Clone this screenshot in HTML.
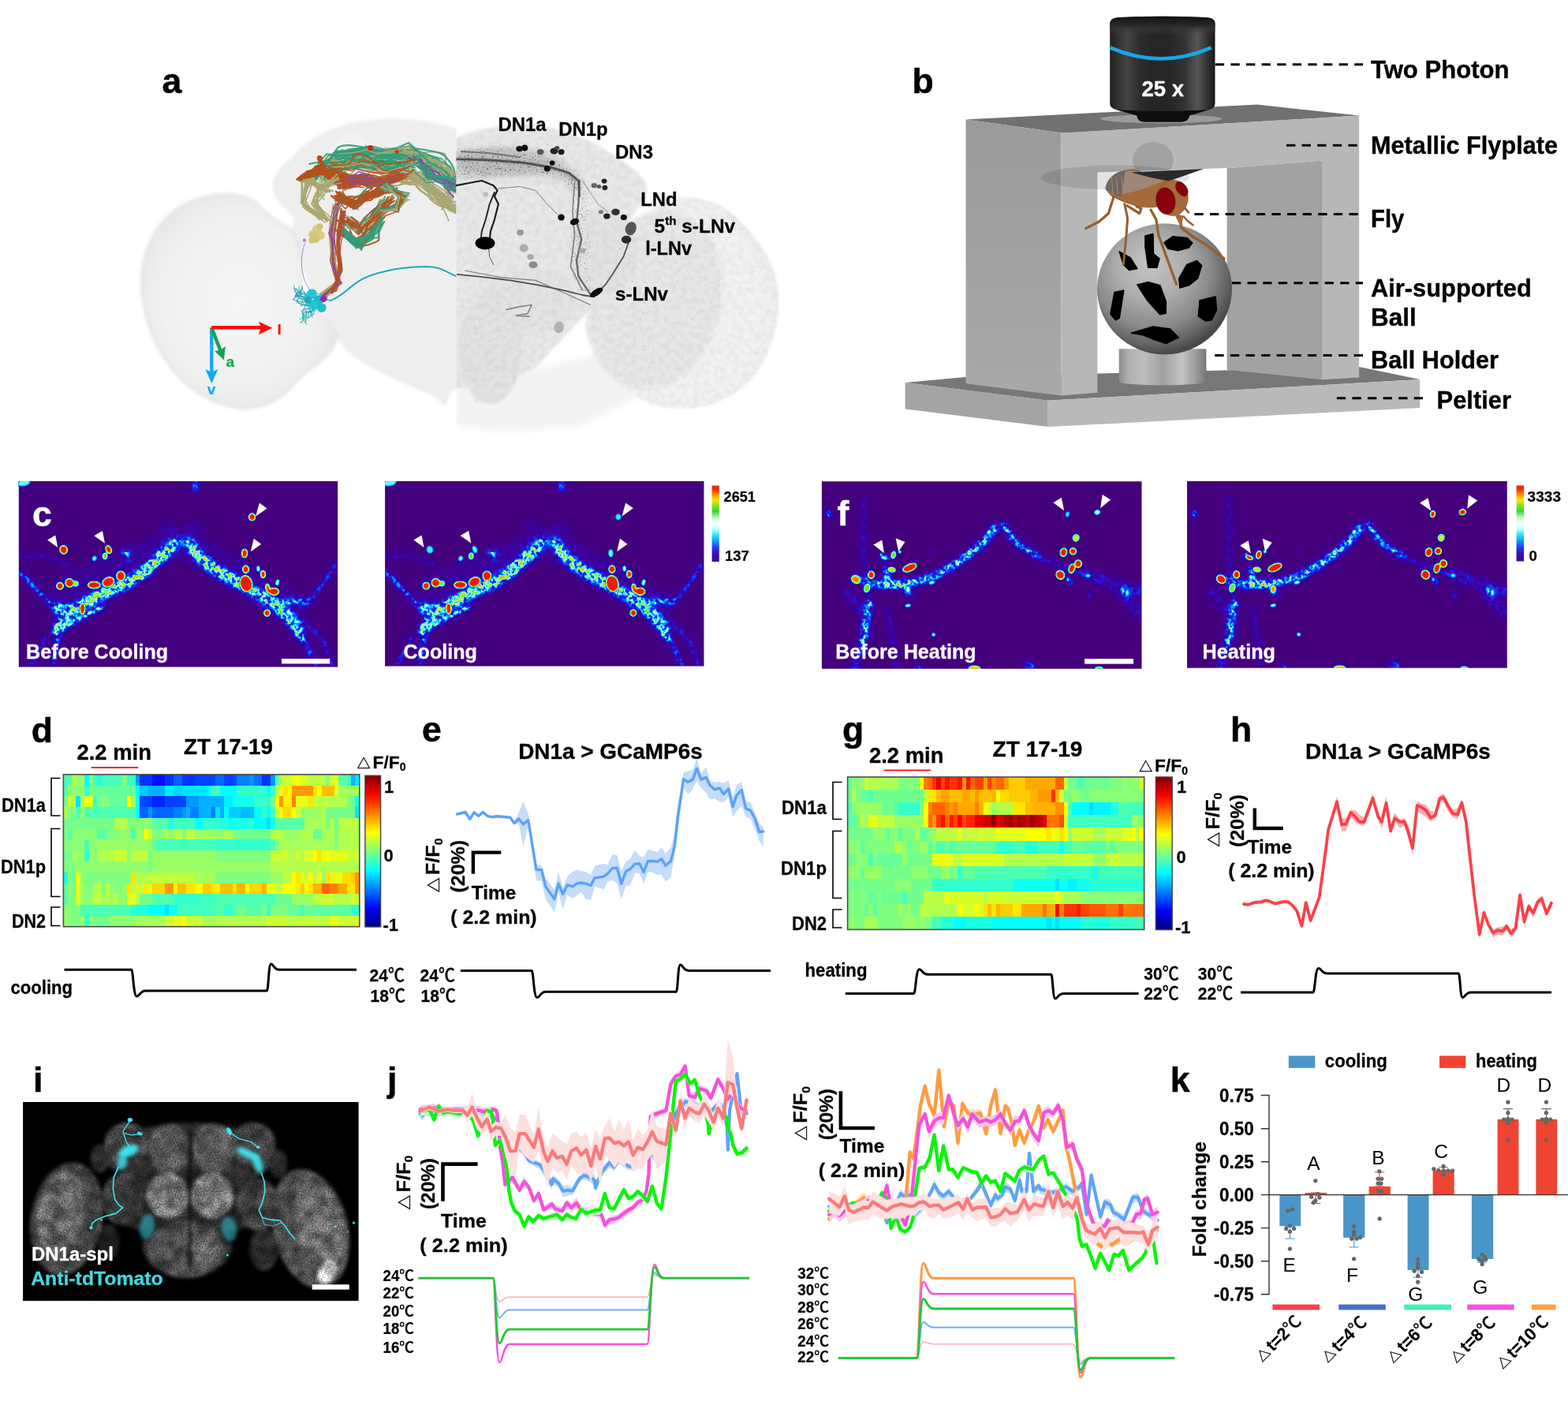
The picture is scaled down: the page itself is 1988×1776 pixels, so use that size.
<!DOCTYPE html>
<html lang="en"><head><meta charset="utf-8"><title>Figure</title>
<style>
html,body{margin:0;padding:0;background:#fff;}
body{width:1988px;height:1776px;overflow:hidden;position:relative;}
svg{position:absolute;left:0;top:0;display:block;}
text{font-family:"Liberation Sans","Noto Sans CJK SC",sans-serif;font-weight:bold;}
.r{font-weight:normal;}
</style></head><body>
<svg width="1988" height="1776" viewBox="0 0 1988 1776" role="img" aria-label="Figure panels a to k">
<defs>
<filter id="aSoft" x="-5%" y="-5%" width="110%" height="110%"><feGaussianBlur stdDeviation="2.2"/></filter>
<filter id="aSoft1" x="-10%" y="-10%" width="120%" height="120%"><feGaussianBlur stdDeviation="0.6"/></filter>
<filter id="aSoft3" x="-20%" y="-20%" width="140%" height="140%"><feGaussianBlur stdDeviation="5"/></filter>
<filter id="aFib" x="-5%" y="-5%" width="110%" height="110%"><feGaussianBlur stdDeviation="0.45"/></filter>
<filter id="aTex" x="0" y="0" width="100%" height="100%" color-interpolation-filters="sRGB">
<feGaussianBlur in="SourceGraphic" stdDeviation="1.6" result="b"/>
<feTurbulence type="fractalNoise" baseFrequency="0.14" numOctaves="3" seed="5" result="t"/>
<feColorMatrix in="t" type="matrix" values="0 0 0 0 0  0 0 0 0 0  0 0 0 0 0  0.1 0 0 0 -0.035" result="n"/>
<feComposite in="n" in2="b" operator="in" result="nm"/>
<feMerge><feMergeNode in="b"/><feMergeNode in="nm"/></feMerge>
</filter>
<filter id="aSpk" x="0" y="0" width="100%" height="100%" color-interpolation-filters="sRGB">
<feTurbulence type="fractalNoise" baseFrequency="0.7" numOctaves="1" seed="9" result="t"/>
<feColorMatrix in="t" type="matrix" values="0 0 0 0 0.1  0 0 0 0 0.1  0 0 0 0 0.1  9 0 0 0 -6.3" result="n"/>
<feComposite in="n" in2="SourceGraphic" operator="in"/>
</filter>
<filter id="aSpk2" x="0" y="0" width="100%" height="100%" color-interpolation-filters="sRGB">
<feTurbulence type="fractalNoise" baseFrequency="0.45" numOctaves="2" seed="4" result="t"/>
<feColorMatrix in="t" type="matrix" values="0 0 0 0 0.05  0 0 0 0 0.05  0 0 0 0 0.05  6 0 0 0 -3.55" result="n"/>
<feGaussianBlur in="SourceGraphic" stdDeviation="3" result="sb"/>
<feComposite in="n" in2="sb" operator="in"/>
</filter>
<radialGradient id="lobeG" cx="0.5" cy="0.5" r="0.55"><stop offset="0" stop-color="#f6f6f6"/><stop offset="0.7" stop-color="#f1f1f1"/><stop offset="1" stop-color="#e6e6e6"/></radialGradient>
<radialGradient id="lobeR" cx="0.45" cy="0.52" r="0.55"><stop offset="0" stop-color="#f1f1f1"/><stop offset="0.85" stop-color="#f2f2f2"/><stop offset="1" stop-color="#ededed"/></radialGradient>
<clipPath id="aRight"><rect x="578.6" y="120" width="430" height="450"/></clipPath>
<clipPath id="aLeft"><rect x="150" y="120" width="428.6" height="450"/></clipPath>
<linearGradient id="objG" x1="0" y1="0" x2="1" y2="0">
<stop offset="0" stop-color="#1e1e1e"/><stop offset="0.06" stop-color="#2e2e2e"/><stop offset="0.16" stop-color="#444"/><stop offset="0.3" stop-color="#2a2a2a"/><stop offset="0.55" stop-color="#252525"/><stop offset="0.72" stop-color="#343434"/><stop offset="0.83" stop-color="#565656"/><stop offset="0.93" stop-color="#303030"/><stop offset="1" stop-color="#1a1a1a"/></linearGradient>
<linearGradient id="objT" x1="0" y1="0" x2="0" y2="1"><stop offset="0" stop-color="#111"/><stop offset="0.5" stop-color="#2a2a2a"/><stop offset="1" stop-color="#444" stop-opacity="0"/></linearGradient>
<radialGradient id="ballG" cx="0.42" cy="0.38" r="0.62" fx="0.38" fy="0.3">
<stop offset="0" stop-color="#c4c4c4"/><stop offset="0.4" stop-color="#adadad"/><stop offset="0.7" stop-color="#8a8a8a"/><stop offset="0.9" stop-color="#626262"/><stop offset="1" stop-color="#484848"/></radialGradient>
<linearGradient id="holdG" x1="0" y1="0" x2="1" y2="0">
<stop offset="0" stop-color="#8c8c8c"/><stop offset="0.12" stop-color="#b2b2b2"/><stop offset="0.3" stop-color="#bdbdbd"/><stop offset="0.5" stop-color="#a0a0a0"/><stop offset="0.72" stop-color="#c4c4c4"/><stop offset="0.88" stop-color="#9a9a9a"/><stop offset="1" stop-color="#777"/></linearGradient>
<linearGradient id="sideG" x1="0" y1="0" x2="0" y2="1"><stop offset="0" stop-color="#9a9a9a"/><stop offset="1" stop-color="#a9a9a9"/></linearGradient>
<filter id="bSoft" x="-5%" y="-5%" width="110%" height="110%"><feGaussianBlur stdDeviation="0.7"/></filter>
<filter id="bSoft2" x="-20%" y="-20%" width="140%" height="140%"><feGaussianBlur stdDeviation="2.5"/></filter>
<clipPath id="ballClip"><ellipse cx="1476.6" cy="366.3" rx="85.3" ry="83"/></clipPath>
<filter id="cfBand" x="0" y="0" width="100%" height="100%" filterUnits="objectBoundingBox" color-interpolation-filters="sRGB">
<feGaussianBlur in="SourceGraphic" stdDeviation="2.2" result="b"/>
<feGaussianBlur in="SourceGraphic" stdDeviation="6" result="bw"/>
<feTurbulence type="fractalNoise" baseFrequency="0.2" numOctaves="2" seed="7" result="t"/>
<feColorMatrix in="t" type="matrix" values="3.0 0 0 0 -1.0  3.0 0 0 0 -1.0  3.0 0 0 0 -1.0  0 0 0 0 1" result="n"/>
<feComposite in="b" in2="n" operator="arithmetic" k1="1.35" k2="0.1" k3="0" k4="0" result="m"/>
<feComposite in="m" in2="bw" operator="arithmetic" k1="0" k2="1" k3="0.45" k4="0" result="m2"/>
<feColorMatrix in="m2" type="matrix" values="1 0 0 0 0  1 0 0 0 0  1 0 0 0 0  0 0 0 0 1" result="g"/>
<feComponentTransfer in="g">
<feFuncR type="table" tableValues="0.263 0.247 0.231 0.194 0.156 0.110 0.055 0.000 0.000 0.000 0.157 0.471 0.784 0.686 0.588 0.431 0.275 0.557 0.839 0.984 0.992 1.000 0.990 0.980 0.961 0.941"/><feFuncG type="table" tableValues="0.004 0.006 0.008 0.044 0.080 0.157 0.275 0.392 0.573 0.753 0.875 0.937 1.000 0.990 0.980 0.951 0.922 0.945 0.969 0.878 0.675 0.471 0.304 0.137 0.118 0.098"/><feFuncB type="table" tableValues="0.494 0.559 0.624 0.743 0.862 0.937 0.969 1.000 1.000 1.000 1.000 1.000 1.000 0.794 0.588 0.353 0.118 0.071 0.024 0.000 0.000 0.000 0.010 0.020 0.029 0.039"/>
</feComponentTransfer>
</filter>
<filter id="cfBlob" x="-5%" y="-5%" width="110%" height="110%" color-interpolation-filters="sRGB">
<feGaussianBlur in="SourceGraphic" stdDeviation="1.0" result="b"/>
<feColorMatrix in="b" type="matrix" values="0 0 0 1 0  0 0 0 1 0  0 0 0 1 0  0 0 0 1 0" result="g"/>
<feComponentTransfer in="g">
<feFuncR type="table" tableValues="0.263 0.247 0.231 0.194 0.156 0.110 0.055 0.000 0.000 0.000 0.157 0.471 0.784 0.686 0.588 0.431 0.275 0.557 0.839 0.984 0.992 1.000 0.990 0.980 0.961 0.941"/><feFuncG type="table" tableValues="0.004 0.006 0.008 0.044 0.080 0.157 0.275 0.392 0.573 0.753 0.875 0.937 1.000 0.990 0.980 0.951 0.922 0.945 0.969 0.878 0.675 0.471 0.304 0.137 0.118 0.098"/><feFuncB type="table" tableValues="0.494 0.559 0.624 0.743 0.862 0.937 0.969 1.000 1.000 1.000 1.000 1.000 1.000 0.794 0.588 0.353 0.118 0.071 0.024 0.000 0.000 0.000 0.010 0.020 0.029 0.039"/>
<feFuncA type="linear" slope="5" intercept="-0.6"/>
</feComponentTransfer>
</filter>
<filter id="cfBandF" x="0" y="0" width="100%" height="100%" filterUnits="objectBoundingBox" color-interpolation-filters="sRGB">
<feGaussianBlur in="SourceGraphic" stdDeviation="2.2" result="b"/>
<feGaussianBlur in="SourceGraphic" stdDeviation="6" result="bw"/>
<feTurbulence type="fractalNoise" baseFrequency="0.2" numOctaves="2" seed="7" result="t"/>
<feColorMatrix in="t" type="matrix" values="3.0 0 0 0 -1.0  3.0 0 0 0 -1.0  3.0 0 0 0 -1.0  0 0 0 0 1" result="n"/>
<feComposite in="b" in2="n" operator="arithmetic" k1="1.5" k2="0.1" k3="0" k4="0" result="m"/>
<feComposite in="m" in2="bw" operator="arithmetic" k1="0" k2="1" k3="0.5" k4="0" result="m2"/>
<feColorMatrix in="m2" type="matrix" values="1 0 0 0 0  1 0 0 0 0  1 0 0 0 0  0 0 0 0 1" result="g"/>
<feComponentTransfer in="g">
<feFuncR type="table" tableValues="0.267 0.251 0.235 0.196 0.157 0.110 0.055 0.000 0.000 0.000 0.157 0.471 0.784 0.686 0.588 0.431 0.275 0.557 0.839 0.984 0.992 1.000 0.990 0.980 0.961 0.941"/><feFuncG type="table" tableValues="0.000 0.002 0.004 0.042 0.079 0.157 0.275 0.392 0.573 0.753 0.875 0.937 1.000 0.990 0.980 0.951 0.922 0.945 0.969 0.878 0.675 0.471 0.304 0.137 0.118 0.098"/><feFuncB type="table" tableValues="0.486 0.551 0.616 0.738 0.860 0.937 0.969 1.000 1.000 1.000 1.000 1.000 1.000 0.794 0.588 0.353 0.118 0.071 0.024 0.000 0.000 0.000 0.010 0.020 0.029 0.039"/>
</feComponentTransfer>
</filter>
<filter id="cfBlobF" x="-5%" y="-5%" width="110%" height="110%" color-interpolation-filters="sRGB">
<feGaussianBlur in="SourceGraphic" stdDeviation="1.0" result="b"/>
<feColorMatrix in="b" type="matrix" values="0 0 0 1 0  0 0 0 1 0  0 0 0 1 0  0 0 0 1 0" result="g"/>
<feComponentTransfer in="g">
<feFuncR type="table" tableValues="0.267 0.251 0.235 0.196 0.157 0.110 0.055 0.000 0.000 0.000 0.157 0.471 0.784 0.686 0.588 0.431 0.275 0.557 0.839 0.984 0.992 1.000 0.990 0.980 0.961 0.941"/><feFuncG type="table" tableValues="0.000 0.002 0.004 0.042 0.079 0.157 0.275 0.392 0.573 0.753 0.875 0.937 1.000 0.990 0.980 0.951 0.922 0.945 0.969 0.878 0.675 0.471 0.304 0.137 0.118 0.098"/><feFuncB type="table" tableValues="0.486 0.551 0.616 0.738 0.860 0.937 0.969 1.000 1.000 1.000 1.000 1.000 1.000 0.794 0.588 0.353 0.118 0.071 0.024 0.000 0.000 0.000 0.010 0.020 0.029 0.039"/>
<feFuncA type="linear" slope="5" intercept="-0.6"/>
</feComponentTransfer>
</filter>
<linearGradient id="cfbar" x1="0" y1="0" x2="0" y2="1"><stop offset="0" stop-color="#e8200a"/><stop offset="0.05" stop-color="#ff3000"/><stop offset="0.12" stop-color="#ff9000"/><stop offset="0.19" stop-color="#ffe800"/><stop offset="0.27" stop-color="#80e020"/><stop offset="0.34" stop-color="#30d830"/><stop offset="0.42" stop-color="#c0f8c0"/><stop offset="0.5" stop-color="#ffffff"/><stop offset="0.58" stop-color="#b0ffff"/><stop offset="0.66" stop-color="#20e0f0"/><stop offset="0.74" stop-color="#1090ff"/><stop offset="0.82" stop-color="#2838f0"/><stop offset="0.9" stop-color="#3810b8"/><stop offset="1" stop-color="#38088c"/></linearGradient>
<linearGradient id="jetv" x1="0" y1="0" x2="0" y2="1"><stop offset="0.000" stop-color="#800000"/><stop offset="0.025" stop-color="#990000"/><stop offset="0.050" stop-color="#b30000"/><stop offset="0.075" stop-color="#cc0000"/><stop offset="0.100" stop-color="#e50000"/><stop offset="0.125" stop-color="#ff0000"/><stop offset="0.150" stop-color="#ff1a00"/><stop offset="0.175" stop-color="#ff3300"/><stop offset="0.200" stop-color="#ff4c00"/><stop offset="0.225" stop-color="#ff6600"/><stop offset="0.250" stop-color="#ff8000"/><stop offset="0.275" stop-color="#ff9900"/><stop offset="0.300" stop-color="#ffb300"/><stop offset="0.325" stop-color="#ffcc00"/><stop offset="0.350" stop-color="#ffe500"/><stop offset="0.375" stop-color="#ffff00"/><stop offset="0.400" stop-color="#e5ff1a"/><stop offset="0.425" stop-color="#ccff33"/><stop offset="0.450" stop-color="#b3ff4c"/><stop offset="0.475" stop-color="#99ff66"/><stop offset="0.500" stop-color="#80ff80"/><stop offset="0.525" stop-color="#66ff99"/><stop offset="0.550" stop-color="#4cffb3"/><stop offset="0.575" stop-color="#33ffcc"/><stop offset="0.600" stop-color="#1affe5"/><stop offset="0.625" stop-color="#00ffff"/><stop offset="0.650" stop-color="#00e5ff"/><stop offset="0.675" stop-color="#00ccff"/><stop offset="0.700" stop-color="#00b3ff"/><stop offset="0.725" stop-color="#0099ff"/><stop offset="0.750" stop-color="#0080ff"/><stop offset="0.775" stop-color="#0066ff"/><stop offset="0.800" stop-color="#004cff"/><stop offset="0.825" stop-color="#0033ff"/><stop offset="0.850" stop-color="#001aff"/><stop offset="0.875" stop-color="#0000ff"/><stop offset="0.900" stop-color="#0000e5"/><stop offset="0.925" stop-color="#0000cc"/><stop offset="0.950" stop-color="#0000b3"/><stop offset="0.975" stop-color="#000099"/><stop offset="1.000" stop-color="#000080"/></linearGradient>
<filter id="brTex" x="0" y="0" width="100%" height="100%" color-interpolation-filters="sRGB">
<feGaussianBlur in="SourceGraphic" stdDeviation="2.2" result="b"/>
<feTurbulence type="fractalNoise" baseFrequency="0.55" numOctaves="2" seed="3" result="t"/>
<feColorMatrix in="t" type="matrix" values="1.6 0 0 0 -0.3  1.6 0 0 0 -0.3  1.6 0 0 0 -0.3  0 0 0 0 1" result="n"/>
<feTurbulence type="fractalNoise" baseFrequency="0.06" numOctaves="2" seed="11" result="t2"/>
<feColorMatrix in="t2" type="matrix" values="2.0 0 0 0 -0.5  2.0 0 0 0 -0.5  2.0 0 0 0 -0.5  0 0 0 0 1" result="n2"/>
<feComposite in="b" in2="n" operator="arithmetic" k1="0.7" k2="0.6" k3="0" k4="0" result="m"/>
<feComposite in="m" in2="n2" operator="arithmetic" k1="0.6" k2="0.7" k3="0" k4="0"/>
</filter>
<filter id="cyBlur" x="-20%" y="-20%" width="140%" height="140%"><feGaussianBlur stdDeviation="0.7"/></filter>
<filter id="cyBlur2" x="-30%" y="-30%" width="160%" height="160%"><feGaussianBlur stdDeviation="2.2"/></filter>
<clipPath id="cli"><rect x="0" y="0" width="425.5" height="251.9"/></clipPath>
</defs>

<text x="205.5" y="118.0" font-size="44.5" stroke="#000" stroke-width="0.53" stroke-linejoin="round" >a</text>
<g clip-path="url(#aLeft)">
<g filter="url(#aSoft)">
<path d="M 179.8,367.8 C 177.3,318.2 197.2,268.7 254.2,251.3 C 283.9,242.6 318.6,243.9 333.4,266.2 C 343.3,276.1 358.2,283.5 368.1,291.0 C 383.0,308.3 378.0,343.0 383.0,367.8 C 397.9,392.5 427.6,412.4 426.4,429.7 C 420.2,454.5 395.4,461.9 373.1,486.7 C 353.3,511.5 321.1,521.4 298.8,516.4 C 234.3,506.5 184.8,442.1 179.8,367.8 Z" fill="url(#lobeG)" stroke="#dedede" stroke-width="2"/>
<path d="M 586.2,167.1 C 531.7,147.3 482.1,149.7 444.9,157.2 C 407.8,167.1 383.0,184.4 370.6,201.8 C 348.3,214.2 340.9,236.5 353.3,253.8 C 365.6,268.7 378.0,273.6 373.1,283.5 C 368.1,291.0 375.6,298.4 379.3,313.3 C 383.0,338.0 392.9,362.8 410.2,392.5 C 422.6,417.3 430.1,432.2 444.9,447.1 C 469.7,466.9 511.8,484.2 551.5,501.6 L 563.9,512.7 L 571.3,494.1 L 586.2,491.7 Z" fill="#eeeeee" stroke="#e4e4e4" stroke-width="1.5"/>
<ellipse cx="444.9" cy="214.2" rx="30" ry="45" fill="#f2f2f2"/>
</g>
<g filter="url(#aFib)">
<path d="M476.1,200.8 C489.9,200.5 504.8,204.8 518.5,198.2 C534.7,199.7 539.0,195.0 555.5,200.9 C565.7,219.2 572.3,222.5 581.0,235.0" fill="none" stroke="#a9a672" stroke-width="2.03" stroke-opacity="0.95" stroke-linecap="round"/>
<path d="M475.0,204.5 C495.4,193.1 495.0,194.1 525.3,193.0 C532.7,203.4 550.5,198.5 559.0,210.6 C571.9,212.6 575.0,222.0 584.2,230.3" fill="none" stroke="#a9a672" stroke-width="2.10" stroke-opacity="0.95" stroke-linecap="round"/>
<path d="M490.7,200.8 C498.7,190.5 511.5,192.2 523.8,190.3 C526.8,193.5 537.0,210.0 543.8,212.2 C555.9,233.2 567.4,227.7 582.1,240.9" fill="none" stroke="#a9a672" stroke-width="2.16" stroke-opacity="0.95" stroke-linecap="round"/>
<path d="M478.0,197.8 C491.7,203.4 500.1,202.7 525.2,195.3 C532.3,202.5 545.3,213.0 555.9,213.0 C568.0,226.2 583.3,222.7 592.0,232.5" fill="none" stroke="#a9a672" stroke-width="2.30" stroke-opacity="0.95" stroke-linecap="round"/>
<path d="M482.4,206.7 C490.6,202.8 503.1,192.2 519.8,183.3 C522.5,189.5 544.1,199.7 558.8,211.9 C570.4,212.7 569.7,219.1 574.8,229.7" fill="none" stroke="#a9a672" stroke-width="1.79" stroke-opacity="0.95" stroke-linecap="round"/>
<path d="M460.7,205.7 C480.4,207.3 499.1,194.6 523.1,191.3 C533.7,191.5 543.0,197.0 552.1,209.2 C569.9,216.7 588.3,224.5 590.7,230.6" fill="none" stroke="#a9a672" stroke-width="1.62" stroke-opacity="0.95" stroke-linecap="round"/>
<path d="M477.7,208.9 C489.4,195.4 514.2,207.3 529.2,198.6 C531.6,189.6 559.3,192.9 564.2,195.2 C565.2,202.3 565.5,225.9 575.2,235.9" fill="none" stroke="#a9a672" stroke-width="1.79" stroke-opacity="0.95" stroke-linecap="round"/>
<path d="M473.6,201.5 C487.6,198.1 511.9,194.7 520.3,199.3 C534.7,203.6 539.4,201.4 552.2,207.1 C569.3,226.5 564.8,225.2 579.2,238.5" fill="none" stroke="#a9a672" stroke-width="2.13" stroke-opacity="0.95" stroke-linecap="round"/>
<path d="M478.3,204.1 C494.3,204.4 495.5,207.5 512.7,196.8 C524.2,204.9 529.2,207.7 545.5,211.0 C553.2,218.6 565.7,215.9 569.5,222.3" fill="none" stroke="#2f9f7c" stroke-width="1.49" stroke-opacity="0.95" stroke-linecap="round"/>
<path d="M472.2,196.1 C496.6,187.7 504.9,195.4 522.3,194.6 C525.7,205.3 545.4,197.5 556.5,205.1 C559.4,209.9 568.2,220.8 572.1,240.0" fill="none" stroke="#a9a672" stroke-width="1.54" stroke-opacity="0.95" stroke-linecap="round"/>
<path d="M471.9,215.7 C487.5,204.8 499.6,199.2 511.6,191.0 C529.9,202.7 539.1,198.4 556.4,207.3 C569.2,223.3 566.5,230.6 571.7,233.1" fill="none" stroke="#2f9f7c" stroke-width="1.47" stroke-opacity="0.95" stroke-linecap="round"/>
<path d="M472.2,195.8 C484.6,192.4 511.6,192.5 517.1,198.3 C536.6,201.0 538.7,201.8 553.5,205.0 C556.6,215.7 572.7,230.7 578.4,239.4" fill="none" stroke="#a9a672" stroke-width="2.19" stroke-opacity="0.95" stroke-linecap="round"/>
<path d="M474.4,204.1 C493.7,194.4 501.1,183.1 524.7,186.8 C531.9,192.8 540.0,198.3 540.8,198.6 C553.0,218.2 564.5,219.6 578.2,235.9" fill="none" stroke="#2f9f7c" stroke-width="2.17" stroke-opacity="0.95" stroke-linecap="round"/>
<path d="M471.9,201.6 C498.4,208.7 506.7,200.7 521.1,193.4 C528.7,190.2 547.4,206.1 547.8,201.4 C559.7,211.6 576.3,226.1 584.7,237.8" fill="none" stroke="#2f9f7c" stroke-width="1.53" stroke-opacity="0.95" stroke-linecap="round"/>
<path d="M481.3,205.2 C504.8,204.4 516.2,191.0 529.2,188.5 C540.0,190.6 561.9,191.9 566.0,200.1 C579.6,212.9 575.9,225.6 580.0,240.5" fill="none" stroke="#2f9f7c" stroke-width="2.23" stroke-opacity="0.95" stroke-linecap="round"/>
<path d="M478.6,196.2 C496.2,194.1 504.9,200.2 513.8,186.4 C523.5,202.8 543.9,200.9 556.5,212.5 C560.9,214.9 569.3,226.5 576.7,231.3" fill="none" stroke="#a9a672" stroke-width="1.72" stroke-opacity="0.95" stroke-linecap="round"/>
<path d="M466.7,201.3 C487.7,197.3 499.4,191.5 522.7,190.2 C540.6,192.5 556.1,203.6 570.4,211.2 C575.7,220.7 580.4,233.8 578.1,243.8" fill="none" stroke="#2f9f7c" stroke-width="2.23" stroke-opacity="0.95" stroke-linecap="round"/>
<path d="M466.4,199.6 C481.0,203.6 499.7,186.8 518.7,186.1 C529.5,199.4 538.8,204.5 554.7,210.8 C565.5,221.9 575.0,222.0 575.5,232.2" fill="none" stroke="#a9a672" stroke-width="1.95" stroke-opacity="0.95" stroke-linecap="round"/>
<path d="M474.4,208.4 C488.9,204.7 497.0,201.0 525.0,194.3 C533.9,197.8 545.1,209.0 548.2,212.3 C554.4,215.7 568.6,217.3 574.4,231.3" fill="none" stroke="#2f9f7c" stroke-width="1.68" stroke-opacity="0.95" stroke-linecap="round"/>
<path d="M478.5,198.8 C492.6,195.3 513.8,202.1 538.4,198.9 C546.0,206.3 551.7,195.6 547.3,203.1 C559.8,210.3 560.4,235.5 564.8,239.7" fill="none" stroke="#2f9f7c" stroke-width="1.87" stroke-opacity="0.95" stroke-linecap="round"/>
<path d="M482.1,203.1 C506.4,195.1 503.3,189.1 523.7,189.3 C527.2,193.3 537.2,194.1 559.7,201.4 C569.4,208.0 577.9,227.5 588.0,235.9" fill="none" stroke="#2f9f7c" stroke-width="1.65" stroke-opacity="0.95" stroke-linecap="round"/>
<path d="M478.5,195.5 C495.4,198.5 503.3,200.5 519.8,200.3 C533.3,206.9 540.2,208.3 555.3,205.2 C569.3,223.2 559.2,237.4 571.2,246.5" fill="none" stroke="#2f9f7c" stroke-width="1.42" stroke-opacity="0.95" stroke-linecap="round"/>
<path d="M483.8,196.8 C482.8,194.7 499.4,186.6 502.8,196.2 C517.0,202.9 531.5,208.5 554.4,214.5 C562.2,212.2 575.4,215.3 589.0,229.8" fill="none" stroke="#a9a672" stroke-width="2.28" stroke-opacity="0.95" stroke-linecap="round"/>
<path d="M462.4,199.2 C479.0,200.2 489.6,194.4 510.7,189.9 C531.8,195.0 549.4,202.8 562.8,212.2 C572.2,215.0 575.1,224.7 581.7,233.8" fill="none" stroke="#a9a672" stroke-width="1.60" stroke-opacity="0.95" stroke-linecap="round"/>
<path d="M493.0,207.6 C500.4,203.5 516.3,197.4 521.0,194.7 C533.3,208.1 534.3,203.3 556.7,219.8 C561.4,216.4 570.8,232.4 575.0,233.6" fill="none" stroke="#2f9f7c" stroke-width="1.42" stroke-opacity="0.95" stroke-linecap="round"/>
<path d="M473.2,209.5 C498.4,208.7 511.4,193.4 526.0,192.9 C546.5,207.5 546.3,197.7 555.8,207.0 C558.4,216.8 564.0,221.3 575.2,229.2" fill="none" stroke="#a9a672" stroke-width="2.14" stroke-opacity="0.95" stroke-linecap="round"/>
<path d="M491.1,210.5 C496.8,210.8 498.4,193.6 510.7,186.5 C518.8,195.5 538.0,207.0 554.5,203.5 C563.3,208.2 571.7,213.1 576.9,222.1" fill="none" stroke="#a9a672" stroke-width="1.91" stroke-opacity="0.95" stroke-linecap="round"/>
<path d="M474.1,197.4 C479.5,190.7 493.9,193.5 513.1,194.5 C527.3,203.2 531.9,207.7 550.0,209.6 C560.3,226.1 567.2,224.8 578.4,240.9" fill="none" stroke="#a9a672" stroke-width="1.48" stroke-opacity="0.95" stroke-linecap="round"/>
<path d="M479.0,210.1 C488.3,213.6 502.6,208.0 516.1,201.2 C529.6,206.6 541.2,211.2 548.0,210.3 C555.4,217.8 562.5,235.5 568.5,240.6" fill="none" stroke="#2f9f7c" stroke-width="1.93" stroke-opacity="0.95" stroke-linecap="round"/>
<path d="M477.7,194.3 C497.9,194.9 517.0,194.8 532.3,193.0 C546.6,198.1 546.8,204.6 554.6,214.2 C565.7,225.2 563.6,234.6 575.2,244.7" fill="none" stroke="#a9a672" stroke-width="1.63" stroke-opacity="0.95" stroke-linecap="round"/>
<path d="M479.4,199.7 C497.9,198.1 510.2,204.1 526.7,196.9 C528.2,203.1 533.8,196.7 547.1,205.3 C553.0,226.3 570.5,237.1 586.1,244.7" fill="none" stroke="#a9a672" stroke-width="1.67" stroke-opacity="0.95" stroke-linecap="round"/>
<path d="M470.3,196.5 C487.9,192.7 506.7,186.4 518.2,180.9 C528.7,189.8 544.8,209.2 557.7,212.9 C562.7,215.1 565.7,216.2 576.6,233.7" fill="none" stroke="#2f9f7c" stroke-width="1.93" stroke-opacity="0.95" stroke-linecap="round"/>
<path d="M495.9,220.8 C511.2,217.8 526.0,217.0 535.1,229.0 C540.7,239.0 552.6,248.3 564.4,252.1 C567.4,263.1 565.8,264.5 575.2,267.6" fill="none" stroke="#a9a672" stroke-width="2.06" stroke-opacity="0.95" stroke-linecap="round"/>
<path d="M493.3,223.3 C509.7,221.8 519.3,227.6 532.9,234.2 C540.0,236.9 552.3,255.4 566.9,243.6 C565.5,255.1 583.4,258.0 584.6,267.3" fill="none" stroke="#a9a672" stroke-width="1.70" stroke-opacity="0.95" stroke-linecap="round"/>
<path d="M488.4,215.1 C498.1,222.7 508.1,237.8 526.9,233.5 C533.2,246.2 553.5,250.8 557.7,260.9 C559.9,259.4 571.8,264.4 576.9,260.2" fill="none" stroke="#a9a672" stroke-width="1.96" stroke-opacity="0.95" stroke-linecap="round"/>
<path d="M494.8,220.6 C500.2,219.3 512.7,226.9 517.6,222.9 C527.8,232.4 550.0,241.3 552.2,251.9 C561.9,260.8 577.0,262.8 586.3,275.8" fill="none" stroke="#a9a672" stroke-width="1.86" stroke-opacity="0.95" stroke-linecap="round"/>
<path d="M492.7,233.7 C514.5,224.9 519.8,236.6 536.4,226.1 C534.0,238.8 540.4,239.4 555.4,247.2 C563.4,256.6 557.5,249.0 580.5,263.3" fill="none" stroke="#a9a672" stroke-width="2.18" stroke-opacity="0.95" stroke-linecap="round"/>
<path d="M487.5,226.0 C501.4,233.3 515.5,227.6 526.2,234.1 C532.7,246.8 545.9,246.8 550.7,257.2 C571.0,256.1 572.2,254.0 586.1,255.6" fill="none" stroke="#a9a672" stroke-width="1.51" stroke-opacity="0.95" stroke-linecap="round"/>
<path d="M500.1,223.1 C522.9,217.7 534.2,232.7 541.7,232.4 C552.0,246.8 560.5,248.5 572.9,255.5 C571.2,265.3 564.8,260.3 577.4,266.5" fill="none" stroke="#a9a672" stroke-width="2.19" stroke-opacity="0.95" stroke-linecap="round"/>
<path d="M496.9,224.5 C499.5,215.4 506.6,222.7 521.8,218.0 C540.5,228.0 555.5,234.4 572.1,248.7 C569.9,256.9 565.7,259.5 571.1,267.1" fill="none" stroke="#a9a672" stroke-width="1.55" stroke-opacity="0.95" stroke-linecap="round"/>
<path d="M506.0,229.0 C513.7,227.9 523.7,216.6 528.2,223.9 C539.7,229.7 547.9,240.6 564.4,247.3 C560.5,250.9 564.4,261.8 569.0,267.1" fill="none" stroke="#a9a672" stroke-width="1.58" stroke-opacity="0.95" stroke-linecap="round"/>
<path d="M488.9,228.0 C502.2,226.8 510.9,228.6 532.3,233.2 C536.1,234.7 535.4,235.3 543.4,241.5 C555.3,252.8 561.8,260.6 568.8,279.8" fill="none" stroke="#a9a672" stroke-width="1.60" stroke-opacity="0.95" stroke-linecap="round"/>
<path d="M496.3,227.7 C516.5,226.2 523.7,222.1 532.0,217.7 C548.5,235.0 548.0,240.4 559.9,246.3 C569.8,262.3 576.8,258.9 581.2,270.3" fill="none" stroke="#a9a672" stroke-width="2.15" stroke-opacity="0.95" stroke-linecap="round"/>
<path d="M494.0,233.7 C510.5,240.6 515.5,224.2 520.1,227.6 C546.2,231.9 548.3,234.3 561.3,244.2 C570.2,254.2 572.6,263.0 586.2,274.9" fill="none" stroke="#a9a672" stroke-width="1.93" stroke-opacity="0.95" stroke-linecap="round"/>
<path d="M501.2,213.1 C513.4,220.2 527.8,214.5 535.3,228.9 C547.6,240.8 567.8,251.3 574.6,250.5 C567.9,259.4 573.2,263.3 560.5,261.9" fill="none" stroke="#a9a672" stroke-width="1.75" stroke-opacity="0.95" stroke-linecap="round"/>
<path d="M483.6,233.2 C502.7,223.3 516.5,223.6 529.0,220.5 C536.1,226.0 541.2,237.2 552.5,244.5 C554.2,260.0 564.4,262.6 580.8,261.2" fill="none" stroke="#a9a672" stroke-width="1.45" stroke-opacity="0.95" stroke-linecap="round"/>
<path d="M491.8,237.4 C513.6,233.8 533.0,227.8 543.1,223.5 C553.1,241.2 551.7,239.2 565.1,250.8 C565.6,249.5 564.8,246.1 562.8,255.6" fill="none" stroke="#a9a672" stroke-width="1.65" stroke-opacity="0.95" stroke-linecap="round"/>
<path d="M513.5,222.5 C517.4,217.3 521.6,224.0 520.5,224.2 C541.6,238.5 554.8,245.6 571.4,255.4 C569.6,261.8 571.5,262.0 577.9,269.8" fill="none" stroke="#a9a672" stroke-width="2.25" stroke-opacity="0.95" stroke-linecap="round"/>
<path d="M505.3,226.5 C510.8,228.9 516.0,224.1 536.9,221.9 C541.5,233.4 541.1,240.6 545.3,252.3 C556.7,264.2 564.4,261.6 580.6,268.4" fill="none" stroke="#a9a672" stroke-width="1.81" stroke-opacity="0.95" stroke-linecap="round"/>
<path d="M492.2,222.6 C501.6,221.6 512.8,223.1 527.9,216.9 C535.6,226.6 539.5,236.0 555.0,241.7 C559.4,250.9 568.1,254.5 573.0,262.7" fill="none" stroke="#a9a672" stroke-width="1.48" stroke-opacity="0.95" stroke-linecap="round"/>
<path d="M503.2,228.9 C510.2,231.2 523.7,214.3 534.8,220.5 C539.5,217.5 544.1,234.2 554.3,245.4 C557.8,252.0 564.2,257.7 572.2,268.5" fill="none" stroke="#a9a672" stroke-width="1.72" stroke-opacity="0.95" stroke-linecap="round"/>
<path d="M491.5,223.2 C502.7,220.5 512.0,223.5 530.8,230.2 C538.5,236.7 544.7,251.7 553.9,251.7 C564.9,252.3 568.5,258.7 574.8,259.0" fill="none" stroke="#a9a672" stroke-width="1.46" stroke-opacity="0.95" stroke-linecap="round"/>
<path d="M493.5,210.3 C504.3,226.8 514.9,217.8 538.3,230.0 C548.8,244.2 551.8,245.4 556.3,252.8 C559.1,260.5 566.0,261.0 576.8,269.9" fill="none" stroke="#a9a672" stroke-width="2.08" stroke-opacity="0.95" stroke-linecap="round"/>
<path d="M499.6,227.6 C509.7,229.6 518.2,234.8 529.6,234.1 C539.7,242.1 543.8,244.6 551.9,249.5 C561.7,253.0 565.0,266.1 580.0,267.6" fill="none" stroke="#a9a672" stroke-width="1.46" stroke-opacity="0.95" stroke-linecap="round"/>
<path d="M495.7,222.9 C511.4,225.8 532.4,226.7 546.1,227.9 C555.3,227.5 564.6,229.4 566.9,243.7 C573.5,254.9 565.7,262.0 564.7,262.6" fill="none" stroke="#a9a672" stroke-width="1.76" stroke-opacity="0.95" stroke-linecap="round"/>
<path d="M492.3,228.4 C501.2,234.6 520.1,221.4 529.7,229.3 C539.9,238.6 550.2,247.7 558.2,248.7 C559.2,248.0 562.7,266.6 559.8,265.5" fill="none" stroke="#a9a672" stroke-width="1.82" stroke-opacity="0.95" stroke-linecap="round"/>
<path d="M520.1,199.5 C526.0,209.0 528.9,211.2 541.8,215.9 C548.4,212.1 550.4,219.1 556.4,219.0 C561.8,229.9 566.2,241.0 574.8,249.3" fill="none" stroke="#8a45a8" stroke-width="2.18" stroke-opacity="0.95" stroke-linecap="round"/>
<path d="M531.3,197.0 C536.6,201.2 535.4,218.4 540.5,223.8 C547.1,225.9 557.9,230.5 557.2,226.4 C563.9,234.8 573.5,232.6 585.9,236.0" fill="none" stroke="#2f9f7c" stroke-width="2.04" stroke-opacity="0.95" stroke-linecap="round"/>
<path d="M533.3,201.5 C541.6,210.2 537.6,217.4 542.5,221.4 C549.0,222.0 561.0,232.4 571.0,226.9 C580.1,227.7 579.4,231.8 582.5,232.4" fill="none" stroke="#8a45a8" stroke-width="1.53" stroke-opacity="0.95" stroke-linecap="round"/>
<path d="M518.3,211.0 C529.4,207.4 532.1,210.5 544.8,219.9 C548.2,215.3 546.5,221.2 555.7,223.2 C560.8,231.8 569.5,237.8 579.3,242.9" fill="none" stroke="#2f9f7c" stroke-width="1.71" stroke-opacity="0.95" stroke-linecap="round"/>
<path d="M527.1,198.9 C534.6,203.1 537.7,208.6 549.7,224.1 C550.8,224.9 560.1,234.1 563.6,236.4 C565.5,232.2 575.6,234.4 574.4,238.7" fill="none" stroke="#2f9f7c" stroke-width="1.77" stroke-opacity="0.95" stroke-linecap="round"/>
<path d="M524.9,198.9 C532.6,204.1 538.1,212.9 542.3,225.3 C561.1,221.3 554.9,225.4 566.3,224.3 C566.5,232.3 579.9,231.8 576.6,238.1" fill="none" stroke="#8a45a8" stroke-width="1.52" stroke-opacity="0.95" stroke-linecap="round"/>
<path d="M526.7,208.0 C535.6,209.2 544.5,214.7 551.4,220.1 C551.0,228.5 567.3,233.3 574.8,234.1 C577.4,235.5 584.9,236.8 583.9,236.1" fill="none" stroke="#2f9f7c" stroke-width="1.75" stroke-opacity="0.95" stroke-linecap="round"/>
<path d="M530.1,203.3 C539.2,209.1 543.2,212.4 545.5,225.9 C547.2,226.6 559.0,225.0 565.3,225.2 C571.6,232.4 581.1,232.8 582.1,239.9" fill="none" stroke="#2f9f7c" stroke-width="1.50" stroke-opacity="0.95" stroke-linecap="round"/>
<path d="M525.6,205.4 C534.3,212.0 539.9,218.1 552.0,225.4 C560.1,228.2 560.2,222.9 568.0,224.4 C570.9,234.4 591.4,243.1 590.3,245.0" fill="none" stroke="#2f9f7c" stroke-width="2.26" stroke-opacity="0.95" stroke-linecap="round"/>
<path d="M517.5,199.7 C527.2,204.6 538.2,216.7 545.4,224.0 C552.2,224.0 554.2,223.5 567.5,228.1 C573.3,235.5 570.9,241.6 577.2,241.7" fill="none" stroke="#8a45a8" stroke-width="1.82" stroke-opacity="0.95" stroke-linecap="round"/>
<path d="M524.1,196.0 C532.6,206.3 543.4,211.4 547.3,222.6 C559.1,222.9 560.2,230.1 567.3,224.3 C573.3,233.2 577.5,227.1 580.8,240.2" fill="none" stroke="#2f9f7c" stroke-width="1.65" stroke-opacity="0.95" stroke-linecap="round"/>
<path d="M528.5,197.3 C528.6,212.7 537.0,218.1 541.8,226.8 C548.4,229.1 563.3,227.5 571.1,227.9 C575.3,235.7 578.3,241.9 584.4,245.1" fill="none" stroke="#2f9f7c" stroke-width="1.94" stroke-opacity="0.95" stroke-linecap="round"/>
<path d="M519.2,204.8 C537.7,210.7 541.2,220.4 545.6,225.1 C549.6,230.6 557.3,217.2 569.8,226.1 C578.6,234.6 580.3,233.4 585.6,238.9" fill="none" stroke="#2f9f7c" stroke-width="1.61" stroke-opacity="0.95" stroke-linecap="round"/>
<path d="M523.5,198.5 C533.9,208.3 537.1,217.3 547.9,223.7 C553.8,236.5 564.5,230.1 569.7,232.9 C563.9,235.3 579.4,243.5 577.1,242.4" fill="none" stroke="#8a45a8" stroke-width="1.80" stroke-opacity="0.95" stroke-linecap="round"/>
<path d="M531.2,201.7 C536.9,209.2 541.7,207.9 552.0,221.5 C558.2,229.4 570.7,232.2 574.0,235.0 C578.4,232.6 569.4,230.9 570.1,241.7" fill="none" stroke="#8a45a8" stroke-width="1.56" stroke-opacity="0.95" stroke-linecap="round"/>
<path d="M524.2,204.1 C524.7,213.1 550.4,222.4 556.1,223.3 C563.4,228.6 562.2,226.1 566.9,234.1 C567.0,239.4 571.5,239.2 576.7,243.3" fill="none" stroke="#2f9f7c" stroke-width="1.98" stroke-opacity="0.95" stroke-linecap="round"/>
<path d="M518.9,203.8 C518.7,216.9 534.6,222.5 540.3,231.5 C551.2,230.4 555.5,231.3 567.8,222.9 C569.4,239.6 586.2,235.5 587.1,249.3" fill="none" stroke="#2f9f7c" stroke-width="1.58" stroke-opacity="0.95" stroke-linecap="round"/>
<path d="M530.9,200.8 C537.0,212.2 540.4,211.2 541.2,219.8 C553.3,223.7 562.8,226.9 572.8,232.5 C579.9,231.6 574.1,237.2 575.2,235.8" fill="none" stroke="#8a45a8" stroke-width="1.77" stroke-opacity="0.95" stroke-linecap="round"/>
<path d="M522.6,197.8 C529.4,207.5 539.9,214.7 543.4,221.5 C551.0,223.9 559.6,223.5 572.4,227.7 C575.2,223.3 586.6,223.0 584.0,232.7" fill="none" stroke="#2f9f7c" stroke-width="2.08" stroke-opacity="0.95" stroke-linecap="round"/>
<path d="M524.1,201.6 C534.6,207.2 546.8,215.7 546.7,226.3 C556.0,219.3 557.2,226.1 563.5,229.8 C580.9,244.8 575.4,239.5 593.7,242.2" fill="none" stroke="#2f9f7c" stroke-width="1.42" stroke-opacity="0.95" stroke-linecap="round"/>
<path d="M414.4,222.2 C417.8,210.0 417.8,205.0 431.6,198.6 C436.7,200.3 454.6,188.0 468.6,193.1 C476.6,197.6 486.2,194.5 499.5,197.1" fill="none" stroke="#a9a672" stroke-width="1.66" stroke-opacity="0.95" stroke-linecap="round"/>
<path d="M402.9,227.5 C399.3,225.4 408.4,206.0 417.0,196.5 C436.9,197.8 446.5,191.2 463.9,187.3 C487.7,192.8 497.9,189.7 513.7,198.4" fill="none" stroke="#2f9f7c" stroke-width="1.95" stroke-opacity="0.95" stroke-linecap="round"/>
<path d="M402.5,223.7 C412.8,210.0 416.2,203.2 424.9,197.4 C445.6,191.7 455.0,183.2 479.4,191.4 C483.8,191.0 498.5,191.3 510.2,200.9" fill="none" stroke="#2f9f7c" stroke-width="1.94" stroke-opacity="0.95" stroke-linecap="round"/>
<path d="M406.9,231.0 C415.6,212.4 419.7,215.0 435.3,198.2 C447.7,201.9 457.0,192.5 470.0,193.4 C478.1,196.4 490.1,197.5 504.6,197.5" fill="none" stroke="#a9a672" stroke-width="2.10" stroke-opacity="0.95" stroke-linecap="round"/>
<path d="M418.4,219.4 C418.0,211.2 428.5,213.4 427.4,197.6 C441.0,199.7 457.5,188.9 472.3,194.3 C480.8,192.4 493.3,198.3 507.9,203.1" fill="none" stroke="#2f9f7c" stroke-width="1.65" stroke-opacity="0.95" stroke-linecap="round"/>
<path d="M403.5,234.9 C406.5,218.5 425.2,207.8 437.7,198.4 C443.4,191.3 460.2,187.1 467.2,184.9 C476.4,195.1 492.5,193.8 505.1,197.2" fill="none" stroke="#a9a672" stroke-width="1.47" stroke-opacity="0.95" stroke-linecap="round"/>
<path d="M415.5,220.9 C425.0,216.5 423.4,206.0 427.5,196.0 C445.5,191.7 456.6,193.0 471.9,188.5 C482.1,195.0 494.1,190.9 507.5,195.4" fill="none" stroke="#a9a672" stroke-width="2.28" stroke-opacity="0.95" stroke-linecap="round"/>
<path d="M412.5,229.9 C426.1,220.5 423.8,205.1 432.5,195.6 C442.9,183.9 462.0,191.1 463.9,185.4 C473.4,194.6 495.3,194.8 510.7,200.6" fill="none" stroke="#2f9f7c" stroke-width="2.11" stroke-opacity="0.95" stroke-linecap="round"/>
<path d="M411.6,231.3 C416.1,223.1 421.0,204.7 431.0,196.5 C448.0,193.7 456.0,194.0 474.6,192.8 C485.1,188.4 491.0,185.2 500.9,190.2" fill="none" stroke="#a9a672" stroke-width="1.57" stroke-opacity="0.95" stroke-linecap="round"/>
<path d="M406.9,215.7 C409.2,208.6 413.1,200.5 418.5,196.0 C440.6,200.3 455.3,202.0 475.0,200.2 C491.6,204.1 508.1,193.5 520.7,191.4" fill="none" stroke="#a9a672" stroke-width="1.92" stroke-opacity="0.95" stroke-linecap="round"/>
<path d="M407.4,228.5 C420.1,216.1 418.8,208.6 428.4,206.3 C445.3,200.0 454.9,207.6 466.3,192.5 C475.8,191.1 496.5,188.6 506.6,186.9" fill="none" stroke="#a9a672" stroke-width="1.89" stroke-opacity="0.95" stroke-linecap="round"/>
<path d="M400.5,225.1 C403.1,217.2 421.4,209.0 425.4,196.4 C445.8,199.6 448.9,198.4 469.9,199.8 C487.3,201.3 496.2,196.7 513.6,195.4" fill="none" stroke="#2f9f7c" stroke-width="2.05" stroke-opacity="0.95" stroke-linecap="round"/>
<path d="M395.1,224.8 C404.1,212.9 418.1,209.0 425.7,199.8 C445.5,198.4 460.9,198.9 473.9,195.5 C483.1,190.2 502.2,198.1 504.8,194.4" fill="none" stroke="#2f9f7c" stroke-width="1.43" stroke-opacity="0.95" stroke-linecap="round"/>
<path d="M399.2,228.5 C415.9,207.0 414.2,205.4 429.2,186.2 C439.3,182.4 450.9,184.1 465.9,187.9 C486.3,195.6 493.0,192.3 517.7,196.6" fill="none" stroke="#2f9f7c" stroke-width="2.15" stroke-opacity="0.95" stroke-linecap="round"/>
<path d="M408.4,210.9 C413.4,209.7 419.9,199.5 418.4,201.0 C440.5,199.8 441.1,190.0 464.6,194.0 C483.8,194.8 500.9,201.5 512.7,202.1" fill="none" stroke="#2f9f7c" stroke-width="1.94" stroke-opacity="0.95" stroke-linecap="round"/>
<path d="M407.2,222.6 C410.8,212.7 422.9,198.1 427.2,194.5 C439.9,199.8 453.4,191.7 470.1,195.2 C484.4,197.5 496.5,193.0 513.2,195.6" fill="none" stroke="#2f9f7c" stroke-width="1.65" stroke-opacity="0.95" stroke-linecap="round"/>
<path d="M400.3,221.8 C407.2,209.7 411.5,204.3 427.2,196.3 C438.0,194.8 454.8,194.6 466.4,186.4 C484.3,193.5 500.8,192.2 517.1,198.1" fill="none" stroke="#2f9f7c" stroke-width="2.22" stroke-opacity="0.95" stroke-linecap="round"/>
<path d="M393.4,219.3 C405.4,210.5 413.2,203.0 424.6,198.4 C439.7,203.4 447.3,191.1 469.9,195.1 C484.4,199.2 491.0,185.4 503.7,188.2" fill="none" stroke="#2f9f7c" stroke-width="1.59" stroke-opacity="0.95" stroke-linecap="round"/>
<path d="M412.0,221.8 C424.2,210.0 423.2,202.0 431.0,197.5 C446.1,201.7 457.6,203.1 473.3,199.1 C484.6,192.7 492.7,199.1 511.6,188.8" fill="none" stroke="#2f9f7c" stroke-width="1.49" stroke-opacity="0.95" stroke-linecap="round"/>
<path d="M414.4,223.4 C423.5,214.4 432.6,199.8 434.6,190.4 C443.4,193.3 452.7,197.2 465.5,195.4 C482.8,191.2 489.5,190.3 507.9,195.5" fill="none" stroke="#2f9f7c" stroke-width="2.09" stroke-opacity="0.95" stroke-linecap="round"/>
<path d="M398.3,224.6 C411.9,221.9 427.5,204.1 427.2,194.0 C434.0,190.5 461.3,193.2 469.1,187.4 C486.2,192.5 503.8,201.0 516.6,201.4" fill="none" stroke="#2f9f7c" stroke-width="2.04" stroke-opacity="0.95" stroke-linecap="round"/>
<path d="M414.8,224.4 C422.5,217.5 424.5,211.5 421.8,204.0 C435.4,209.1 457.9,193.2 465.6,186.1 C475.9,183.4 492.9,192.4 505.0,197.4" fill="none" stroke="#2f9f7c" stroke-width="1.87" stroke-opacity="0.95" stroke-linecap="round"/>
<path d="M408.2,230.7 C415.3,227.7 418.4,220.6 427.5,203.7 C453.8,205.2 454.8,194.0 470.4,190.0 C483.8,194.2 495.6,194.4 518.2,195.5" fill="none" stroke="#a9a672" stroke-width="1.55" stroke-opacity="0.95" stroke-linecap="round"/>
<path d="M401.4,224.1 C413.2,221.4 423.1,201.0 429.2,193.3 C445.6,192.7 464.6,187.3 471.4,190.2 C483.9,192.0 499.8,192.8 510.1,196.6" fill="none" stroke="#2f9f7c" stroke-width="1.93" stroke-opacity="0.95" stroke-linecap="round"/>
<path d="M407.9,216.6 C417.1,208.6 419.5,203.8 425.7,200.4 C448.6,198.0 444.5,196.8 472.0,194.9 C491.2,195.6 501.9,190.3 514.8,192.7" fill="none" stroke="#a9a672" stroke-width="2.26" stroke-opacity="0.95" stroke-linecap="round"/>
<path d="M399.6,229.0 C405.3,221.5 419.9,208.7 432.3,200.0 C442.3,192.0 460.7,192.9 476.6,191.6 C489.6,202.0 489.3,195.7 503.1,205.7" fill="none" stroke="#2f9f7c" stroke-width="1.72" stroke-opacity="0.95" stroke-linecap="round"/>
<path d="M419.7,230.3 C417.2,220.2 423.2,214.7 418.1,202.0 C430.9,194.7 453.4,195.7 471.7,193.1 C477.2,199.0 492.5,191.9 504.9,199.4" fill="none" stroke="#2f9f7c" stroke-width="1.91" stroke-opacity="0.95" stroke-linecap="round"/>
<path d="M410.6,228.1 C416.0,219.3 423.7,214.5 430.8,202.4 C439.7,194.8 455.4,197.4 467.6,191.9 C477.6,203.9 489.8,201.4 506.1,198.8" fill="none" stroke="#2f9f7c" stroke-width="1.80" stroke-opacity="0.95" stroke-linecap="round"/>
<path d="M397.7,227.8 C408.4,219.8 411.3,212.0 422.9,194.1 C431.1,187.4 452.4,193.0 467.2,198.0 C480.6,203.0 488.3,201.1 509.5,191.7" fill="none" stroke="#2f9f7c" stroke-width="1.93" stroke-opacity="0.95" stroke-linecap="round"/>
<path d="M399.1,222.0 C401.5,205.6 409.8,200.8 413.6,195.6 C424.2,195.0 444.5,200.4 460.6,193.6 C475.4,188.1 502.3,202.4 507.3,198.3" fill="none" stroke="#2f9f7c" stroke-width="1.92" stroke-opacity="0.95" stroke-linecap="round"/>
<path d="M394.6,221.8 C400.0,207.5 421.2,206.8 431.8,195.7 C449.1,193.2 462.3,191.6 484.9,194.7 C489.5,187.8 504.0,189.9 508.6,188.5" fill="none" stroke="#2f9f7c" stroke-width="1.50" stroke-opacity="0.95" stroke-linecap="round"/>
<path d="M411.2,226.0 C414.2,208.8 430.2,216.5 427.4,193.2 C438.2,192.0 455.4,189.5 468.1,188.7 C485.1,187.0 491.3,199.5 507.2,200.6" fill="none" stroke="#2f9f7c" stroke-width="1.87" stroke-opacity="0.95" stroke-linecap="round"/>
<path d="M406.2,225.8 C412.2,216.4 422.3,196.1 426.4,194.1 C441.9,188.5 452.1,191.8 471.4,192.4 C481.3,195.7 499.2,189.0 511.5,195.8" fill="none" stroke="#2f9f7c" stroke-width="1.98" stroke-opacity="0.95" stroke-linecap="round"/>
<path d="M406.5,224.5 C412.9,207.4 420.0,207.5 424.6,197.2 C440.5,192.5 448.6,196.1 464.8,189.3 C480.2,199.1 488.8,191.1 510.7,193.7" fill="none" stroke="#a9a672" stroke-width="1.75" stroke-opacity="0.95" stroke-linecap="round"/>
<path d="M405.5,225.5 C406.6,214.5 416.1,214.0 423.7,203.5 C444.2,204.3 458.9,203.2 473.9,198.1 C484.1,191.0 497.0,192.9 516.0,186.7" fill="none" stroke="#a9a672" stroke-width="2.02" stroke-opacity="0.95" stroke-linecap="round"/>
<path d="M392.2,207.9 C401.9,204.7 416.0,206.9 421.1,197.4 C444.1,195.5 448.5,196.1 473.0,195.0 C479.1,199.9 495.3,196.6 510.0,197.3" fill="none" stroke="#2f9f7c" stroke-width="2.12" stroke-opacity="0.95" stroke-linecap="round"/>
<path d="M422.9,215.5 C429.4,212.6 445.2,216.5 458.2,208.4 C475.3,207.8 479.9,200.3 491.1,207.6 C498.4,207.2 503.5,208.1 520.3,203.2" fill="none" stroke="#b3521f" stroke-width="2.08" stroke-opacity="0.95" stroke-linecap="round"/>
<path d="M415.4,232.9 C428.7,231.6 435.4,213.1 451.7,205.7 C464.3,200.7 479.4,210.0 492.4,209.1 C506.5,212.0 521.0,210.5 530.4,208.9" fill="none" stroke="#a9a672" stroke-width="1.94" stroke-opacity="0.95" stroke-linecap="round"/>
<path d="M431.4,226.6 C444.7,226.7 445.5,217.1 455.1,210.7 C468.6,217.8 481.6,209.5 496.9,212.3 C510.5,212.4 517.8,215.4 528.9,203.6" fill="none" stroke="#a9a672" stroke-width="1.84" stroke-opacity="0.95" stroke-linecap="round"/>
<path d="M418.1,212.2 C427.9,220.9 432.1,217.0 451.3,207.1 C461.4,207.1 471.5,199.3 480.7,206.3 C495.8,203.5 507.8,206.7 525.7,212.6" fill="none" stroke="#2f9f7c" stroke-width="2.12" stroke-opacity="0.95" stroke-linecap="round"/>
<path d="M409.1,222.3 C431.9,207.7 448.7,202.3 460.7,198.9 C476.1,207.3 478.4,210.6 487.2,217.9 C499.7,213.5 492.5,215.5 516.0,208.4" fill="none" stroke="#a9a672" stroke-width="1.58" stroke-opacity="0.95" stroke-linecap="round"/>
<path d="M421.3,211.6 C426.4,215.2 445.6,209.1 455.1,201.8 C466.4,212.1 481.2,215.3 494.2,212.5 C502.0,210.0 506.3,208.6 516.5,206.0" fill="none" stroke="#2f9f7c" stroke-width="1.87" stroke-opacity="0.95" stroke-linecap="round"/>
<path d="M421.9,214.4 C440.6,215.9 447.2,211.8 455.5,206.4 C468.3,211.2 485.3,199.0 495.9,208.1 C498.2,203.4 513.4,211.6 514.7,209.7" fill="none" stroke="#b3521f" stroke-width="1.99" stroke-opacity="0.95" stroke-linecap="round"/>
<path d="M413.0,217.2 C433.7,216.4 436.4,205.0 454.8,202.1 C467.8,206.9 474.3,215.4 481.2,218.3 C500.1,217.4 502.1,207.7 521.0,207.5" fill="none" stroke="#b3521f" stroke-width="1.42" stroke-opacity="0.95" stroke-linecap="round"/>
<path d="M430.2,205.5 C441.4,204.2 446.9,211.3 459.8,211.0 C469.9,212.5 481.2,215.7 491.9,218.9 C496.6,216.0 498.7,213.6 512.4,202.0" fill="none" stroke="#a9a672" stroke-width="1.73" stroke-opacity="0.95" stroke-linecap="round"/>
<path d="M418.2,206.2 C443.0,207.6 444.2,203.0 467.9,201.7 C471.7,206.1 483.0,208.2 491.9,214.4 C495.4,211.6 508.9,215.8 519.1,210.7" fill="none" stroke="#b3521f" stroke-width="2.23" stroke-opacity="0.95" stroke-linecap="round"/>
<path d="M426.3,213.7 C425.5,216.8 444.1,214.9 453.4,210.3 C468.3,208.0 476.2,207.0 490.3,206.7 C495.9,200.7 507.2,206.7 515.8,205.7" fill="none" stroke="#2f9f7c" stroke-width="2.03" stroke-opacity="0.95" stroke-linecap="round"/>
<path d="M430.8,225.1 C435.1,226.7 441.0,209.6 446.2,202.9 C462.4,202.4 480.5,211.0 488.8,211.1 C500.6,211.8 509.6,215.2 527.1,215.6" fill="none" stroke="#a9a672" stroke-width="2.17" stroke-opacity="0.95" stroke-linecap="round"/>
<path d="M424.5,216.8 C437.1,208.0 451.3,202.8 459.3,193.4 C471.9,198.5 479.2,205.1 488.1,211.9 C501.3,204.1 506.5,207.2 519.2,208.8" fill="none" stroke="#2f9f7c" stroke-width="1.77" stroke-opacity="0.95" stroke-linecap="round"/>
<path d="M421.7,210.1 C447.2,207.6 453.0,209.9 462.8,206.6 C465.6,217.7 468.5,216.5 475.7,214.0 C495.7,215.4 503.7,214.8 524.3,217.6" fill="none" stroke="#b3521f" stroke-width="1.62" stroke-opacity="0.95" stroke-linecap="round"/>
<path d="M411.0,224.3 C432.0,216.8 442.2,209.5 468.5,204.1 C475.3,204.8 477.7,213.0 488.6,207.7 C494.5,212.4 508.1,209.7 520.3,206.4" fill="none" stroke="#2f9f7c" stroke-width="1.78" stroke-opacity="0.95" stroke-linecap="round"/>
<path d="M439.4,210.8 C450.8,206.6 453.1,202.7 460.6,207.5 C465.9,210.0 477.6,216.2 494.0,215.2 C510.3,214.1 515.4,211.2 523.0,204.8" fill="none" stroke="#a9a672" stroke-width="2.23" stroke-opacity="0.95" stroke-linecap="round"/>
<path d="M413.1,220.2 C429.1,217.7 436.0,214.3 454.1,209.3 C470.1,218.2 478.8,215.5 491.1,226.4 C494.9,224.8 521.0,224.0 526.5,215.9" fill="none" stroke="#a9a672" stroke-width="2.14" stroke-opacity="0.95" stroke-linecap="round"/>
<path d="M422.0,212.8 C433.9,205.3 448.0,204.6 460.3,200.3 C467.9,208.7 481.9,207.3 493.6,216.3 C493.0,217.4 507.6,215.4 514.5,214.1" fill="none" stroke="#2f9f7c" stroke-width="1.52" stroke-opacity="0.95" stroke-linecap="round"/>
<path d="M425.4,209.7 C443.3,209.7 439.8,203.5 451.0,198.8 C470.0,198.7 472.6,208.7 485.2,212.2 C494.7,211.5 500.2,205.8 519.8,208.2" fill="none" stroke="#a9a672" stroke-width="1.85" stroke-opacity="0.95" stroke-linecap="round"/>
<path d="M417.6,217.8 C423.7,211.8 428.5,214.9 448.8,213.2 C460.7,215.7 471.1,220.6 488.4,219.7 C496.0,211.7 512.0,231.0 524.6,214.9" fill="none" stroke="#b3521f" stroke-width="2.12" stroke-opacity="0.95" stroke-linecap="round"/>
<path d="M433.9,213.6 C442.0,215.6 447.6,220.2 452.2,209.2 C460.6,209.8 472.8,212.9 475.4,215.2 C490.4,195.3 501.8,210.9 512.9,209.1" fill="none" stroke="#b3521f" stroke-width="1.62" stroke-opacity="0.95" stroke-linecap="round"/>
<path d="M411.5,212.2 C440.0,200.9 442.2,204.3 456.4,195.5 C467.8,208.0 479.3,210.9 497.5,212.0 C506.1,206.8 513.5,208.8 525.6,208.6" fill="none" stroke="#2f9f7c" stroke-width="2.15" stroke-opacity="0.95" stroke-linecap="round"/>
<path d="M429.0,201.5 C433.5,202.7 438.7,197.3 453.5,203.4 C465.3,209.7 481.2,202.1 491.7,214.6 C503.3,213.4 508.2,208.3 518.2,208.6" fill="none" stroke="#2f9f7c" stroke-width="2.16" stroke-opacity="0.95" stroke-linecap="round"/>
<path d="M433.1,204.1 C443.9,216.4 444.8,198.8 446.6,213.0 C459.1,211.7 479.8,213.3 487.2,215.6 C505.2,210.9 508.3,219.1 518.2,211.8" fill="none" stroke="#2f9f7c" stroke-width="1.74" stroke-opacity="0.95" stroke-linecap="round"/>
<path d="M422.1,209.9 C431.9,206.8 441.7,213.9 457.5,204.5 C462.9,201.5 480.9,209.8 487.0,207.7 C499.7,207.3 510.0,207.3 525.8,202.1" fill="none" stroke="#b3521f" stroke-width="2.20" stroke-opacity="0.95" stroke-linecap="round"/>
<path d="M431.2,218.4 C437.3,212.7 447.0,203.9 448.7,196.0 C460.0,191.0 476.1,205.2 484.8,215.5 C492.7,217.9 511.3,215.7 519.3,211.1" fill="none" stroke="#b3521f" stroke-width="1.99" stroke-opacity="0.95" stroke-linecap="round"/>
<path d="M421.2,211.3 C439.8,214.2 451.3,204.0 468.5,208.7 C476.9,210.9 476.0,211.6 488.0,218.5 C498.6,215.1 512.4,211.1 521.7,208.6" fill="none" stroke="#a9a672" stroke-width="1.54" stroke-opacity="0.95" stroke-linecap="round"/>
<path d="M426.2,216.2 C438.5,216.1 441.0,209.5 461.0,211.6 C472.8,213.2 475.0,209.6 487.7,205.9 C495.4,203.3 508.2,211.7 518.8,213.4" fill="none" stroke="#2f9f7c" stroke-width="1.97" stroke-opacity="0.95" stroke-linecap="round"/>
<path d="M386.9,226.1 C394.0,224.6 402.3,221.5 412.3,217.4 C421.1,220.8 423.6,227.0 430.3,225.1 C443.5,229.1 456.8,232.4 471.7,237.9" fill="none" stroke="#b3521f" stroke-width="2.13" stroke-opacity="0.95" stroke-linecap="round"/>
<path d="M378.0,228.9 C391.4,222.9 397.6,222.0 407.9,215.1 C413.4,221.9 428.2,223.0 434.3,226.3 C446.2,228.3 463.6,230.5 477.4,233.1" fill="none" stroke="#b3521f" stroke-width="1.56" stroke-opacity="0.95" stroke-linecap="round"/>
<path d="M392.2,225.8 C394.7,218.0 402.5,222.7 408.4,212.8 C416.2,217.6 419.5,224.2 428.3,227.9 C439.0,233.1 445.0,235.6 461.2,237.7" fill="none" stroke="#b3521f" stroke-width="1.50" stroke-opacity="0.95" stroke-linecap="round"/>
<path d="M385.6,229.4 C394.0,219.1 396.3,215.9 400.0,210.6 C411.8,213.0 423.8,220.1 438.8,224.8 C448.1,228.3 460.2,225.4 473.3,229.2" fill="none" stroke="#b3521f" stroke-width="2.20" stroke-opacity="0.95" stroke-linecap="round"/>
<path d="M381.7,228.3 C390.2,223.9 398.2,214.0 407.6,207.9 C419.1,212.5 430.0,217.8 438.1,223.7 C451.3,224.9 458.0,230.7 473.4,231.8" fill="none" stroke="#b3521f" stroke-width="1.80" stroke-opacity="0.95" stroke-linecap="round"/>
<path d="M386.0,225.1 C391.6,219.0 398.0,215.3 403.6,214.5 C413.8,217.4 426.3,220.0 436.7,224.7 C449.8,227.8 462.2,230.8 472.5,233.0" fill="none" stroke="#b3521f" stroke-width="1.65" stroke-opacity="0.95" stroke-linecap="round"/>
<path d="M384.8,223.6 C394.7,217.6 398.1,217.9 406.6,213.1 C421.7,214.6 428.1,218.7 440.8,224.6 C450.1,228.5 454.4,227.3 470.4,233.0" fill="none" stroke="#b3521f" stroke-width="1.98" stroke-opacity="0.95" stroke-linecap="round"/>
<path d="M381.8,224.6 C388.7,218.4 400.1,218.1 407.2,214.5 C418.9,214.2 431.0,217.0 438.6,219.4 C450.9,225.7 464.3,230.6 479.8,234.3" fill="none" stroke="#b3521f" stroke-width="1.67" stroke-opacity="0.95" stroke-linecap="round"/>
<path d="M378.2,226.0 C386.8,220.7 396.1,215.7 407.4,214.0 C420.1,219.2 432.0,222.3 446.5,224.0 C453.0,221.5 463.8,227.3 474.6,231.0" fill="none" stroke="#b3521f" stroke-width="2.21" stroke-opacity="0.95" stroke-linecap="round"/>
<path d="M385.1,221.8 C391.5,220.8 396.7,215.7 403.6,211.8 C413.9,211.6 425.6,220.8 435.2,220.0 C446.3,225.1 456.0,218.8 465.5,226.0" fill="none" stroke="#b3521f" stroke-width="1.86" stroke-opacity="0.95" stroke-linecap="round"/>
<path d="M386.7,222.2 C394.8,217.4 400.5,214.2 409.3,212.9 C421.6,218.3 428.5,218.6 439.0,224.9 C451.0,227.7 460.2,236.1 471.8,239.0" fill="none" stroke="#b3521f" stroke-width="1.82" stroke-opacity="0.95" stroke-linecap="round"/>
<path d="M386.1,223.8 C393.9,221.1 401.8,216.2 409.0,213.8 C420.9,219.0 424.8,216.9 440.6,222.0 C450.4,226.0 461.7,224.3 474.5,232.0" fill="none" stroke="#b3521f" stroke-width="1.70" stroke-opacity="0.95" stroke-linecap="round"/>
<path d="M386.0,226.3 C395.8,218.3 404.2,221.0 411.3,215.2 C418.7,221.0 429.1,224.0 439.0,228.7 C446.1,229.4 464.3,230.1 470.4,233.2" fill="none" stroke="#b3521f" stroke-width="1.42" stroke-opacity="0.95" stroke-linecap="round"/>
<path d="M388.6,226.7 C396.4,224.5 404.3,221.3 408.8,219.8 C415.7,221.3 423.7,224.8 436.9,225.3 C453.6,234.3 453.9,231.1 469.2,233.9" fill="none" stroke="#b3521f" stroke-width="2.25" stroke-opacity="0.95" stroke-linecap="round"/>
<path d="M386.1,225.2 C391.6,225.5 405.5,222.0 408.5,218.6 C419.9,224.7 437.3,226.7 441.3,227.4 C449.7,226.4 463.9,231.5 470.4,233.1" fill="none" stroke="#b3521f" stroke-width="1.80" stroke-opacity="0.95" stroke-linecap="round"/>
<path d="M384.9,228.0 C389.3,222.1 398.5,215.4 407.1,212.4 C420.0,214.6 425.3,218.4 437.3,223.7 C449.6,224.7 455.8,228.1 470.8,234.6" fill="none" stroke="#b3521f" stroke-width="1.72" stroke-opacity="0.95" stroke-linecap="round"/>
<path d="M381.3,227.4 C389.0,222.8 391.2,216.3 400.5,212.3 C416.9,214.1 427.0,219.8 436.0,221.1 C451.6,223.8 453.1,231.6 472.2,234.4" fill="none" stroke="#b3521f" stroke-width="1.82" stroke-opacity="0.95" stroke-linecap="round"/>
<path d="M384.7,227.6 C393.8,222.3 403.7,216.3 410.6,214.7 C421.4,219.2 425.6,220.6 438.5,221.8 C451.0,224.9 460.9,227.5 472.1,232.7" fill="none" stroke="#b3521f" stroke-width="1.76" stroke-opacity="0.95" stroke-linecap="round"/>
<path d="M376.6,228.0 C386.0,215.3 396.6,216.1 406.3,211.2 C417.4,215.2 420.1,220.2 431.1,226.8 C442.6,227.0 454.7,229.2 473.1,235.3" fill="none" stroke="#b3521f" stroke-width="1.83" stroke-opacity="0.95" stroke-linecap="round"/>
<path d="M375.8,227.0 C386.4,218.7 396.8,224.9 406.6,214.5 C419.4,215.6 425.2,217.4 437.2,223.7 C446.9,228.0 458.2,229.2 475.1,231.5" fill="none" stroke="#b3521f" stroke-width="1.53" stroke-opacity="0.95" stroke-linecap="round"/>
<path d="M437.4,229.0 C447.1,233.0 448.6,230.0 456.7,226.1 C466.8,231.4 473.5,227.3 487.5,229.6 C492.9,226.7 492.1,228.1 501.2,225.0" fill="none" stroke="#b3521f" stroke-width="1.69" stroke-opacity="0.95" stroke-linecap="round"/>
<path d="M430.2,237.1 C441.1,236.0 441.0,228.3 450.1,226.6 C460.4,229.1 469.5,223.9 486.2,234.0 C492.6,231.4 500.2,231.3 506.8,224.0" fill="none" stroke="#8a45a8" stroke-width="1.61" stroke-opacity="0.95" stroke-linecap="round"/>
<path d="M426.2,232.8 C431.7,227.1 440.9,229.9 453.8,229.8 C471.6,236.2 469.6,233.4 488.0,234.8 C496.1,227.5 503.2,230.2 511.5,224.1" fill="none" stroke="#b3521f" stroke-width="1.74" stroke-opacity="0.95" stroke-linecap="round"/>
<path d="M428.3,239.2 C433.9,229.4 443.3,228.5 458.9,220.4 C470.2,224.7 472.3,229.3 486.1,234.1 C504.1,231.8 507.2,222.0 515.3,220.7" fill="none" stroke="#8a45a8" stroke-width="1.62" stroke-opacity="0.95" stroke-linecap="round"/>
<path d="M439.0,233.2 C449.5,230.7 449.5,229.7 461.5,233.0 C470.8,237.2 477.1,236.7 487.9,235.0 C494.0,228.6 492.2,222.1 503.4,221.9" fill="none" stroke="#8a45a8" stroke-width="1.24" stroke-opacity="0.95" stroke-linecap="round"/>
<path d="M429.6,228.9 C435.4,229.2 450.8,220.9 454.6,217.5 C467.4,220.7 470.0,222.5 479.9,229.5 C490.7,229.0 491.1,225.0 504.0,221.8" fill="none" stroke="#8a45a8" stroke-width="1.57" stroke-opacity="0.95" stroke-linecap="round"/>
<path d="M427.7,229.0 C435.7,227.9 439.9,232.3 447.4,224.8 C464.5,226.7 470.3,230.3 481.4,231.8 C492.2,227.6 497.3,227.5 510.7,226.5" fill="none" stroke="#b3521f" stroke-width="1.08" stroke-opacity="0.95" stroke-linecap="round"/>
<path d="M438.0,231.7 C445.5,233.1 457.2,223.6 462.7,221.6 C477.4,222.2 471.4,231.4 478.7,230.4 C491.9,226.0 493.9,217.6 508.8,217.1" fill="none" stroke="#b3521f" stroke-width="1.66" stroke-opacity="0.95" stroke-linecap="round"/>
<path d="M439.1,233.2 C443.2,231.1 446.8,223.4 452.3,221.2 C462.4,228.0 464.9,229.4 475.6,229.9 C485.6,223.7 495.0,218.2 509.0,214.0" fill="none" stroke="#b3521f" stroke-width="1.37" stroke-opacity="0.95" stroke-linecap="round"/>
<path d="M433.9,236.0 C445.3,227.6 457.9,230.8 463.3,224.2 C461.7,223.5 470.2,224.6 483.1,226.0 C494.6,228.0 497.4,224.8 509.2,221.3" fill="none" stroke="#b3521f" stroke-width="1.53" stroke-opacity="0.95" stroke-linecap="round"/>
<path d="M430.5,239.3 C444.6,236.4 452.5,234.9 463.9,224.9 C470.3,226.2 478.6,231.5 475.8,232.3 C482.2,231.6 498.1,225.0 507.0,218.3" fill="none" stroke="#8a45a8" stroke-width="1.23" stroke-opacity="0.95" stroke-linecap="round"/>
<path d="M440.4,232.6 C435.7,231.5 451.6,239.5 451.0,231.6 C461.0,231.6 475.0,233.9 480.7,231.9 C491.8,221.7 498.0,226.5 509.5,222.5" fill="none" stroke="#8a45a8" stroke-width="1.66" stroke-opacity="0.95" stroke-linecap="round"/>
<path d="M438.4,231.9 C443.4,231.4 446.4,232.7 448.9,229.4 C468.7,233.8 477.9,230.6 488.9,234.1 C494.5,232.0 504.2,231.3 514.7,225.0" fill="none" stroke="#b3521f" stroke-width="1.43" stroke-opacity="0.95" stroke-linecap="round"/>
<path d="M428.2,232.2 C439.2,225.5 452.3,228.2 457.6,221.3 C462.7,225.7 471.0,223.6 481.5,230.0 C489.3,227.3 494.6,229.5 509.0,223.2" fill="none" stroke="#8a45a8" stroke-width="1.24" stroke-opacity="0.95" stroke-linecap="round"/>
<path d="M429.8,234.0 C444.2,227.7 458.4,226.0 467.1,219.8 C470.6,225.1 482.0,225.9 486.9,227.3 C493.8,220.5 502.1,232.4 507.6,223.9" fill="none" stroke="#8a45a8" stroke-width="1.11" stroke-opacity="0.95" stroke-linecap="round"/>
<path d="M435.3,241.5 C447.4,236.7 448.8,232.0 457.3,228.5 C463.7,225.6 472.9,231.8 479.0,227.0 C494.6,225.8 501.0,224.3 514.7,226.3" fill="none" stroke="#b3521f" stroke-width="1.50" stroke-opacity="0.95" stroke-linecap="round"/>
<path d="M436.1,234.4 C439.7,235.6 448.2,230.5 450.8,228.2 C462.0,236.7 463.6,236.1 479.9,236.4 C491.5,235.8 497.4,224.7 502.6,222.6" fill="none" stroke="#b3521f" stroke-width="1.62" stroke-opacity="0.95" stroke-linecap="round"/>
<path d="M430.2,236.6 C438.7,227.8 446.0,222.0 456.1,225.2 C467.4,226.0 473.6,229.8 480.3,238.8 C490.8,230.7 501.9,228.8 509.4,222.4" fill="none" stroke="#8a45a8" stroke-width="1.38" stroke-opacity="0.95" stroke-linecap="round"/>
<path d="M433.3,232.7 C438.9,235.4 446.3,227.3 458.7,233.3 C468.4,227.0 475.7,233.6 481.7,228.2 C486.4,227.9 499.1,224.6 501.1,225.1" fill="none" stroke="#b3521f" stroke-width="1.59" stroke-opacity="0.95" stroke-linecap="round"/>
<path d="M427.9,236.8 C441.3,233.0 444.0,233.8 458.4,231.0 C477.6,234.5 474.2,237.1 486.5,233.0 C488.3,229.2 503.2,225.3 510.1,224.8" fill="none" stroke="#8a45a8" stroke-width="1.46" stroke-opacity="0.95" stroke-linecap="round"/>
<path d="M429.1,239.2 C430.5,236.8 438.1,233.2 448.3,222.1 C461.6,225.6 475.2,226.6 485.4,232.9 C494.7,233.8 501.2,228.8 510.3,223.6" fill="none" stroke="#b3521f" stroke-width="1.29" stroke-opacity="0.95" stroke-linecap="round"/>
<path d="M432.0,234.5 C444.8,239.8 450.2,234.1 458.4,233.7 C464.5,230.5 472.5,228.7 481.0,227.0 C487.8,225.6 495.5,227.5 503.5,224.4" fill="none" stroke="#b3521f" stroke-width="1.48" stroke-opacity="0.95" stroke-linecap="round"/>
<path d="M431.7,236.2 C441.6,229.2 449.7,222.1 455.9,220.8 C466.7,218.9 474.8,233.5 481.7,233.1 C484.8,236.9 486.4,233.0 492.1,228.0" fill="none" stroke="#8a45a8" stroke-width="1.06" stroke-opacity="0.95" stroke-linecap="round"/>
<path d="M430.6,237.9 C445.4,240.8 446.1,226.7 463.3,227.0 C466.4,226.3 483.9,230.6 488.4,228.2 C499.5,222.6 510.6,222.5 510.0,219.3" fill="none" stroke="#8a45a8" stroke-width="1.52" stroke-opacity="0.95" stroke-linecap="round"/>
<path d="M427.8,235.9 C435.4,230.1 451.2,225.3 463.2,227.9 C471.7,232.7 473.7,235.2 483.2,238.6 C493.7,230.0 501.9,224.2 508.1,220.3" fill="none" stroke="#b3521f" stroke-width="1.00" stroke-opacity="0.95" stroke-linecap="round"/>
<path d="M432.5,236.0 C442.0,234.7 442.5,228.0 451.4,225.9 C456.9,227.5 461.6,223.8 479.7,233.4 C488.0,230.2 494.3,223.4 508.6,220.2" fill="none" stroke="#b3521f" stroke-width="1.30" stroke-opacity="0.95" stroke-linecap="round"/>
<path d="M429.0,235.4 C438.3,229.7 445.7,229.9 455.7,230.0 C465.0,231.7 469.1,230.6 479.9,225.3 C489.1,218.1 505.1,229.1 511.3,219.5" fill="none" stroke="#b3521f" stroke-width="1.64" stroke-opacity="0.95" stroke-linecap="round"/>
<path d="M435.0,232.4 C445.4,228.5 446.8,225.6 455.6,225.5 C465.9,228.7 472.9,229.8 481.7,235.3 C487.9,230.0 498.8,218.9 500.7,220.0" fill="none" stroke="#8a45a8" stroke-width="1.23" stroke-opacity="0.95" stroke-linecap="round"/>
<path d="M439.1,237.6 C450.7,243.4 449.2,227.0 453.7,226.3 C460.3,231.2 467.0,229.6 482.8,232.4 C492.6,230.2 497.0,233.4 506.9,224.2" fill="none" stroke="#8a45a8" stroke-width="1.28" stroke-opacity="0.95" stroke-linecap="round"/>
<path d="M436.4,235.7 C443.9,232.8 446.0,236.8 454.8,224.9 C469.2,218.2 480.9,223.3 488.0,229.3 C489.7,226.4 504.4,227.6 506.5,228.1" fill="none" stroke="#b3521f" stroke-width="1.61" stroke-opacity="0.95" stroke-linecap="round"/>
<path d="M437.9,235.4 C447.7,232.6 446.7,233.5 450.9,227.8 C466.7,228.1 479.3,230.8 484.5,231.8 C494.6,231.5 500.2,222.6 513.3,226.4" fill="none" stroke="#b3521f" stroke-width="1.44" stroke-opacity="0.95" stroke-linecap="round"/>
<path d="M434.4,239.6 C442.7,234.2 450.3,237.1 458.6,231.6 C468.9,240.2 477.7,232.6 485.5,237.5 C494.3,230.7 508.9,232.2 509.8,223.0" fill="none" stroke="#b3521f" stroke-width="1.49" stroke-opacity="0.95" stroke-linecap="round"/>
<path d="M433.1,231.5 C446.2,227.2 460.1,228.3 462.8,227.7 C467.6,230.4 471.6,227.6 477.9,228.3 C492.9,222.8 499.6,224.0 517.4,223.3" fill="none" stroke="#b3521f" stroke-width="1.69" stroke-opacity="0.95" stroke-linecap="round"/>
<path d="M433.4,232.1 C446.0,233.3 453.2,228.9 461.7,229.8 C468.5,233.3 477.9,230.4 481.8,232.0 C491.3,231.3 491.6,227.4 504.7,220.6" fill="none" stroke="#b3521f" stroke-width="1.68" stroke-opacity="0.95" stroke-linecap="round"/>
<path d="M432.0,238.9 C439.3,237.3 456.7,240.3 461.7,230.4 C472.7,236.5 477.0,235.9 482.4,233.3 C497.6,230.9 492.5,228.6 506.4,226.9" fill="none" stroke="#b3521f" stroke-width="1.24" stroke-opacity="0.95" stroke-linecap="round"/>
<path d="M426.6,234.5 C432.3,233.9 439.8,235.1 451.2,230.2 C467.4,230.5 478.5,233.0 490.5,234.2 C499.8,224.3 498.1,232.4 500.0,224.9" fill="none" stroke="#8a45a8" stroke-width="1.43" stroke-opacity="0.95" stroke-linecap="round"/>
<path d="M431.6,248.4 C427.7,255.5 443.5,254.2 444.7,263.0 C455.3,255.0 455.6,248.7 465.6,244.6 C477.3,241.9 483.4,243.5 495.6,239.0" fill="none" stroke="#2f9f7c" stroke-width="1.66" stroke-opacity="0.95" stroke-linecap="round"/>
<path d="M426.8,254.5 C431.9,258.6 445.3,260.8 446.7,263.0 C449.8,250.0 460.0,250.6 467.8,246.0 C472.4,242.2 481.4,239.1 478.5,231.1" fill="none" stroke="#2f9f7c" stroke-width="1.45" stroke-opacity="0.95" stroke-linecap="round"/>
<path d="M428.4,244.1 C436.6,254.8 440.6,254.2 449.7,258.7 C452.4,254.5 461.7,252.3 463.2,247.7 C480.0,239.7 476.4,240.8 494.0,234.8" fill="none" stroke="#b3521f" stroke-width="1.89" stroke-opacity="0.95" stroke-linecap="round"/>
<path d="M435.6,256.1 C434.7,253.3 442.4,254.8 441.0,257.5 C446.7,256.5 450.0,256.4 456.8,250.6 C469.9,245.0 474.8,238.6 493.3,233.5" fill="none" stroke="#b3521f" stroke-width="1.71" stroke-opacity="0.95" stroke-linecap="round"/>
<path d="M427.0,248.9 C437.9,251.2 444.6,254.9 458.0,254.2 C456.9,251.1 464.9,255.6 464.1,248.9 C469.1,247.2 477.9,245.3 485.8,237.8" fill="none" stroke="#b3521f" stroke-width="1.86" stroke-opacity="0.95" stroke-linecap="round"/>
<path d="M429.7,243.6 C437.1,248.7 443.3,254.0 446.1,255.8 C446.2,253.6 452.8,248.9 461.1,244.9 C476.2,250.3 488.5,242.4 489.2,239.0" fill="none" stroke="#b3521f" stroke-width="1.64" stroke-opacity="0.95" stroke-linecap="round"/>
<path d="M425.9,242.6 C437.4,249.0 440.9,251.6 447.7,261.0 C456.8,249.7 461.5,255.3 460.2,249.0 C472.8,248.6 479.5,251.3 486.2,243.0" fill="none" stroke="#b3521f" stroke-width="2.15" stroke-opacity="0.95" stroke-linecap="round"/>
<path d="M433.7,253.5 C439.1,253.6 446.5,260.9 447.5,265.6 C449.6,257.8 451.6,260.6 457.2,251.1 C478.3,248.4 479.1,241.8 494.9,237.4" fill="none" stroke="#2f9f7c" stroke-width="1.67" stroke-opacity="0.95" stroke-linecap="round"/>
<path d="M426.6,249.8 C428.5,248.0 436.2,258.8 440.7,249.5 C444.7,248.2 455.9,249.9 465.2,253.1 C477.1,244.9 481.4,242.7 498.3,237.1" fill="none" stroke="#b3521f" stroke-width="2.24" stroke-opacity="0.95" stroke-linecap="round"/>
<path d="M434.5,248.7 C447.4,252.3 447.5,250.3 454.0,260.8 C454.8,255.2 458.1,245.7 462.1,242.1 C477.5,246.4 477.9,240.1 492.1,238.5" fill="none" stroke="#b3521f" stroke-width="1.89" stroke-opacity="0.95" stroke-linecap="round"/>
<path d="M421.2,249.2 C431.2,255.8 429.4,256.8 443.2,257.8 C443.6,254.2 451.5,248.9 455.0,250.4 C463.5,236.8 469.8,236.1 481.5,231.9" fill="none" stroke="#2f9f7c" stroke-width="1.61" stroke-opacity="0.95" stroke-linecap="round"/>
<path d="M426.3,243.1 C429.8,252.7 440.2,255.4 442.7,257.8 C454.4,257.1 458.1,256.7 459.0,248.1 C468.6,247.3 478.3,242.0 483.1,234.7" fill="none" stroke="#b3521f" stroke-width="1.99" stroke-opacity="0.95" stroke-linecap="round"/>
<path d="M420.0,247.8 C422.3,253.4 443.2,260.4 447.2,262.5 C457.0,259.1 461.0,251.7 463.3,247.9 C469.8,247.5 483.6,237.3 492.6,235.3" fill="none" stroke="#b3521f" stroke-width="2.06" stroke-opacity="0.95" stroke-linecap="round"/>
<path d="M428.6,247.5 C433.1,249.3 445.9,256.4 448.7,263.4 C450.0,256.9 461.5,250.5 467.6,250.5 C472.0,241.4 478.8,243.2 487.1,238.2" fill="none" stroke="#b3521f" stroke-width="1.89" stroke-opacity="0.95" stroke-linecap="round"/>
<path d="M420.3,248.7 C429.5,248.8 429.3,249.7 440.9,257.6 C451.5,255.6 459.5,248.7 474.5,245.4 C468.7,239.0 471.5,239.8 473.5,232.3" fill="none" stroke="#b3521f" stroke-width="1.40" stroke-opacity="0.95" stroke-linecap="round"/>
<path d="M431.6,249.5 C435.7,258.3 449.6,253.4 450.1,259.0 C459.0,253.3 455.8,250.3 465.2,248.6 C478.1,246.4 484.8,242.8 493.0,236.2" fill="none" stroke="#2f9f7c" stroke-width="1.62" stroke-opacity="0.95" stroke-linecap="round"/>
<path d="M427.4,252.2 C425.0,254.3 434.8,248.9 441.6,256.5 C454.0,257.2 463.0,254.0 465.2,250.4 C468.4,251.0 482.1,242.5 487.0,240.5" fill="none" stroke="#b3521f" stroke-width="1.77" stroke-opacity="0.95" stroke-linecap="round"/>
<path d="M434.3,242.9 C438.9,251.4 441.6,256.4 448.5,264.5 C451.5,258.8 464.0,255.8 464.2,248.5 C470.4,245.3 477.8,235.9 490.4,232.6" fill="none" stroke="#b3521f" stroke-width="1.79" stroke-opacity="0.95" stroke-linecap="round"/>
<path d="M428.2,246.7 C429.0,254.4 439.1,253.1 444.5,262.6 C452.6,259.3 453.5,248.5 464.6,243.8 C477.4,242.6 480.7,244.4 489.1,240.4" fill="none" stroke="#b3521f" stroke-width="1.69" stroke-opacity="0.95" stroke-linecap="round"/>
<path d="M429.5,248.1 C431.4,260.2 431.7,245.6 445.0,255.1 C449.2,254.6 462.3,254.7 462.2,251.7 C472.5,249.4 479.7,234.7 488.6,236.0" fill="none" stroke="#b3521f" stroke-width="2.07" stroke-opacity="0.95" stroke-linecap="round"/>
<path d="M427.9,254.4 C433.6,258.6 444.1,258.7 453.0,264.7 C451.2,258.8 455.3,255.2 463.7,252.4 C478.6,245.4 479.8,237.0 490.9,233.3" fill="none" stroke="#2f9f7c" stroke-width="1.87" stroke-opacity="0.95" stroke-linecap="round"/>
<path d="M427.5,250.2 C432.6,250.9 444.8,257.9 449.7,264.6 C457.0,262.4 461.6,254.9 464.0,253.2 C477.7,246.7 479.8,234.7 491.3,236.0" fill="none" stroke="#b3521f" stroke-width="2.18" stroke-opacity="0.95" stroke-linecap="round"/>
<path d="M424.5,248.3 C428.8,255.0 437.6,257.8 441.9,258.7 C447.3,259.0 458.2,261.6 465.7,248.5 C467.7,245.9 476.2,238.8 489.6,241.3" fill="none" stroke="#b3521f" stroke-width="2.25" stroke-opacity="0.95" stroke-linecap="round"/>
<path d="M431.0,247.9 C439.5,249.1 436.0,259.4 444.7,262.1 C450.9,260.5 458.1,254.3 470.0,253.7 C477.6,251.1 473.3,239.4 482.1,235.7" fill="none" stroke="#b3521f" stroke-width="2.18" stroke-opacity="0.95" stroke-linecap="round"/>
<path d="M424.8,254.6 C434.4,254.4 429.9,254.1 444.8,258.4 C458.7,257.0 470.6,248.2 478.3,248.5 C485.4,239.8 487.1,247.3 496.6,243.7" fill="none" stroke="#b3521f" stroke-width="2.07" stroke-opacity="0.95" stroke-linecap="round"/>
<path d="M430.7,243.8 C432.9,245.0 437.9,249.0 447.2,256.5 C453.8,255.3 464.6,255.7 465.8,250.8 C483.5,251.4 485.6,243.7 503.8,238.3" fill="none" stroke="#b3521f" stroke-width="2.17" stroke-opacity="0.95" stroke-linecap="round"/>
<path d="M424.9,249.0 C432.4,242.4 439.9,254.7 447.9,259.7 C462.9,251.2 461.6,249.2 464.8,248.2 C471.5,248.9 480.5,246.7 488.9,240.5" fill="none" stroke="#b3521f" stroke-width="1.95" stroke-opacity="0.95" stroke-linecap="round"/>
<path d="M431.2,243.2 C435.2,251.1 428.9,259.0 438.2,264.5 C447.4,256.5 442.2,250.6 459.2,246.7 C471.5,242.3 476.6,228.1 484.7,231.7" fill="none" stroke="#b3521f" stroke-width="1.66" stroke-opacity="0.95" stroke-linecap="round"/>
<path d="M403.9,202.6 C408.1,209.8 406.6,213.0 411.3,217.5 C416.2,223.5 419.1,224.9 420.2,230.0 C428.0,233.6 432.1,234.9 439.8,237.1" fill="none" stroke="#b3521f" stroke-width="2.19" stroke-opacity="0.95" stroke-linecap="round"/>
<path d="M406.8,202.5 C406.9,207.2 407.2,209.8 408.4,217.1 C415.8,221.7 419.7,227.8 424.3,231.2 C430.6,233.8 433.1,237.9 440.1,237.8" fill="none" stroke="#b3521f" stroke-width="1.55" stroke-opacity="0.95" stroke-linecap="round"/>
<path d="M407.4,203.9 C411.8,207.3 412.7,214.1 411.9,219.5 C417.0,221.6 415.9,223.1 422.0,225.0 C426.1,228.3 432.3,235.1 437.2,237.4" fill="none" stroke="#b3521f" stroke-width="1.77" stroke-opacity="0.95" stroke-linecap="round"/>
<path d="M407.6,202.8 C409.8,210.8 412.0,215.3 410.3,221.1 C412.7,221.1 416.2,228.3 420.8,227.6 C428.1,231.0 432.7,234.9 437.8,236.0" fill="none" stroke="#b3521f" stroke-width="2.27" stroke-opacity="0.95" stroke-linecap="round"/>
<path d="M405.3,200.3 C408.5,206.6 410.0,213.0 413.6,219.7 C416.9,223.1 417.4,228.2 420.8,232.1 C427.2,233.2 429.1,231.7 438.9,234.0" fill="none" stroke="#b3521f" stroke-width="1.84" stroke-opacity="0.95" stroke-linecap="round"/>
<path d="M403.6,198.3 C406.0,206.2 407.4,211.1 411.9,219.0 C414.1,221.0 418.8,226.7 421.3,228.1 C423.7,227.0 428.0,233.0 431.1,235.6" fill="none" stroke="#b3521f" stroke-width="2.06" stroke-opacity="0.95" stroke-linecap="round"/>
<path d="M406.0,203.9 C406.9,208.3 409.5,214.4 409.7,219.4 C411.3,222.8 417.7,228.0 420.5,231.3 C425.3,235.0 434.5,235.4 438.2,238.7" fill="none" stroke="#b3521f" stroke-width="1.70" stroke-opacity="0.95" stroke-linecap="round"/>
<path d="M403.7,203.8 C405.9,208.4 410.3,211.4 413.3,217.7 C416.0,218.5 417.8,226.2 421.3,227.6 C425.2,231.4 430.5,233.8 434.6,234.1" fill="none" stroke="#b3521f" stroke-width="1.46" stroke-opacity="0.95" stroke-linecap="round"/>
<path d="M407.5,204.2 C409.9,211.5 407.7,217.3 409.2,220.4 C413.2,222.3 419.6,227.3 421.5,228.8 C424.9,233.2 430.7,235.0 436.5,235.8" fill="none" stroke="#b3521f" stroke-width="1.50" stroke-opacity="0.95" stroke-linecap="round"/>
<path d="M406.0,199.1 C410.2,204.7 407.6,211.2 412.1,218.2 C418.3,224.3 421.8,222.5 424.9,229.3 C428.5,231.1 432.0,232.4 436.2,236.5" fill="none" stroke="#b3521f" stroke-width="1.40" stroke-opacity="0.95" stroke-linecap="round"/>
<path d="M384.5,226.0 C388.2,225.2 391.6,224.0 397.2,218.7 C403.7,219.7 409.9,220.2 417.1,219.2 C422.6,222.8 429.1,226.3 434.6,228.7" fill="none" stroke="#b3521f" stroke-width="2.26" stroke-opacity="0.95" stroke-linecap="round"/>
<path d="M380.9,226.8 C386.6,225.0 391.7,220.4 395.4,218.6 C403.3,220.2 409.9,221.1 417.1,222.9 C424.1,224.7 429.2,227.0 438.4,227.1" fill="none" stroke="#b3521f" stroke-width="1.95" stroke-opacity="0.95" stroke-linecap="round"/>
<path d="M380.4,229.7 C388.0,227.1 392.7,220.6 397.2,216.8 C400.5,217.9 406.7,216.2 412.5,218.2 C421.4,222.4 430.0,222.6 437.6,227.2" fill="none" stroke="#b3521f" stroke-width="1.75" stroke-opacity="0.95" stroke-linecap="round"/>
<path d="M380.8,224.8 C386.3,221.9 392.8,217.2 398.8,215.9 C405.7,217.5 411.8,215.8 417.2,219.2 C422.8,224.5 429.7,224.1 435.7,229.2" fill="none" stroke="#b3521f" stroke-width="1.93" stroke-opacity="0.95" stroke-linecap="round"/>
<path d="M381.9,228.2 C389.7,225.3 391.9,225.1 399.1,220.6 C407.0,222.1 411.8,217.7 418.9,219.5 C425.5,221.7 429.5,224.0 436.8,227.4" fill="none" stroke="#b3521f" stroke-width="2.14" stroke-opacity="0.95" stroke-linecap="round"/>
<path d="M384.0,230.6 C388.8,226.2 394.7,220.7 398.7,219.4 C407.4,217.3 412.7,217.6 419.0,216.6 C425.9,222.8 428.5,226.7 435.8,230.3" fill="none" stroke="#b3521f" stroke-width="1.59" stroke-opacity="0.95" stroke-linecap="round"/>
<path d="M383.0,226.1 C390.3,222.7 391.9,219.0 398.7,216.8 C408.3,214.8 416.4,218.3 421.7,217.3 C427.0,220.2 427.8,221.3 436.6,225.6" fill="none" stroke="#b3521f" stroke-width="2.18" stroke-opacity="0.95" stroke-linecap="round"/>
<path d="M382.7,226.2 C387.0,221.8 392.7,221.9 397.3,217.6 C406.5,217.4 412.7,223.5 416.9,220.5 C423.1,223.3 429.3,227.0 435.7,230.4" fill="none" stroke="#b3521f" stroke-width="1.99" stroke-opacity="0.95" stroke-linecap="round"/>
<path d="M382.8,226.9 C387.8,223.9 391.8,224.4 400.2,221.3 C406.5,220.3 413.2,218.3 420.4,216.5 C423.6,219.7 430.2,221.3 436.0,225.6" fill="none" stroke="#b3521f" stroke-width="1.43" stroke-opacity="0.95" stroke-linecap="round"/>
<path d="M384.0,227.5 C389.7,223.3 391.5,224.7 396.1,220.6 C402.0,219.8 410.7,221.5 418.5,219.0 C424.0,220.0 429.9,222.7 437.2,227.1" fill="none" stroke="#b3521f" stroke-width="1.95" stroke-opacity="0.95" stroke-linecap="round"/>
<path d="M383.8,225.9 C390.6,223.4 395.4,223.4 400.0,219.2 C406.0,218.1 413.1,217.3 419.8,218.0 C424.4,221.0 428.9,225.1 436.6,230.3" fill="none" stroke="#b3521f" stroke-width="2.13" stroke-opacity="0.95" stroke-linecap="round"/>
<path d="M380.6,226.1 C387.5,223.8 393.8,222.7 399.9,220.0 C405.8,218.9 409.7,219.6 418.6,218.1 C425.5,224.4 429.1,226.0 438.6,230.0" fill="none" stroke="#b3521f" stroke-width="1.71" stroke-opacity="0.95" stroke-linecap="round"/>
<path d="M434.7,294.4 C437.6,300.6 449.0,307.8 454.7,307.5 C453.4,308.1 456.9,300.2 458.0,298.7 C468.2,293.5 472.3,288.8 482.5,276.0" fill="none" stroke="#2f9f7c" stroke-width="1.61" stroke-opacity="0.95" stroke-linecap="round"/>
<path d="M430.7,290.2 C436.6,301.6 445.9,304.4 451.9,312.7 C455.0,307.5 465.3,300.6 468.8,299.6 C472.5,289.0 477.6,289.3 483.4,275.2" fill="none" stroke="#b3521f" stroke-width="1.99" stroke-opacity="0.95" stroke-linecap="round"/>
<path d="M426.6,297.3 C437.3,302.7 440.6,295.5 452.3,302.5 C459.8,300.7 466.3,301.1 469.7,297.2 C473.3,294.8 475.7,288.7 478.5,283.2" fill="none" stroke="#2f9f7c" stroke-width="1.45" stroke-opacity="0.95" stroke-linecap="round"/>
<path d="M424.7,289.2 C431.1,301.3 440.1,300.2 453.6,313.0 C463.6,311.5 472.0,309.9 480.3,304.6 C482.1,295.3 475.1,292.3 487.3,281.1" fill="none" stroke="#b3521f" stroke-width="2.02" stroke-opacity="0.95" stroke-linecap="round"/>
<path d="M428.8,288.1 C436.6,303.1 444.4,306.3 452.0,314.5 C461.0,309.0 461.4,307.7 471.9,299.7 C474.5,297.4 467.3,292.7 470.8,286.2" fill="none" stroke="#2f9f7c" stroke-width="2.22" stroke-opacity="0.95" stroke-linecap="round"/>
<path d="M432.1,291.8 C436.4,292.7 447.4,301.8 457.6,310.4 C460.6,301.1 463.7,303.4 472.2,302.3 C479.7,292.2 474.4,288.4 484.1,277.3" fill="none" stroke="#2f9f7c" stroke-width="1.89" stroke-opacity="0.95" stroke-linecap="round"/>
<path d="M443.6,293.6 C443.8,300.0 452.0,300.4 454.5,304.6 C449.6,299.5 462.8,300.0 462.7,295.0 C468.4,286.2 472.9,287.8 477.8,282.8" fill="none" stroke="#b3521f" stroke-width="1.99" stroke-opacity="0.95" stroke-linecap="round"/>
<path d="M431.2,296.8 C441.2,302.2 450.7,306.4 457.7,311.7 C455.3,310.8 458.8,300.6 462.9,299.0 C474.3,290.9 474.2,286.2 479.4,279.5" fill="none" stroke="#b3521f" stroke-width="1.45" stroke-opacity="0.95" stroke-linecap="round"/>
<path d="M432.9,292.4 C444.2,302.8 450.2,305.2 458.3,312.7 C465.2,310.0 458.9,302.4 469.7,295.0 C477.3,288.3 476.5,281.5 478.1,272.0" fill="none" stroke="#2f9f7c" stroke-width="2.21" stroke-opacity="0.95" stroke-linecap="round"/>
<path d="M433.4,292.0 C436.9,295.4 442.3,302.5 445.9,303.9 C460.4,298.5 466.6,302.9 479.8,301.0 C480.6,290.6 480.7,295.7 486.6,281.7" fill="none" stroke="#2f9f7c" stroke-width="2.09" stroke-opacity="0.95" stroke-linecap="round"/>
<path d="M429.2,291.7 C438.7,297.6 450.3,306.9 454.2,309.7 C454.3,303.2 465.6,304.5 466.3,301.2 C472.2,292.9 477.5,288.1 477.6,277.3" fill="none" stroke="#b3521f" stroke-width="1.77" stroke-opacity="0.95" stroke-linecap="round"/>
<path d="M435.3,287.7 C440.2,293.6 447.2,302.9 451.3,306.0 C461.6,300.8 463.2,296.1 468.7,295.1 C472.6,290.9 474.4,289.8 473.1,283.0" fill="none" stroke="#2f9f7c" stroke-width="1.96" stroke-opacity="0.95" stroke-linecap="round"/>
<path d="M441.1,285.5 C446.8,298.2 448.3,298.3 447.4,308.1 C459.1,310.1 464.9,301.7 470.1,296.7 C475.6,292.8 474.4,280.9 484.2,279.1" fill="none" stroke="#b3521f" stroke-width="1.44" stroke-opacity="0.95" stroke-linecap="round"/>
<path d="M431.9,285.3 C438.0,293.8 449.0,308.4 455.9,313.9 C458.3,313.4 464.4,305.2 470.0,298.6 C475.7,284.1 480.0,284.9 487.7,275.1" fill="none" stroke="#b3521f" stroke-width="1.93" stroke-opacity="0.95" stroke-linecap="round"/>
<path d="M437.0,294.7 C441.3,303.1 447.4,307.3 453.7,313.1 C458.5,308.0 469.6,307.8 474.1,301.5 C471.3,296.3 477.9,289.6 479.3,279.2" fill="none" stroke="#2f9f7c" stroke-width="2.11" stroke-opacity="0.95" stroke-linecap="round"/>
<path d="M428.6,289.7 C443.1,299.0 449.1,305.0 458.1,316.6 C462.8,304.7 468.1,306.8 473.4,297.2 C471.8,286.4 479.6,282.0 485.3,275.3" fill="none" stroke="#2f9f7c" stroke-width="2.21" stroke-opacity="0.95" stroke-linecap="round"/>
<path d="M431.4,294.0 C440.8,297.5 448.4,303.1 459.6,308.0 C462.5,299.8 462.9,302.9 467.5,298.3 C468.9,294.6 473.4,288.1 475.7,282.6" fill="none" stroke="#2f9f7c" stroke-width="1.67" stroke-opacity="0.95" stroke-linecap="round"/>
<path d="M430.0,286.7 C438.6,291.1 440.2,301.2 452.4,307.5 C457.5,304.0 462.7,301.0 464.8,300.1 C475.2,292.3 477.2,291.9 485.3,276.0" fill="none" stroke="#2f9f7c" stroke-width="1.92" stroke-opacity="0.95" stroke-linecap="round"/>
<path d="M434.3,298.7 C442.5,302.2 443.3,303.7 449.4,306.1 C456.1,306.1 466.3,296.1 477.1,296.6 C480.3,288.0 480.7,287.1 485.7,276.8" fill="none" stroke="#2f9f7c" stroke-width="1.83" stroke-opacity="0.95" stroke-linecap="round"/>
<path d="M438.0,291.7 C443.0,295.0 451.9,303.2 455.3,307.7 C457.4,303.9 469.7,303.4 472.1,295.8 C473.2,287.1 476.1,290.3 480.0,280.8" fill="none" stroke="#2f9f7c" stroke-width="2.25" stroke-opacity="0.95" stroke-linecap="round"/>
<path d="M415.7,237.7 C410.3,234.3 403.0,235.7 397.1,228.9 C387.6,239.6 385.3,248.0 384.1,259.0 C392.3,271.6 401.3,270.5 412.5,277.2" fill="none" stroke="#a9a672" stroke-width="1.78" stroke-opacity="0.95" stroke-linecap="round"/>
<path d="M412.7,243.3 C401.9,235.9 399.0,230.0 390.7,227.1 C388.1,233.8 386.1,243.6 387.6,253.8 C389.7,260.2 398.8,273.7 407.1,278.3" fill="none" stroke="#a9a672" stroke-width="1.84" stroke-opacity="0.95" stroke-linecap="round"/>
<path d="M418.6,243.0 C408.4,243.9 404.3,229.6 393.5,227.3 C389.3,237.3 387.0,248.7 383.5,259.2 C394.0,266.4 403.9,272.0 415.1,276.6" fill="none" stroke="#a9a672" stroke-width="2.00" stroke-opacity="0.95" stroke-linecap="round"/>
<path d="M414.7,243.7 C403.7,232.7 394.4,233.5 381.5,228.9 C385.3,238.7 379.4,248.0 383.7,258.5 C394.3,270.8 410.1,271.4 418.2,279.6" fill="none" stroke="#a9a672" stroke-width="2.12" stroke-opacity="0.95" stroke-linecap="round"/>
<path d="M411.7,237.7 C407.2,234.7 397.7,233.4 389.5,227.7 C386.2,241.5 387.3,250.7 384.5,258.9 C394.0,261.3 401.1,271.8 409.5,277.3" fill="none" stroke="#a9a672" stroke-width="2.01" stroke-opacity="0.95" stroke-linecap="round"/>
<path d="M421.9,241.9 C406.7,239.5 397.2,234.3 387.3,228.5 C387.7,238.6 383.0,249.3 382.2,256.7 C392.1,264.2 406.6,269.3 415.1,280.0" fill="none" stroke="#a9a672" stroke-width="2.12" stroke-opacity="0.95" stroke-linecap="round"/>
<path d="M411.2,248.8 C405.9,243.5 404.8,228.7 394.0,226.0 C397.2,239.6 389.5,245.6 387.0,257.8 C390.2,267.8 398.6,272.5 409.0,278.0" fill="none" stroke="#a9a672" stroke-width="1.58" stroke-opacity="0.95" stroke-linecap="round"/>
<path d="M414.1,241.9 C404.3,240.9 395.7,233.8 384.0,226.8 C381.8,236.6 386.5,252.4 384.0,262.2 C390.8,269.5 400.3,271.0 404.6,278.7" fill="none" stroke="#a9a672" stroke-width="1.51" stroke-opacity="0.95" stroke-linecap="round"/>
<path d="M410.8,252.7 C401.8,244.7 403.1,238.9 395.7,228.4 C386.6,236.3 386.9,247.7 381.6,257.0 C390.6,268.1 403.3,270.2 413.5,275.7" fill="none" stroke="#a9a672" stroke-width="1.73" stroke-opacity="0.95" stroke-linecap="round"/>
<path d="M407.1,238.7 C402.5,231.4 399.1,233.1 393.2,227.2 C388.3,242.3 388.2,245.3 384.6,257.9 C393.4,264.2 400.2,273.2 411.9,282.2" fill="none" stroke="#a9a672" stroke-width="1.41" stroke-opacity="0.95" stroke-linecap="round"/>
<path d="M412.3,278.3 C408.0,275.6 398.2,263.2 395.2,259.0 C397.5,250.5 400.8,242.8 408.9,235.9 C417.6,233.7 425.2,230.9 428.8,225.5" fill="none" stroke="#a9a672" stroke-width="1.83" stroke-opacity="0.95" stroke-linecap="round"/>
<path d="M414.1,280.7 C413.1,272.1 405.9,267.5 400.4,254.2 C402.5,248.3 403.3,241.9 403.6,234.1 C413.9,233.2 417.7,228.8 425.0,227.2" fill="none" stroke="#a9a672" stroke-width="2.08" stroke-opacity="0.95" stroke-linecap="round"/>
<path d="M416.6,278.9 C408.6,267.8 406.0,259.4 398.8,256.0 C403.7,253.6 406.3,245.4 409.2,236.9 C419.0,234.9 425.9,227.3 427.6,224.9" fill="none" stroke="#a9a672" stroke-width="1.72" stroke-opacity="0.95" stroke-linecap="round"/>
<path d="M418.4,275.3 C409.1,263.6 404.9,266.4 395.2,256.9 C404.7,250.5 410.8,242.7 412.8,238.3 C419.5,230.4 422.2,225.9 427.9,221.2" fill="none" stroke="#a9a672" stroke-width="1.56" stroke-opacity="0.95" stroke-linecap="round"/>
<path d="M413.4,280.4 C410.5,276.1 402.9,264.9 398.3,260.4 C405.7,254.1 410.0,248.9 414.3,240.9 C417.9,234.2 425.8,230.2 428.6,224.9" fill="none" stroke="#a9a672" stroke-width="1.66" stroke-opacity="0.95" stroke-linecap="round"/>
<path d="M416.4,277.4 C410.7,271.6 404.9,267.7 403.0,260.7 C404.1,253.0 401.0,246.9 403.3,237.0 C417.3,238.0 422.9,233.6 432.3,231.9" fill="none" stroke="#a9a672" stroke-width="1.70" stroke-opacity="0.95" stroke-linecap="round"/>
<path d="M407.7,274.5 C405.1,273.7 402.6,264.7 401.9,261.9 C401.0,252.8 403.5,245.5 407.4,234.6 C413.5,233.3 421.2,226.7 426.7,221.0" fill="none" stroke="#a9a672" stroke-width="1.61" stroke-opacity="0.95" stroke-linecap="round"/>
<path d="M415.9,278.4 C408.6,271.5 401.4,260.3 397.4,254.3 C399.5,245.9 401.4,242.8 407.1,236.5 C414.2,235.5 418.9,230.2 429.3,227.0" fill="none" stroke="#a9a672" stroke-width="2.26" stroke-opacity="0.95" stroke-linecap="round"/>
<path d="M442.7,279.4 C442.8,280.4 453.1,290.8 461.5,289.0 C464.5,284.9 469.6,277.4 475.2,277.2 C485.6,272.4 484.1,257.7 493.2,254.1" fill="none" stroke="#b3521f" stroke-width="1.83" stroke-opacity="0.95" stroke-linecap="round"/>
<path d="M441.1,274.8 C444.8,282.3 455.1,289.1 452.8,293.9 C460.4,291.1 480.2,281.3 483.9,272.6 C483.9,270.4 483.6,268.8 486.3,262.5" fill="none" stroke="#a9a672" stroke-width="1.45" stroke-opacity="0.95" stroke-linecap="round"/>
<path d="M437.6,281.5 C443.3,285.1 447.9,285.6 456.5,292.5 C458.8,283.0 471.3,275.9 473.4,266.2 C484.5,262.9 485.8,257.9 496.8,255.4" fill="none" stroke="#2f9f7c" stroke-width="2.13" stroke-opacity="0.95" stroke-linecap="round"/>
<path d="M443.5,282.1 C443.6,288.2 454.0,285.5 454.3,295.0 C464.8,282.6 469.2,279.8 477.6,270.0 C485.8,263.4 487.1,263.5 491.0,251.3" fill="none" stroke="#2f9f7c" stroke-width="2.05" stroke-opacity="0.95" stroke-linecap="round"/>
<path d="M431.7,276.1 C442.1,279.4 446.2,293.9 456.4,296.0 C460.5,291.2 466.5,285.1 472.0,272.8 C477.4,262.8 489.5,258.0 493.4,255.1" fill="none" stroke="#2f9f7c" stroke-width="1.92" stroke-opacity="0.95" stroke-linecap="round"/>
<path d="M440.4,288.4 C442.1,289.6 448.3,284.2 457.1,286.5 C464.8,282.8 476.9,281.2 482.8,271.7 C483.5,267.4 483.5,263.1 488.1,249.3" fill="none" stroke="#2f9f7c" stroke-width="1.97" stroke-opacity="0.95" stroke-linecap="round"/>
<path d="M439.7,276.0 C451.7,283.1 449.2,290.9 456.6,293.2 C467.0,285.2 471.0,277.4 475.7,270.9 C482.3,266.6 488.8,258.5 494.7,256.0" fill="none" stroke="#2f9f7c" stroke-width="1.98" stroke-opacity="0.95" stroke-linecap="round"/>
<path d="M445.2,280.2 C456.6,281.5 449.9,280.0 457.7,289.7 C460.4,287.3 474.0,275.7 480.6,271.5 C481.6,264.0 493.0,264.4 494.0,255.2" fill="none" stroke="#a9a672" stroke-width="1.85" stroke-opacity="0.95" stroke-linecap="round"/>
<path d="M443.2,281.5 C450.6,282.6 454.7,286.9 457.9,287.6 C465.5,284.2 473.8,273.9 481.2,268.0 C481.5,259.7 495.0,257.6 497.3,247.7" fill="none" stroke="#b3521f" stroke-width="2.01" stroke-opacity="0.95" stroke-linecap="round"/>
<path d="M447.4,276.7 C447.2,277.1 452.4,278.0 461.7,289.5 C464.2,275.7 470.7,278.9 475.2,266.4 C483.2,270.6 491.9,263.9 507.3,255.2" fill="none" stroke="#2f9f7c" stroke-width="1.88" stroke-opacity="0.95" stroke-linecap="round"/>
<path d="M438.0,282.8 C449.3,282.9 460.0,286.9 469.9,291.5 C473.1,285.0 483.0,272.7 487.1,269.7 C489.1,264.5 494.8,268.0 490.8,262.6" fill="none" stroke="#b3521f" stroke-width="1.82" stroke-opacity="0.95" stroke-linecap="round"/>
<path d="M429.4,282.5 C435.6,286.5 448.4,277.6 455.3,283.0 C463.5,277.6 476.8,274.2 481.1,266.9 C480.9,256.3 490.9,258.1 492.6,249.3" fill="none" stroke="#a9a672" stroke-width="1.68" stroke-opacity="0.95" stroke-linecap="round"/>
<path d="M440.0,279.7 C442.3,280.3 437.2,287.1 444.3,289.9 C456.9,287.4 471.2,270.0 481.2,267.7 C488.5,264.5 495.6,261.9 498.8,248.8" fill="none" stroke="#2f9f7c" stroke-width="1.42" stroke-opacity="0.95" stroke-linecap="round"/>
<path d="M443.8,279.3 C452.1,284.2 449.2,284.5 454.6,289.1 C466.2,284.0 471.8,280.3 481.8,276.0 C480.1,269.9 495.4,263.7 493.8,261.5" fill="none" stroke="#b3521f" stroke-width="1.51" stroke-opacity="0.95" stroke-linecap="round"/>
<path d="M436.8,276.1 C436.8,272.8 452.7,287.4 462.9,285.7 C464.3,284.8 473.0,283.0 475.8,278.1 C484.3,276.4 495.1,264.2 501.2,259.5" fill="none" stroke="#b3521f" stroke-width="1.48" stroke-opacity="0.95" stroke-linecap="round"/>
<path d="M427.7,280.1 C443.7,285.7 457.7,289.3 462.2,290.3 C464.7,286.4 468.6,278.7 478.3,277.4 C483.6,264.8 485.1,263.3 488.6,256.3" fill="none" stroke="#b3521f" stroke-width="1.67" stroke-opacity="0.95" stroke-linecap="round"/>
<path d="M433.7,280.9 C445.5,282.8 451.4,290.7 463.5,289.9 C468.2,285.1 471.9,278.9 473.8,272.1 C481.6,260.9 479.7,252.2 483.1,253.6" fill="none" stroke="#a9a672" stroke-width="2.21" stroke-opacity="0.95" stroke-linecap="round"/>
<path d="M436.7,286.0 C450.0,285.6 458.0,285.5 462.7,288.8 C464.7,284.7 472.4,280.3 474.4,274.6 C479.2,266.1 485.5,258.4 494.0,249.2" fill="none" stroke="#b3521f" stroke-width="1.44" stroke-opacity="0.95" stroke-linecap="round"/>
<path d="M432.7,283.5 C440.8,284.6 447.0,292.2 451.6,291.4 C461.5,290.1 467.9,273.2 482.8,267.1 C491.6,262.1 488.2,257.7 496.1,255.0" fill="none" stroke="#2f9f7c" stroke-width="1.62" stroke-opacity="0.95" stroke-linecap="round"/>
<path d="M435.3,278.6 C444.7,285.8 452.2,289.2 455.4,293.8 C462.8,282.8 469.3,278.5 479.7,273.4 C480.4,266.2 488.8,266.2 486.5,260.3" fill="none" stroke="#b3521f" stroke-width="1.69" stroke-opacity="0.95" stroke-linecap="round"/>
<path d="M436.6,272.2 C447.3,278.7 457.3,282.5 463.5,289.6 C466.7,285.7 479.4,278.5 477.5,274.8 C488.3,270.1 489.9,264.5 491.8,251.0" fill="none" stroke="#a9a672" stroke-width="1.98" stroke-opacity="0.95" stroke-linecap="round"/>
<path d="M440.3,277.9 C444.3,286.1 448.1,292.5 454.6,297.8 C458.9,287.3 468.1,280.9 476.2,264.7 C487.6,261.8 490.2,257.3 500.0,250.7" fill="none" stroke="#b3521f" stroke-width="1.48" stroke-opacity="0.95" stroke-linecap="round"/>
<path d="M424.2,277.7 C438.1,282.5 449.1,286.0 454.1,285.8 C458.2,287.9 466.2,269.4 474.6,264.7 C479.1,264.2 478.9,255.1 487.4,252.8" fill="none" stroke="#2f9f7c" stroke-width="1.86" stroke-opacity="0.95" stroke-linecap="round"/>
<path d="M432.4,278.3 C444.1,283.8 437.7,288.8 449.6,292.4 C460.5,283.7 464.0,280.7 478.9,270.2 C479.7,268.4 484.5,253.5 487.2,250.3" fill="none" stroke="#a9a672" stroke-width="1.71" stroke-opacity="0.95" stroke-linecap="round"/>
<path d="M445.4,275.0 C453.2,281.5 458.5,286.8 457.8,292.5 C462.5,286.7 469.7,275.2 481.0,273.3 C484.4,262.2 490.0,253.7 492.0,250.0" fill="none" stroke="#b3521f" stroke-width="2.12" stroke-opacity="0.95" stroke-linecap="round"/>
<path d="M439.8,279.7 C448.7,288.1 457.1,285.7 460.6,297.8 C464.6,288.1 470.9,278.5 476.1,271.2 C483.0,266.2 496.3,257.1 500.1,254.6" fill="none" stroke="#b3521f" stroke-width="2.27" stroke-opacity="0.95" stroke-linecap="round"/>
<path d="M427.8,280.0 C433.4,279.3 451.8,285.4 454.5,289.6 C459.0,278.2 461.0,276.2 468.6,270.4 C473.9,265.0 481.8,257.1 495.1,254.0" fill="none" stroke="#b3521f" stroke-width="1.61" stroke-opacity="0.95" stroke-linecap="round"/>
<path d="M438.4,278.9 C439.5,278.8 443.6,286.4 451.7,288.6 C463.3,290.1 464.1,283.3 476.3,279.3 C478.7,269.7 486.3,254.7 496.4,252.5" fill="none" stroke="#b3521f" stroke-width="1.52" stroke-opacity="0.95" stroke-linecap="round"/>
<path d="M488.1,240.7 C500.5,240.3 506.8,249.1 518.2,247.5 C510.9,250.7 506.9,258.6 499.3,259.7 C495.9,262.7 491.3,262.3 483.9,263.9" fill="none" stroke="#b3521f" stroke-width="1.90" stroke-opacity="0.95" stroke-linecap="round"/>
<path d="M492.8,236.4 C498.7,243.3 505.4,250.3 511.5,253.0 C501.5,259.1 508.2,259.1 505.1,268.6 C495.2,265.5 489.8,265.7 475.8,268.6" fill="none" stroke="#2f9f7c" stroke-width="1.94" stroke-opacity="0.95" stroke-linecap="round"/>
<path d="M490.4,237.0 C496.3,237.5 510.7,245.5 517.7,247.2 C512.7,252.5 512.3,258.3 507.6,262.6 C498.2,267.5 493.8,262.1 488.1,267.9" fill="none" stroke="#a9a672" stroke-width="2.06" stroke-opacity="0.95" stroke-linecap="round"/>
<path d="M493.6,238.8 C499.8,247.2 503.3,248.6 510.9,250.1 C510.5,255.2 506.5,255.1 504.1,261.3 C493.9,263.5 486.5,265.1 477.0,271.1" fill="none" stroke="#b3521f" stroke-width="1.52" stroke-opacity="0.95" stroke-linecap="round"/>
<path d="M482.5,239.1 C495.7,237.3 505.1,242.7 518.7,244.8 C509.7,253.3 504.8,254.2 496.7,263.3 C492.3,265.2 490.7,265.5 485.6,267.6" fill="none" stroke="#2f9f7c" stroke-width="1.45" stroke-opacity="0.95" stroke-linecap="round"/>
<path d="M485.8,233.2 C492.8,241.5 501.5,241.4 509.6,246.0 C506.0,256.1 507.3,257.5 500.9,266.4 C492.1,266.6 483.4,264.6 480.2,265.5" fill="none" stroke="#2f9f7c" stroke-width="1.80" stroke-opacity="0.95" stroke-linecap="round"/>
<path d="M486.0,240.6 C492.8,237.3 497.5,243.1 508.3,245.0 C507.1,254.1 504.0,258.7 503.0,262.9 C494.2,264.3 489.6,264.3 478.7,268.0" fill="none" stroke="#a9a672" stroke-width="1.62" stroke-opacity="0.95" stroke-linecap="round"/>
<path d="M490.4,232.0 C501.8,238.9 506.9,244.3 513.5,248.7 C510.3,251.7 512.4,258.6 505.0,264.7 C499.3,265.2 491.3,264.0 479.8,266.8" fill="none" stroke="#2f9f7c" stroke-width="2.16" stroke-opacity="0.95" stroke-linecap="round"/>
<path d="M489.8,238.8 C498.7,242.6 503.6,246.4 508.7,244.4 C504.4,251.3 500.9,257.6 500.2,263.0 C494.6,267.5 486.9,270.0 478.0,271.8" fill="none" stroke="#b3521f" stroke-width="1.73" stroke-opacity="0.95" stroke-linecap="round"/>
<path d="M485.0,235.8 C495.7,239.1 504.7,243.3 508.4,248.5 C506.8,256.0 503.6,259.3 501.6,267.0 C492.2,263.4 488.0,270.1 478.8,270.0" fill="none" stroke="#a9a672" stroke-width="1.43" stroke-opacity="0.95" stroke-linecap="round"/>
<path d="M492.0,239.4 C498.3,242.3 505.1,247.3 513.4,248.2 C509.6,253.8 509.2,260.9 502.9,262.6 C489.9,268.0 487.4,269.5 480.1,270.3" fill="none" stroke="#b3521f" stroke-width="2.14" stroke-opacity="0.95" stroke-linecap="round"/>
<path d="M487.8,236.6 C495.3,239.7 500.1,244.3 507.8,253.4 C504.6,254.8 498.8,261.9 498.0,265.5 C485.4,267.3 481.2,269.9 475.3,266.3" fill="none" stroke="#2f9f7c" stroke-width="1.96" stroke-opacity="0.95" stroke-linecap="round"/>
<path d="M483.9,240.3 C493.7,244.0 498.8,243.3 511.3,249.6 C506.1,256.8 503.4,256.2 500.1,261.1 C496.6,263.3 488.5,260.7 481.8,269.8" fill="none" stroke="#2f9f7c" stroke-width="1.57" stroke-opacity="0.95" stroke-linecap="round"/>
<path d="M482.2,237.3 C493.3,238.1 501.2,249.2 517.8,253.3 C510.4,255.6 512.3,261.7 502.2,264.2 C498.0,265.4 485.4,268.2 482.7,266.6" fill="none" stroke="#a9a672" stroke-width="1.74" stroke-opacity="0.95" stroke-linecap="round"/>
<path d="M497.7,240.6 C501.3,242.5 506.6,245.2 509.1,248.3 C507.0,253.2 507.1,261.9 504.4,268.0 C499.7,269.1 497.9,270.2 486.9,274.3" fill="none" stroke="#b3521f" stroke-width="1.58" stroke-opacity="0.95" stroke-linecap="round"/>
<path d="M489.6,232.8 C493.0,240.0 498.8,244.3 506.0,249.0 C505.6,253.2 506.1,258.3 500.6,264.6 C495.5,269.5 491.4,266.0 485.7,269.8" fill="none" stroke="#a9a672" stroke-width="1.80" stroke-opacity="0.95" stroke-linecap="round"/>
<path d="M429.1,257.0 C428.8,270.2 425.6,279.5 420.4,292.5 C420.2,304.9 424.3,318.4 421.3,330.3 C423.8,342.7 423.8,345.7 429.0,362.3 C424.0,365.7 419.3,369.3 413.0,374.7" fill="none" stroke="#b3521f" stroke-width="1.44" stroke-opacity="0.95" stroke-linecap="round"/>
<path d="M425.9,258.2 C422.6,272.9 420.9,282.5 419.3,294.0 C421.1,305.7 422.7,323.4 424.5,332.4 C424.9,343.4 426.8,350.0 428.4,359.7 C419.7,362.0 415.6,367.9 405.9,372.3" fill="none" stroke="#b3521f" stroke-width="1.40" stroke-opacity="0.95" stroke-linecap="round"/>
<path d="M423.5,260.7 C420.9,269.1 418.9,282.4 419.1,290.5 C419.7,303.0 420.1,318.5 418.8,329.9 C422.1,339.3 421.4,348.5 428.3,357.3 C422.4,364.2 420.5,369.5 414.4,375.9" fill="none" stroke="#8a45a8" stroke-width="1.11" stroke-opacity="0.95" stroke-linecap="round"/>
<path d="M428.9,256.5 C430.5,269.2 423.1,279.2 420.7,292.3 C423.1,307.3 426.2,317.7 428.4,330.0 C429.3,337.6 429.6,347.8 431.4,358.3 C421.5,362.1 419.6,370.4 409.4,372.9" fill="none" stroke="#b3521f" stroke-width="1.53" stroke-opacity="0.95" stroke-linecap="round"/>
<path d="M427.4,257.3 C422.8,270.9 421.1,278.1 420.4,293.1 C421.0,308.8 423.3,317.6 425.9,330.1 C424.2,339.0 425.7,346.9 426.3,356.1 C420.6,362.3 417.6,367.5 410.4,375.1" fill="none" stroke="#8a45a8" stroke-width="1.00" stroke-opacity="0.95" stroke-linecap="round"/>
<path d="M427.9,259.4 C424.2,273.3 424.0,282.4 419.7,293.3 C421.3,302.7 420.3,313.3 422.2,325.7 C424.2,337.8 426.1,348.2 428.1,358.2 C423.1,365.0 417.5,366.3 410.2,376.3" fill="none" stroke="#a9a672" stroke-width="1.46" stroke-opacity="0.95" stroke-linecap="round"/>
<path d="M425.5,257.1 C422.6,270.4 422.1,280.5 420.8,293.8 C421.2,305.0 422.8,319.4 424.5,330.9 C428.3,341.6 427.9,350.2 429.3,357.3 C423.7,364.4 417.1,372.7 413.7,378.1" fill="none" stroke="#b3521f" stroke-width="1.20" stroke-opacity="0.95" stroke-linecap="round"/>
<path d="M431.2,257.6 C424.7,269.3 422.7,282.8 418.3,293.9 C419.6,305.3 421.5,321.0 423.0,331.4 C426.1,341.0 422.7,349.9 428.1,357.5 C422.0,361.9 418.8,366.5 410.6,374.1" fill="none" stroke="#b3521f" stroke-width="1.28" stroke-opacity="0.95" stroke-linecap="round"/>
<path d="M426.1,257.9 C422.6,273.7 423.3,279.9 422.8,293.0 C423.4,306.3 419.9,317.3 422.0,329.8 C422.1,341.2 427.8,348.5 429.2,361.1 C421.6,367.1 416.1,370.8 409.6,375.0" fill="none" stroke="#b3521f" stroke-width="1.30" stroke-opacity="0.95" stroke-linecap="round"/>
<path d="M430.4,257.5 C424.1,271.1 423.4,279.7 419.3,291.6 C419.4,307.5 422.9,319.5 423.2,332.6 C423.0,337.8 424.5,350.2 429.3,354.6 C423.3,362.5 417.6,368.1 411.0,373.6" fill="none" stroke="#b3521f" stroke-width="1.20" stroke-opacity="0.95" stroke-linecap="round"/>
<path d="M426.3,258.4 C426.8,270.3 425.2,284.3 424.4,293.9 C422.0,303.5 428.9,316.9 423.0,330.4 C427.1,337.3 427.0,347.6 427.9,356.3 C424.3,361.3 417.1,369.5 410.5,374.4" fill="none" stroke="#8a45a8" stroke-width="1.19" stroke-opacity="0.95" stroke-linecap="round"/>
<path d="M424.7,259.8 C424.1,271.9 421.9,280.6 423.5,292.0 C419.4,305.0 421.1,313.2 418.9,328.8 C421.5,338.7 422.7,350.4 428.5,358.8 C422.1,363.9 415.7,371.0 410.3,377.7" fill="none" stroke="#8a45a8" stroke-width="1.32" stroke-opacity="0.95" stroke-linecap="round"/>
<path d="M422.1,259.2 C420.5,272.4 417.6,282.4 417.3,293.8 C419.9,308.4 419.1,316.8 420.1,328.2 C422.8,336.9 424.1,346.7 427.9,356.9 C424.2,363.3 416.8,369.5 412.2,374.0" fill="none" stroke="#a9a672" stroke-width="1.25" stroke-opacity="0.95" stroke-linecap="round"/>
<path d="M428.2,257.3 C423.4,268.1 423.0,281.0 419.1,294.2 C420.9,308.0 421.9,320.5 423.0,333.2 C424.2,343.2 427.3,347.4 428.2,358.4 C422.1,366.1 423.1,368.1 411.7,373.4" fill="none" stroke="#8a45a8" stroke-width="1.01" stroke-opacity="0.95" stroke-linecap="round"/>
<path d="M426.3,261.9 C425.3,273.6 423.0,283.8 420.6,291.7 C418.6,306.1 420.9,315.3 420.2,331.9 C422.4,338.7 425.2,346.4 427.4,356.2 C421.1,365.2 413.5,367.4 406.5,375.0" fill="none" stroke="#a9a672" stroke-width="1.51" stroke-opacity="0.95" stroke-linecap="round"/>
<path d="M428.8,258.9 C426.3,268.0 423.6,279.4 421.5,292.4 C420.1,304.0 422.9,316.0 422.4,328.5 C429.2,337.6 423.3,345.5 427.7,356.5 C423.5,362.6 415.4,370.8 410.6,377.1" fill="none" stroke="#a9a672" stroke-width="1.04" stroke-opacity="0.95" stroke-linecap="round"/>
<path d="M425.7,260.1 C422.5,272.9 421.4,287.6 417.4,297.5 C418.0,309.3 419.5,320.1 421.4,329.4 C423.1,340.6 428.7,349.5 430.4,360.2 C425.3,365.7 419.3,371.9 412.1,378.2" fill="none" stroke="#a9a672" stroke-width="1.29" stroke-opacity="0.95" stroke-linecap="round"/>
<path d="M432.6,260.6 C427.0,270.9 424.5,280.3 420.9,292.7 C422.6,306.7 423.9,319.2 423.3,332.4 C425.7,338.9 429.2,346.0 428.2,355.9 C418.5,362.3 413.7,365.5 406.1,372.6" fill="none" stroke="#a9a672" stroke-width="1.21" stroke-opacity="0.95" stroke-linecap="round"/>
<path d="M429.8,256.1 C424.0,267.9 423.4,283.1 416.9,295.5 C422.5,308.2 423.3,320.1 424.0,329.1 C423.9,339.4 430.3,350.3 430.2,360.1 C425.3,363.7 413.7,371.8 408.2,375.9" fill="none" stroke="#b3521f" stroke-width="1.60" stroke-opacity="0.95" stroke-linecap="round"/>
<path d="M428.5,259.1 C425.7,269.1 423.1,277.3 420.4,291.9 C420.4,305.7 423.4,319.6 421.0,331.0 C421.7,342.7 423.9,348.5 426.3,357.8 C420.7,364.0 418.7,369.6 413.3,376.4" fill="none" stroke="#8a45a8" stroke-width="1.50" stroke-opacity="0.95" stroke-linecap="round"/>
<path d="M427.8,259.1 C425.0,272.2 426.1,282.5 421.7,294.3 C421.8,309.2 422.4,315.2 420.5,330.2 C423.0,338.5 429.3,348.2 432.2,359.3 C424.1,365.0 420.2,369.1 409.7,374.3" fill="none" stroke="#b3521f" stroke-width="1.56" stroke-opacity="0.95" stroke-linecap="round"/>
<path d="M426.4,259.7 C425.8,269.0 424.1,283.1 422.1,294.5 C422.4,307.4 422.8,319.7 424.7,330.5 C426.9,341.9 424.6,348.9 430.0,360.3 C424.2,367.6 417.1,373.1 411.1,378.8" fill="none" stroke="#a9a672" stroke-width="1.39" stroke-opacity="0.95" stroke-linecap="round"/>
<path d="M429.1,258.8 C421.4,271.9 423.1,280.3 420.8,296.0 C423.0,308.0 421.6,320.8 422.1,333.1 C425.0,344.1 426.7,352.1 433.3,358.9 C424.2,364.3 417.4,372.9 407.0,376.8" fill="none" stroke="#8a45a8" stroke-width="1.59" stroke-opacity="0.95" stroke-linecap="round"/>
<path d="M427.2,258.2 C429.0,271.0 426.6,282.2 425.0,293.9 C422.3,307.5 422.6,318.6 420.1,331.3 C422.1,339.9 424.1,348.8 428.7,355.8 C422.4,365.0 418.3,368.1 410.1,374.9" fill="none" stroke="#8a45a8" stroke-width="1.08" stroke-opacity="0.95" stroke-linecap="round"/>
<path d="M426.0,261.6 C425.4,273.5 428.7,280.5 424.0,294.2 C423.1,305.3 421.4,322.1 419.1,332.3 C421.5,340.6 425.0,347.7 428.8,356.6 C418.4,362.7 421.2,369.2 410.0,373.6" fill="none" stroke="#b3521f" stroke-width="1.08" stroke-opacity="0.95" stroke-linecap="round"/>
<path d="M428.9,260.7 C424.9,271.0 419.9,279.4 420.6,292.3 C421.4,308.6 416.6,317.6 420.3,330.5 C421.9,341.3 423.4,348.7 427.5,358.1 C420.5,363.6 418.9,373.6 411.0,377.0" fill="none" stroke="#a9a672" stroke-width="1.01" stroke-opacity="0.95" stroke-linecap="round"/>
<path d="M424.4,261.1 C421.5,272.5 422.6,279.9 420.4,289.4 C419.9,303.8 421.3,316.0 421.6,330.0 C421.5,339.3 422.6,347.4 428.6,356.5 C425.2,361.7 413.8,370.2 407.9,375.6" fill="none" stroke="#b3521f" stroke-width="1.25" stroke-opacity="0.95" stroke-linecap="round"/>
<path d="M432.5,259.7 C425.0,272.2 422.3,280.5 418.0,295.0 C422.2,306.9 421.6,319.7 423.5,332.4 C426.1,340.7 425.8,349.3 428.7,361.8 C421.3,364.8 414.1,369.8 409.8,373.1" fill="none" stroke="#8a45a8" stroke-width="1.15" stroke-opacity="0.95" stroke-linecap="round"/>
<path d="M432.8,267.7 C432.0,282.0 432.6,293.1 429.3,308.9 C431.4,322.4 431.6,330.5 433.6,344.2 C426.6,353.3 423.5,361.0 420.6,371.7" fill="none" stroke="#8a45a8" stroke-width="1.50" stroke-opacity="0.95" stroke-linecap="round"/>
<path d="M432.2,267.6 C431.9,282.7 432.1,294.6 429.4,307.3 C429.2,321.2 430.8,333.2 432.0,345.2 C429.1,354.6 426.8,362.4 422.6,370.1" fill="none" stroke="#8a45a8" stroke-width="1.81" stroke-opacity="0.95" stroke-linecap="round"/>
<path d="M435.5,267.8 C432.3,280.9 432.3,293.8 429.9,308.6 C430.1,321.4 430.7,331.4 431.4,341.9 C427.6,350.8 426.4,359.3 424.1,369.4" fill="none" stroke="#8a45a8" stroke-width="1.64" stroke-opacity="0.95" stroke-linecap="round"/>
<path d="M437.5,268.1 C435.4,281.8 429.9,294.2 429.0,307.9 C429.2,320.4 430.5,331.3 432.1,345.4 C427.9,355.3 424.2,363.3 421.1,371.4" fill="none" stroke="#8a45a8" stroke-width="2.28" stroke-opacity="0.95" stroke-linecap="round"/>
<path d="M437.2,266.9 C436.6,282.4 436.0,293.2 432.3,308.4 C431.0,322.3 429.0,329.6 428.6,344.5 C424.9,353.3 426.7,361.2 423.0,370.1" fill="none" stroke="#b3521f" stroke-width="1.41" stroke-opacity="0.95" stroke-linecap="round"/>
<path d="M434.7,269.0 C433.9,283.0 433.8,292.6 429.4,307.2 C431.7,319.7 430.8,329.8 429.1,343.6 C425.9,354.1 424.6,362.8 420.7,371.4" fill="none" stroke="#8a45a8" stroke-width="1.52" stroke-opacity="0.95" stroke-linecap="round"/>
<path d="M435.5,267.5 C432.3,280.5 431.0,295.0 427.8,306.8 C429.0,318.8 428.8,330.7 432.1,342.4 C430.0,354.6 427.1,359.5 421.8,370.5" fill="none" stroke="#8a45a8" stroke-width="2.05" stroke-opacity="0.95" stroke-linecap="round"/>
<path d="M432.9,265.7 C430.6,280.7 427.0,291.0 427.6,306.5 C430.7,319.4 433.1,328.6 433.5,342.1 C428.3,350.2 425.1,357.4 419.5,370.4" fill="none" stroke="#b3521f" stroke-width="2.13" stroke-opacity="0.95" stroke-linecap="round"/>
<path d="M435.2,269.3 C431.6,284.8 433.0,294.4 429.5,308.6 C430.5,319.5 428.2,328.3 431.1,339.7 C429.2,350.0 424.4,360.5 422.6,369.6" fill="none" stroke="#8a45a8" stroke-width="1.87" stroke-opacity="0.95" stroke-linecap="round"/>
<path d="M434.0,268.1 C430.3,282.5 429.0,294.5 427.1,309.4 C427.2,319.3 428.8,329.8 430.4,343.2 C427.4,355.8 430.3,363.1 425.7,369.3" fill="none" stroke="#b3521f" stroke-width="1.97" stroke-opacity="0.95" stroke-linecap="round"/>
<path d="M435.3,269.8 C434.1,282.9 431.2,292.0 429.4,308.2 C430.6,317.8 430.7,329.3 431.7,342.3 C429.3,348.7 425.5,358.9 421.9,367.6" fill="none" stroke="#b3521f" stroke-width="1.70" stroke-opacity="0.95" stroke-linecap="round"/>
<path d="M432.7,264.9 C432.1,278.6 431.6,293.7 428.9,306.9 C427.3,318.4 430.7,328.7 429.9,342.8 C426.5,352.3 426.2,361.5 422.3,369.4" fill="none" stroke="#b3521f" stroke-width="2.21" stroke-opacity="0.95" stroke-linecap="round"/>
<path d="M386.7,308.3 C378.0,330.6 383.0,357.9 395.4,370.2" fill="none" stroke="#8c86c8" stroke-width="0.9"/>
<path d="M407.8,387.8 C405.8,385.2 405.5,387.7 395.6,388.6 C389.4,387.3 380.2,387.6 376.0,381.7 C380.3,377.8 377.3,375.3 383.2,372.3" fill="none" stroke="#1fa9b8" stroke-width="1.19" stroke-opacity="0.95" stroke-linecap="round"/>
<path d="M401.4,377.0 C395.7,383.3 400.0,375.7 396.9,383.3 C390.4,373.1 380.7,375.9 374.7,375.7 C375.6,369.3 381.4,370.5 383.2,366.0" fill="none" stroke="#1fa9b8" stroke-width="1.06" stroke-opacity="0.95" stroke-linecap="round"/>
<path d="M408.6,378.5 C385.5,388.9 388.5,373.8 379.1,375.9 C380.0,378.4 374.5,368.6 374.7,376.1 C373.3,373.4 378.0,369.2 381.6,371.0" fill="none" stroke="#1fa9b8" stroke-width="0.83" stroke-opacity="0.95" stroke-linecap="round"/>
<path d="M408.8,375.5 C408.2,371.5 404.8,376.5 396.2,376.9 C391.2,376.2 382.7,371.3 383.1,372.2 C382.4,371.6 377.3,366.5 374.1,365.9" fill="none" stroke="#1fa9b8" stroke-width="1.00" stroke-opacity="0.95" stroke-linecap="round"/>
<path d="M400.8,384.3 C395.1,379.9 383.4,388.1 381.3,387.5 C381.9,378.8 388.9,379.2 387.6,375.2 C383.0,371.4 389.6,373.4 381.8,366.0" fill="none" stroke="#1fa9b8" stroke-width="0.81" stroke-opacity="0.95" stroke-linecap="round"/>
<path d="M412.0,386.8 C401.3,388.4 399.6,391.1 393.5,384.9 C389.6,384.5 387.6,375.4 376.1,373.3 C377.3,373.0 376.3,379.4 374.1,374.7" fill="none" stroke="#1fa9b8" stroke-width="1.20" stroke-opacity="0.95" stroke-linecap="round"/>
<path d="M404.1,377.5 C402.3,380.7 398.4,384.7 387.4,387.2 C388.7,382.1 390.3,379.0 386.2,369.8 C386.5,371.7 375.2,371.9 372.8,369.0" fill="none" stroke="#1fa9b8" stroke-width="0.86" stroke-opacity="0.95" stroke-linecap="round"/>
<path d="M406.6,376.8 C398.5,380.0 399.9,381.5 405.3,389.7 C401.2,390.3 389.5,385.8 385.3,385.8 C381.9,380.4 382.5,373.6 376.1,365.6" fill="none" stroke="#1fa9b8" stroke-width="0.87" stroke-opacity="0.95" stroke-linecap="round"/>
<path d="M408.1,374.0 C401.0,369.6 398.2,374.4 394.6,377.3 C389.2,374.3 394.4,371.3 387.1,372.2 C377.3,374.8 375.6,364.5 372.0,365.9" fill="none" stroke="#1fa9b8" stroke-width="0.87" stroke-opacity="0.95" stroke-linecap="round"/>
<path d="M415.0,379.5 C403.2,387.7 401.5,380.2 388.5,382.6 C381.9,383.1 382.8,383.7 371.3,379.8 C377.5,372.9 384.7,370.7 382.9,362.3" fill="none" stroke="#1fa9b8" stroke-width="1.12" stroke-opacity="0.95" stroke-linecap="round"/>
<path d="M418.5,380.9 C405.7,377.9 400.7,376.3 387.3,373.6 C387.5,375.1 383.0,379.3 387.2,379.1 C375.1,383.1 373.0,360.5 372.3,361.8" fill="none" stroke="#1fa9b8" stroke-width="1.04" stroke-opacity="0.95" stroke-linecap="round"/>
<path d="M413.3,378.7 C411.7,377.7 400.5,381.5 397.8,379.0 C399.1,383.8 388.4,382.4 383.3,376.9 C382.0,370.3 379.6,371.1 379.0,363.3" fill="none" stroke="#1fa9b8" stroke-width="0.80" stroke-opacity="0.95" stroke-linecap="round"/>
<path d="M402.3,377.5 C407.8,376.8 404.0,383.3 404.5,386.3 C398.0,390.5 399.4,394.7 393.1,396.4 C392.8,394.5 396.8,398.8 393.7,399.8" fill="none" stroke="#1fa9b8" stroke-width="0.83" stroke-opacity="0.95" stroke-linecap="round"/>
<path d="M402.7,380.0 C400.4,387.7 402.7,393.6 399.1,393.0 C399.0,398.2 395.2,397.2 391.6,401.8 C387.7,406.8 384.0,411.0 386.1,408.5" fill="none" stroke="#1fa9b8" stroke-width="0.84" stroke-opacity="0.95" stroke-linecap="round"/>
<path d="M404.8,382.0 C401.8,385.2 392.7,388.5 391.9,391.6 C392.1,392.5 393.6,390.7 394.4,398.5 C391.0,402.7 395.3,395.0 396.2,402.1" fill="none" stroke="#1fa9b8" stroke-width="0.84" stroke-opacity="0.95" stroke-linecap="round"/>
<path d="M406.0,380.6 C408.4,384.4 398.6,390.1 398.3,393.6 C389.6,394.5 391.8,396.2 388.3,394.9 C384.3,397.2 386.0,393.3 383.7,402.0" fill="none" stroke="#1fa9b8" stroke-width="1.07" stroke-opacity="0.95" stroke-linecap="round"/>
<path d="M400.7,381.9 C397.8,382.9 399.8,388.3 395.8,388.4 C392.5,391.9 390.6,391.6 387.2,392.6 C389.7,405.1 385.4,407.5 388.8,411.4" fill="none" stroke="#1fa9b8" stroke-width="0.89" stroke-opacity="0.95" stroke-linecap="round"/>
<path d="M403.9,380.7 C400.6,390.8 397.5,387.2 394.1,390.6 C391.6,391.4 391.7,399.0 391.2,399.7 C388.9,398.8 391.7,405.4 392.1,403.0" fill="none" stroke="#1fa9b8" stroke-width="0.92" stroke-opacity="0.95" stroke-linecap="round"/>
<path d="M405.9,380.5 C396.3,382.5 392.3,383.5 387.0,387.8 C381.2,397.3 388.8,401.2 384.4,402.6 C386.0,407.9 385.7,404.8 380.5,409.7" fill="none" stroke="#1fa9b8" stroke-width="0.88" stroke-opacity="0.95" stroke-linecap="round"/>
<path d="M403.4,380.7 C403.5,384.7 397.7,388.1 401.2,388.3 C400.1,389.5 393.8,393.5 386.3,401.3 C384.5,403.5 385.0,399.7 385.9,400.5" fill="none" stroke="#1fa9b8" stroke-width="0.83" stroke-opacity="0.95" stroke-linecap="round"/>
<path d="M396.3,384.2 C390.6,384.0 393.3,383.2 394.4,390.1 C386.4,394.4 392.3,386.7 382.4,394.3 C386.4,402.8 380.9,405.3 386.4,405.7" fill="none" stroke="#1fa9b8" stroke-width="1.04" stroke-opacity="0.95" stroke-linecap="round"/>
<path d="M405.4,380.5 C399.6,380.7 397.0,383.3 390.0,388.0 C392.7,393.0 395.9,398.3 398.2,398.0 C390.7,404.6 388.9,401.4 380.2,404.6" fill="none" stroke="#1fa9b8" stroke-width="0.91" stroke-opacity="0.95" stroke-linecap="round"/>
<path d="M406.9,375.2 C402.0,383.7 398.4,385.4 395.4,396.7 C392.2,393.8 388.3,395.4 387.7,397.5 C391.1,403.5 385.0,402.9 382.0,408.9" fill="none" stroke="#1fa9b8" stroke-width="0.87" stroke-opacity="0.95" stroke-linecap="round"/>
<path d="M410.7,379.4 C404.5,377.6 403.1,382.8 403.1,389.2 C398.8,389.5 393.0,397.6 388.4,395.8 C389.2,392.9 387.7,401.4 385.4,401.4" fill="none" stroke="#1fa9b8" stroke-width="0.95" stroke-opacity="0.95" stroke-linecap="round"/>
<path d="M417.7,381.4 C437.5,375.2 444.9,357.9 469.7,349.2 S519.3,338.0 541.6,338.0 S571.3,350.4 584.2,351.7" fill="none" stroke="#1fa9b8" stroke-width="2.0"/>
</g>
<g filter="url(#aSoft1)">
<circle cx="395.4" cy="372.7" r="6.5" fill="#22c6d2"/>
<circle cx="404.1" cy="380.2" r="5.9" fill="#1fb8c8"/>
<circle cx="397.9" cy="386.4" r="6.5" fill="#22c6d2"/>
<circle cx="407.8" cy="390.1" r="5.9" fill="#20bccb"/>
<circle cx="390.4" cy="380.2" r="4.8" fill="#1fa9b8"/>
<circle cx="410.2" cy="378.9" r="4.2" fill="#9c28b8"/>
<circle cx="401.6" cy="291.0" r="5.9" fill="#d8cc7c"/>
<circle cx="396.6" cy="297.2" r="5.4" fill="#d2c878"/>
<circle cx="406.5" cy="298.4" r="5.4" fill="#d8cc7c"/>
<circle cx="400.3" cy="303.3" r="4.8" fill="#cfc474"/>
<circle cx="395.4" cy="304.6" r="4.2" fill="#d2c878"/>
<circle cx="405.3" cy="287.2" r="4.2" fill="#cfc474"/>
<circle cx="469.7" cy="187.4" r="3.5" fill="#d02818"/>
<circle cx="405.3" cy="200.5" r="3.5" fill="#b84a20"/>
<circle cx="403.3" cy="212.2" r="3.2" fill="#b84a20"/>
<circle cx="390.4" cy="218.6" r="2.9" fill="#b84a20"/>
<circle cx="381.3" cy="226.5" r="2.9" fill="#b84a20"/>
<circle cx="503.2" cy="192.3" r="2.6" fill="#c03c20"/>
<circle cx="386.0" cy="304.6" r="2.3" fill="#9a94d4"/>
</g>
<g>
<path d="M268.3,415.3 V471.8" stroke="#17a9f0" stroke-width="4.4" fill="none"/>
<polygon points="260.3,468.1 268.3,471.8 276.5,468.1 268.3,486.2" fill="#17a9f0"/>
<path d="M268.3,415.3 L279.7,445.1" stroke="#12a64e" stroke-width="4.4" fill="none"/>
<polygon points="272.0,445.1 278.9,444.1 285.9,439.1 283.9,456.5" fill="#12a64e"/>
<path d="M268.3,415.3 H331.0" stroke="#ff0b0b" stroke-width="4.4" fill="none"/>
<polygon points="328.0,407.4 331.0,415.3 328.0,424.3 345.3,415.8" fill="#ff0b0b"/>
</g>
<text x="351.5" y="423.5" font-size="19" fill="#ff0b0b" stroke="#ff0b0b" stroke-width="0.23" stroke-linejoin="round" >l</text>
<text x="286.5" y="465.2" font-size="19" fill="#12a64e" stroke="#12a64e" stroke-width="0.23" stroke-linejoin="round" >a</text>
<text x="262.7" y="500.2" font-size="19" fill="#17a9f0" stroke="#17a9f0" stroke-width="0.23" stroke-linejoin="round" >v</text>
</g>
<g clip-path="url(#aRight)">
<g filter="url(#aSoft3)">
<path d="M 578.6,479.3 L 683.9,466.9 L 783.0,442.1 L 807.8,504.0 L 733.4,541.2 L 634.3,546.2 L 578.6,541.2 Z" fill="#f3f3f3"/>
</g>
<g filter="url(#aTex)">
<path d="M 742.1,417.3 C 740.9,392.5 770.6,355.4 790.4,318.2 C 802.8,293.4 812.7,273.6 832.5,261.2 C 857.3,243.9 901.9,246.4 931.7,273.6 C 968.8,308.3 988.6,343.0 987.4,382.6 C 986.2,429.7 966.3,479.3 926.7,501.6 C 894.5,521.4 844.9,523.9 812.7,506.5 C 783.0,486.7 748.3,449.5 742.1,417.3 Z" fill="url(#lobeR)"/>
<ellipse cx="830.1" cy="380.2" rx="84" ry="116" transform="rotate(14 830.1 380.2)" fill="#e8e8e8" filter="url(#aSoft)"/>
<path d="M 574.9,177.0 C 589.7,167.1 621.9,159.6 659.1,157.2 C 696.3,157.2 733.4,169.6 763.2,186.9 C 790.4,204.2 815.2,219.1 820.2,236.5 C 822.6,253.8 805.3,263.7 799.1,278.6 C 807.8,293.4 797.9,313.3 790.4,323.2 C 783.0,343.0 770.6,362.8 755.7,382.6 C 738.4,404.9 708.7,432.2 683.9,461.9 C 666.5,476.8 634.3,484.2 619.5,491.7 L 604.6,512.7 L 594.7,491.7 L 574.9,491.7 Z" fill="#e9e9e9"/>
<ellipse cx="646.7" cy="204.2" rx="70" ry="20" fill="#dcdcdc"/>
<ellipse cx="671.5" cy="380.2" rx="60" ry="40" fill="#e4e4e4"/>
<ellipse cx="763.2" cy="318.2" rx="45" ry="55" fill="#e3e3e3"/>
<ellipse cx="621.9" cy="442.1" rx="40" ry="70" fill="#e3e3e3"/>
</g>
<g filter="url(#aSpk)" opacity="0.22">
<ellipse cx="830.1" cy="380.2" rx="80" ry="110" transform="rotate(14 830.1 380.2)" fill="#000"/>
<path d="M 578.6,404.9 L 609.6,404.9 L 617.0,479.3 L 578.6,484.2 Z" fill="#000" fill-opacity="0.6"/>
</g>
<path d="M 578.6,190.6 L 634.3,188.1 L 688.8,198.0 L 726.0,215.4 L 738.4,231.5 L 732.2,243.9 L 713.6,226.5 L 671.5,219.1 L 621.9,224.1 L 578.6,224.1 Z" fill="#8a8a8a" fill-opacity="0.35" filter="url(#aSoft3)"/>
<g filter="url(#aSpk2)" opacity="0.5"><path d="M 578.6,190.6 L 634.3,188.1 L 688.8,198.0 L 726.0,215.4 L 738.4,231.5 L 732.2,243.9 L 713.6,226.5 L 671.5,219.1 L 621.9,224.1 L 578.6,224.1 Z" fill="#000"/><path d="M 721.1,226.5 L 743.3,234.0 L 748.3,293.4 L 743.3,343.0 L 758.2,377.7 L 743.3,377.7 L 723.5,343.0 L 726.0,281.1 Z" fill="#000" fill-opacity="0.6"/></g>
<g filter="url(#aSoft1)" fill="none" stroke-linecap="round" stroke-linejoin="round">
<polyline points="579.8,201.8 609.6,202.3 646.7,204.7 683.9,209.2 713.6,216.6 731.0,227.8" stroke="#777" stroke-width="5" stroke-opacity="0.4"/>
<polyline points="579.8,201.8 621.9,203.0 664.1,206.2 698.8,212.2 721.1,219.1 733.4,229.0 734.7,248.8" stroke="#3a3a3a" stroke-width="2.6" stroke-opacity="0.8"/>
<polyline points="584.8,191.9 621.9,194.3 659.1,199.3" stroke="#555" stroke-width="2.0" stroke-opacity="0.7"/>
<polyline points="734.7,229.0 733.4,258.8 731.0,281.1 737.2,303.3 731.0,330.6 733.4,350.4 748.3,372.7" stroke="#444" stroke-width="2.4" stroke-opacity="0.75"/>
<polyline points="728.5,231.5 726.0,268.7 728.5,298.4 723.5,338.0 738.4,367.8" stroke="#555" stroke-width="1.6" stroke-opacity="0.7"/>
<polyline points="796.6,308.3 790.4,325.6 778.0,345.5 768.1,360.3 758.2,370.2" stroke="#333" stroke-width="1.8" stroke-opacity="0.8"/>
<polyline points="579.8,347.9 609.6,350.9 646.7,355.4 683.9,361.6 713.6,367.8 738.4,374.0 753.3,376.4" stroke="#333" stroke-width="1.8" stroke-opacity="0.85"/>
<polyline points="589.7,343.0 634.3,351.7 678.9,355.4 718.6,372.7 748.3,386.4" stroke="#555" stroke-width="1.2" stroke-opacity="0.7"/>
<polyline points="578.6,235.2 594.7,232.0 610.8,229.0 625.7,235.2 630.6,241.4 626.9,248.8 631.9,258.8 626.9,278.6 621.9,293.4 620.7,304.6" stroke="#1a1a1a" stroke-width="2.2"/>
<polyline points="626.9,243.9 620.7,258.8 615.7,278.6 610.8,293.4 609.6,304.6" stroke="#1a1a1a" stroke-width="1.8"/>
<polyline points="619.5,313.3 620.7,325.6 625.7,335.6" stroke="#555" stroke-width="1.0"/>
<polyline points="631.9,238.9 659.1,236.5 678.9,241.4 693.8,258.8 708.7,273.6" stroke="#666" stroke-width="1.0" stroke-opacity="0.8"/>
<polyline points="738.4,229.0 758.2,258.8 770.6,268.7" stroke="#777" stroke-width="1.0" stroke-opacity="0.8"/>
<polyline points="641.8,392.5 659.1,388.8 674.0,386.4 669.0,397.5 654.2,400.0 671.5,401.2" stroke="#666" stroke-width="1.4" stroke-opacity="0.8"/>
</g>
<g filter="url(#aSoft1)">
<ellipse cx="658.6" cy="188.6" rx="4.3" ry="3.7" transform="rotate(0 658.6 188.6)" fill="#0c0c0c"/>
<ellipse cx="665.3" cy="187.4" rx="4.0" ry="4.0" transform="rotate(0 665.3 187.4)" fill="#0c0c0c"/>
<ellipse cx="685.1" cy="192.6" rx="4.3" ry="3.7" transform="rotate(0 685.1 192.6)" fill="#555"/>
<ellipse cx="702.5" cy="191.4" rx="5.0" ry="4.0" transform="rotate(0 702.5 191.4)" fill="#222"/>
<ellipse cx="711.6" cy="192.6" rx="4.0" ry="3.7" transform="rotate(0 711.6 192.6)" fill="#1a1a1a"/>
<ellipse cx="706.2" cy="187.4" rx="3.1" ry="2.5" transform="rotate(0 706.2 187.4)" fill="#444"/>
<ellipse cx="700.2" cy="206.7" rx="3.4" ry="3.1" transform="rotate(0 700.2 206.7)" fill="#111"/>
<ellipse cx="693.8" cy="213.7" rx="4.0" ry="3.7" transform="rotate(0 693.8 213.7)" fill="#0c0c0c"/>
<ellipse cx="753.3" cy="235.2" rx="3.7" ry="3.1" transform="rotate(0 753.3 235.2)" fill="#666"/>
<ellipse cx="766.1" cy="229.5" rx="3.4" ry="3.1" transform="rotate(0 766.1 229.5)" fill="#222"/>
<ellipse cx="766.9" cy="237.9" rx="3.4" ry="3.1" transform="rotate(0 766.9 237.9)" fill="#222"/>
<ellipse cx="759.5" cy="236.5" rx="2.8" ry="2.5" transform="rotate(0 759.5 236.5)" fill="#555"/>
<ellipse cx="769.4" cy="274.1" rx="4.3" ry="3.7" transform="rotate(0 769.4 274.1)" fill="#222"/>
<ellipse cx="780.5" cy="268.7" rx="5.3" ry="4.3" transform="rotate(0 780.5 268.7)" fill="#333"/>
<ellipse cx="790.9" cy="275.4" rx="4.0" ry="3.7" transform="rotate(0 790.9 275.4)" fill="#111"/>
<ellipse cx="761.9" cy="268.7" rx="3.1" ry="2.5" transform="rotate(0 761.9 268.7)" fill="#777"/>
<ellipse cx="799.8" cy="289.7" rx="6.8" ry="8.7" transform="rotate(20 799.8 289.7)" fill="#555"/>
<ellipse cx="794.1" cy="303.8" rx="6.2" ry="5.0" transform="rotate(0 794.1 303.8)" fill="#2a2a2a"/>
<ellipse cx="711.6" cy="275.6" rx="4.3" ry="4.0" transform="rotate(0 711.6 275.6)" fill="#0c0c0c"/>
<ellipse cx="728.5" cy="281.1" rx="5.9" ry="4.0" transform="rotate(-20 728.5 281.1)" fill="#0c0c0c"/>
<ellipse cx="756.2" cy="370.7" rx="9.3" ry="4.0" transform="rotate(-32 756.2 370.7)" fill="#0c0c0c"/>
<ellipse cx="615.0" cy="308.3" rx="12.4" ry="8.1" transform="rotate(0 615.0 308.3)" fill="#060606"/>
<ellipse cx="659.6" cy="294.7" rx="4.3" ry="3.7" transform="rotate(0 659.6 294.7)" fill="#999"/>
<ellipse cx="664.1" cy="314.5" rx="5.6" ry="5.0" transform="rotate(0 664.1 314.5)" fill="#aaa"/>
<ellipse cx="672.7" cy="325.6" rx="4.3" ry="3.7" transform="rotate(0 672.7 325.6)" fill="#aaa"/>
<ellipse cx="676.0" cy="335.6" rx="5.6" ry="4.3" transform="rotate(0 676.0 335.6)" fill="#8a8a8a"/>
<ellipse cx="708.7" cy="414.8" rx="6.2" ry="7.4" transform="rotate(10 708.7 414.8)" fill="#b0b0b0"/>
<ellipse cx="615.7" cy="246.4" rx="3.7" ry="3.1" transform="rotate(0 615.7 246.4)" fill="#c0c0c0"/>
<ellipse cx="738.4" cy="317.7" rx="4.3" ry="3.1" transform="rotate(0 738.4 317.7)" fill="#aaa"/>
</g>
</g>
<text x="631.4" y="165.8" font-size="23.4" stroke="#000" stroke-width="0.28" stroke-linejoin="round" textLength="61.2" lengthAdjust="spacingAndGlyphs" >DN1a</text>
<text x="708.2" y="171.5" font-size="23.4" stroke="#000" stroke-width="0.28" stroke-linejoin="round" textLength="62.4" lengthAdjust="spacingAndGlyphs" >DN1p</text>
<text x="780.0" y="201.3" font-size="23.4" stroke="#000" stroke-width="0.28" stroke-linejoin="round" textLength="48.0" lengthAdjust="spacingAndGlyphs" >DN3</text>
<text x="812.2" y="260.7" font-size="23.4" stroke="#000" stroke-width="0.28" stroke-linejoin="round" textLength="46.4" lengthAdjust="spacingAndGlyphs" >LNd</text>
<text x="818.2" y="322.7" font-size="23.4" stroke="#000" stroke-width="0.28" stroke-linejoin="round" textLength="58.9" lengthAdjust="spacingAndGlyphs" >l-LNv</text>
<text x="780.0" y="380.7" font-size="23.4" stroke="#000" stroke-width="0.28" stroke-linejoin="round" textLength="67.0" lengthAdjust="spacingAndGlyphs" >s-LNv</text>
<text x="829.6" y="294.7" font-size="23.4" stroke="#000" stroke-width="0.28" stroke-linejoin="round" textLength="102.6" lengthAdjust="spacingAndGlyphs" >5<tspan font-size="14.5" dy="-9.5">th</tspan><tspan dy="9.5"> s-LNv</tspan></text>
<text x="1156.5" y="117.5" font-size="44.5" stroke="#000" stroke-width="0.53" stroke-linejoin="round" >b</text>
<g filter="url(#bSoft)">
<polygon points="1147.6,485.0 1328.7,507.7 1800.2,481.1 1723.0,465.0 1224.0,478.0" fill="#777" />
<polygon points="1147.6,485.0 1328.7,507.7 1328.7,541.1 1147.6,518.5" fill="#a4a4a4" />
<polygon points="1328.7,507.7 1800.2,481.1 1800.2,517.0 1328.7,541.1" fill="#b9b9b9" />
<polygon points="1555.6,213.0 1676.0,203.5 1676.0,481.3 1555.6,468.7" fill="#a2a2a2" />
<polygon points="1224.5,151.5 1594.0,132.5 1723.2,146.6 1347.9,168.8" fill="#717171" />
<polygon points="1224.5,151.5 1345.5,168.6 1345.5,501.4 1224.5,486.3" fill="url(#sideG)" />
<polygon points="1345.5,168.6 1723.2,146.6 1723.2,478.6 1676.0,481.3 1676.0,203.5 1555.6,213.0 1391.4,218.4 1391.4,497.8 1345.5,501.4" fill="#b7b7b7" />
<ellipse cx="1472" cy="150.6" rx="77" ry="5.6" fill="#9c9c9c"/>
</g>
<ellipse cx="1462" cy="203" rx="26" ry="23" fill="#000" fill-opacity="0.12" filter="url(#bSoft)"/>
<ellipse cx="1414" cy="225" rx="94" ry="15.5" fill="#000" fill-opacity="0.11" filter="url(#bSoft)"/>
<path d="M1418.7,442.3 H1529.4 V484 A55.35,4.2 0 0 1 1418.7,484 Z" fill="url(#holdG)" filter="url(#bSoft)"/>
<ellipse cx="1476.6" cy="366.3" rx="85.3" ry="83" fill="url(#ballG)"/>
<g clip-path="url(#ballClip)" filter="url(#bSoft)">
<circle cx="1476.6" cy="364.3" r="86" fill="none" stroke="#555" stroke-opacity="0.5" stroke-width="3"/>
<polygon points="1451.9,298.9 1462.0,296.4 1462.5,321.6 1470.0,327.8 1467.0,339.2 1455.7,339.2 1451.9,312.8" fill="#050505" stroke="#050505" stroke-width="1.5" stroke-linejoin="round"/>
<polygon points="1475.8,307.7 1487.1,299.7 1504.7,301.4 1511.8,307.7 1507.3,314.0 1493.4,317.8 1480.9,315.3" fill="#050505" stroke="#050505" stroke-width="1.5" stroke-linejoin="round"/>
<polygon points="1419.2,319.0 1433.1,326.6 1441.9,340.4 1431.8,342.4 1424.3,335.4" fill="#050505" stroke="#050505" stroke-width="1.5" stroke-linejoin="round"/>
<polygon points="1494.7,353.0 1504.7,335.4 1517.3,330.4 1523.6,336.6 1518.6,353.0 1507.3,361.8 1495.9,365.1" fill="#050505" stroke="#050505" stroke-width="1.5" stroke-linejoin="round"/>
<polygon points="1441.9,361.0 1455.7,357.5 1470.8,361.8 1478.3,381.9 1478.3,397.0 1470.8,398.8 1454.4,380.7" fill="#050505" stroke="#050505" stroke-width="1.5" stroke-linejoin="round"/>
<polygon points="1412.9,370.6 1424.8,368.1 1419.2,403.3 1414.2,405.8 1407.9,398.3" fill="#050505" stroke="#050505" stroke-width="1.5" stroke-linejoin="round"/>
<polygon points="1521.1,380.7 1541.2,376.1 1542.5,393.2 1536.2,405.8 1528.6,407.1 1519.3,400.8" fill="#050505" stroke="#050505" stroke-width="1.5" stroke-linejoin="round"/>
<polygon points="1434.3,422.2 1462.0,413.9 1483.4,417.1 1494.2,427.9 1478.3,435.5 1464.5,431.0 1449.4,424.7" fill="#050505" stroke="#050505" stroke-width="1.5" stroke-linejoin="round"/>
</g>
<g filter="url(#bSoft)">
<path d="M1407.2,30 Q1407.2,22.5 1420,22 Q1473,19.5 1528,22 Q1540.5,22.5 1540.5,30 V131 Q1540.5,137 1533,139 L1508,146.5 Q1507,154.5 1497,154.5 H1452 Q1442,154.5 1441.5,146.5 L1415,139 Q1407.2,137 1407.2,131 Z" fill="url(#objG)"/>
<path d="M1407.2,30 Q1407.2,22.5 1420,22 Q1473,19.5 1528,22 Q1540.5,22.5 1540.5,30 V44 H1407.2 Z" fill="url(#objT)"/>
<path d="M1415,139 L1441.5,146.5 Q1442,154.5 1452,154.5 H1497 Q1507,154.5 1508,146.5 L1533,139 Q1473,143 1415,139 Z" fill="#0c0c0c"/>
<path d="M1407.6,60.4 Q1472,88.5 1535.6,60.4" fill="none" stroke="#19a8e8" stroke-width="4.6"/>
</g>
<text x="1447.4" y="122.0" font-size="27" fill="#fff" stroke="#fff" stroke-width="0.32" stroke-linejoin="round" textLength="53.6" lengthAdjust="spacingAndGlyphs" >25 x</text>
<g filter="url(#bSoft)">
<polyline points="1412.2,248.7 1405.4,270.5 1393.4,281.1 1376.8,289.4" fill="none" stroke="#96602f" stroke-width="3.3" stroke-linecap="round" stroke-linejoin="round"/>
<polyline points="1425.8,258.5 1429.6,276.6 1428.1,297.7 1424.3,335.4" fill="none" stroke="#96602f" stroke-width="3.0" stroke-linecap="round" stroke-linejoin="round"/>
<polyline points="1428.8,260.7 1444.7,270.5 1446.9,264.5 1440.9,261.5" fill="none" stroke="#96602f" stroke-width="3.3" stroke-linecap="round" stroke-linejoin="round"/>
<polyline points="1459.0,266.0 1465.8,278.1 1468.8,297.7 1478.6,324.9 1491.5,360.3" fill="none" stroke="#96602f" stroke-width="3.3" stroke-linecap="round" stroke-linejoin="round"/>
<polyline points="1496.0,276.6 1497.8,288.6 1511.1,299.2 1530.7,311.3 1551.8,327.9" fill="none" stroke="#96602f" stroke-width="3.6" stroke-linecap="round" stroke-linejoin="round"/>
<polyline points="1499.0,258.5 1502.8,264.5 1506.9,269.3" fill="none" stroke="#96602f" stroke-width="2.7" stroke-linecap="round" stroke-linejoin="round"/>
<polyline points="1500.5,274.3 1505.8,280.3 1512.6,285.2" fill="none" stroke="#96602f" stroke-width="2.4" stroke-linecap="round" stroke-linejoin="round"/>
<path d="M1401.7,239.6 C1403.9,222.3 1420.5,215.0 1438.6,215.0 L1482.4,230.6 L1466.6,262.2 C1450.7,265.3 1428.1,259.2 1408.5,247.9 Z" fill="#a46a3a" stroke="#6e4322" stroke-width="0.6"/>
<path d="M1402.1,239.6 C1404.7,223.0 1420.5,216.2 1438.6,216.2 L1474.9,229.8 C1450.7,240.4 1428.1,246.4 1414.5,246.4 Z" fill="#9a9088" fill-opacity="0.75"/>
<path d="M1401.8,239.6 C1403.6,225.3 1414.5,217.7 1426.6,215.9 L1422.0,249.4 C1416.0,247.9 1408.5,244.9 1401.8,239.6 Z" fill="#6c6866"/>
<line x1="1409.2" y1="223.8" x2="1411.2" y2="246.4" stroke="#c08850" stroke-width="0.9"/>
<line x1="1415.3" y1="223.8" x2="1417.2" y2="246.4" stroke="#c08850" stroke-width="0.9"/>
<line x1="1422.0" y1="223.8" x2="1424.0" y2="246.4" stroke="#c08850" stroke-width="0.9"/>
<polygon points="1434.1,218.5 1526.2,214.0 1482.4,229.5 1459.8,225.3" fill="#2c2c2c" />
<ellipse cx="1486.9" cy="250.9" rx="19.3" ry="22.6" fill="#a46a3a" stroke="#6e4322" stroke-width="0.6"/>
<path d="M1488.4,270.5 L1500.5,273.6 L1497.5,288.6 Z" fill="#a46a3a"/>
<ellipse cx="1477.9" cy="254.7" rx="12.1" ry="16.9" transform="rotate(-8 1477.9 254.7)" fill="#8a0009" stroke="#4a0a08" stroke-width="0.5"/>
<ellipse cx="1498.3" cy="239.6" rx="6.3" ry="10.3" transform="rotate(-35 1498.3 239.6)" fill="#8a0009" stroke="#4a0a08" stroke-width="0.5"/>
</g>
<line x1="1540.8" y1="81.7" x2="1728.0" y2="81.7" stroke="#000" stroke-width="3.0" stroke-dasharray="11.3 8.3"/>
<line x1="1631.0" y1="184.2" x2="1728.0" y2="184.2" stroke="#000" stroke-width="3.0" stroke-dasharray="11.3 8.3"/>
<line x1="1514.4" y1="271.5" x2="1723.0" y2="271.5" stroke="#000" stroke-width="3.0" stroke-dasharray="11.3 8.3"/>
<line x1="1562.0" y1="358.7" x2="1728.0" y2="358.7" stroke="#000" stroke-width="3.0" stroke-dasharray="11.3 8.3"/>
<line x1="1540.3" y1="450.5" x2="1728.0" y2="450.5" stroke="#000" stroke-width="3.0" stroke-dasharray="11.3 8.3"/>
<line x1="1694.8" y1="504.8" x2="1804.0" y2="504.8" stroke="#000" stroke-width="3.0" stroke-dasharray="11.3 8.3"/>
<text x="1738.0" y="99.4" font-size="30.5" stroke="#000" stroke-width="0.37" stroke-linejoin="round" textLength="175.5" lengthAdjust="spacingAndGlyphs" >Two Photon</text>
<text x="1738.0" y="195.3" font-size="30.5" stroke="#000" stroke-width="0.37" stroke-linejoin="round" textLength="237.0" lengthAdjust="spacingAndGlyphs" >Metallic Flyplate</text>
<text x="1738.0" y="288.3" font-size="30.5" stroke="#000" stroke-width="0.37" stroke-linejoin="round" textLength="42.3" lengthAdjust="spacingAndGlyphs" >Fly</text>
<text x="1738.0" y="376.2" font-size="30.5" stroke="#000" stroke-width="0.37" stroke-linejoin="round" textLength="203.8" lengthAdjust="spacingAndGlyphs" >Air-supported</text>
<text x="1738.0" y="412.5" font-size="30.5" stroke="#000" stroke-width="0.37" stroke-linejoin="round" textLength="57.7" lengthAdjust="spacingAndGlyphs" >Ball</text>
<text x="1738.0" y="467.2" font-size="30.5" stroke="#000" stroke-width="0.37" stroke-linejoin="round" textLength="162.0" lengthAdjust="spacingAndGlyphs" >Ball Holder</text>
<text x="1821.6" y="517.9" font-size="30.5" stroke="#000" stroke-width="0.37" stroke-linejoin="round" textLength="94.4" lengthAdjust="spacingAndGlyphs" >Peltier</text>
<clipPath id="clc1"><rect x="0" y="0" width="404.4" height="235.4"/></clipPath>
<g transform="translate(23.8 610.1)" clip-path="url(#clc1)">
<g filter="url(#cfBand)">
<rect x="-20" y="-20" width="444.4" height="275.4" fill="#000"/>
<polyline points="0.4,114.6 17.3,131.5 38.5,154.7 51.1,165.3" fill="none" stroke="#595959" stroke-width="4.0" stroke-linecap="round" stroke-linejoin="round"/>
<polyline points="34.2,197.0 21.6,222.3 13.1,235.0" fill="none" stroke="#404040" stroke-width="4.0" stroke-linecap="round" stroke-linejoin="round"/>
<polyline points="51.1,190.6 46.9,211.7 44.8,230.8" fill="none" stroke="#4c4c4c" stroke-width="5.0" stroke-linecap="round" stroke-linejoin="round"/>
<polyline points="355.4,190.6 368.1,213.9 376.5,235.0" fill="none" stroke="#404040" stroke-width="5.0" stroke-linecap="round" stroke-linejoin="round"/>
<polyline points="368.1,152.6 387.1,127.2 404.0,104.0" fill="none" stroke="#404040" stroke-width="4.0" stroke-linecap="round" stroke-linejoin="round"/>
<polyline points="342.7,171.6 363.8,180.1 387.1,201.2 397.6,235.0" fill="none" stroke="#333333" stroke-width="4.0" stroke-linecap="round" stroke-linejoin="round"/>
<polyline points="224.4,0.5 224.4,8.9" fill="none" stroke="#404040" stroke-width="8.0" stroke-linecap="round" stroke-linejoin="round"/>
<polyline points="0.4,95.5 27.9,93.4 65.9,108.2" fill="none" stroke="#2e2e2e" stroke-width="3.0" stroke-linecap="round" stroke-linejoin="round"/>
<polyline points="186.4,59.6 204.3,74.4 224.4,59.6" fill="none" stroke="#0f0f0f" stroke-width="20.0" stroke-linecap="round" stroke-linejoin="round"/>
<polyline points="59.6,137.8 186.4,85.0" fill="none" stroke="#0d0d0d" stroke-width="40.0" stroke-linecap="round" stroke-linejoin="round"/>
<polyline points="220.2,85.0 344.8,158.9" fill="none" stroke="#0d0d0d" stroke-width="40.0" stroke-linecap="round" stroke-linejoin="round"/>
<polyline points="49.0,188.5 59.6,171.6 80.7,156.8 106.1,143.1 133.5,131.5 161.0,113.5 182.1,93.4 198.0,77.6" fill="none" stroke="#4f4f4f" stroke-width="15.0" stroke-linecap="round" stroke-linejoin="round"/>
<polyline points="84.9,152.6 114.5,137.8 144.1,125.1 169.5,108.2 190.6,87.1" fill="none" stroke="#757575" stroke-width="8.0" stroke-linecap="round" stroke-linejoin="round"/>
<polyline points="214.9,76.5 228.6,95.5 249.7,113.5 277.2,128.3 302.6,142.0 325.8,154.7 342.7,171.6 355.4,190.6" fill="none" stroke="#4f4f4f" stroke-width="14.0" stroke-linecap="round" stroke-linejoin="round"/>
<polyline points="220.2,85.0 239.2,104.0 266.6,120.9 292.0,135.7" fill="none" stroke="#757575" stroke-width="8.0" stroke-linecap="round" stroke-linejoin="round"/>
<polyline points="40.6,156.8 59.6,158.9 76.5,161.0" fill="none" stroke="#737373" stroke-width="4.0" stroke-linecap="round" stroke-linejoin="round"/>
<polyline points="44.8,165.3 65.9,165.3 84.9,158.9" fill="none" stroke="#666666" stroke-width="4.0" stroke-linecap="round" stroke-linejoin="round"/>
<polyline points="49.0,188.5 65.9,180.1 84.9,169.5 106.1,158.9" fill="none" stroke="#666666" stroke-width="5.0" stroke-linecap="round" stroke-linejoin="round"/>
<polyline points="313.1,156.8 334.3,152.6 368.1,152.6" fill="none" stroke="#808080" stroke-width="4.0" stroke-linecap="round" stroke-linejoin="round"/>
<polyline points="325.8,163.2 342.7,180.1 359.6,201.2" fill="none" stroke="#737373" stroke-width="4.0" stroke-linecap="round" stroke-linejoin="round"/>
<polyline points="131.4,88.1 139.9,91.3 139.9,97.7" fill="none" stroke="#8c8c8c" stroke-width="3.0" stroke-linecap="round" stroke-linejoin="round"/>
</g>
<g filter="url(#cfBlob)">
<ellipse cx="56.8" cy="86.7" rx="5.0" ry="5.6" transform="rotate(-20 56.8 86.7)" fill="#fff" fill-opacity="1.00"/>
<ellipse cx="113.9" cy="86.5" rx="3.6" ry="5.6" transform="rotate(-25 113.9 86.5)" fill="#fff" fill-opacity="1.00"/>
<ellipse cx="109.2" cy="94.9" rx="3.6" ry="4.6" transform="rotate(0 109.2 94.9)" fill="#fff" fill-opacity="0.66"/>
<ellipse cx="95.9" cy="97.7" rx="3.5" ry="4.0" transform="rotate(30 95.9 97.7)" fill="#fff" fill-opacity="0.45"/>
<ellipse cx="52.2" cy="132.7" rx="4.6" ry="4.6" transform="rotate(0 52.2 132.7)" fill="#fff" fill-opacity="1.00"/>
<ellipse cx="64.2" cy="128.7" rx="5.4" ry="5.6" transform="rotate(0 64.2 128.7)" fill="#fff" fill-opacity="1.00"/>
<ellipse cx="72.3" cy="129.8" rx="4.0" ry="4.0" transform="rotate(0 72.3 129.8)" fill="#fff" fill-opacity="0.60"/>
<ellipse cx="95.5" cy="131.5" rx="8.2" ry="4.6" transform="rotate(0 95.5 131.5)" fill="#fff" fill-opacity="1.00"/>
<ellipse cx="113.5" cy="127.7" rx="8.0" ry="6.0" transform="rotate(-25 113.5 127.7)" fill="#fff" fill-opacity="1.00"/>
<ellipse cx="129.3" cy="120.1" rx="5.6" ry="6.4" transform="rotate(0 129.3 120.1)" fill="#fff" fill-opacity="1.00"/>
<ellipse cx="80.7" cy="161.5" rx="3.6" ry="7.6" transform="rotate(0 80.7 161.5)" fill="#fff" fill-opacity="1.00"/>
<ellipse cx="295.8" cy="45.3" rx="4.4" ry="4.8" transform="rotate(0 295.8 45.3)" fill="#fff" fill-opacity="1.00"/>
<ellipse cx="286.3" cy="91.3" rx="3.8" ry="5.8" transform="rotate(0 286.3 91.3)" fill="#fff" fill-opacity="1.00"/>
<ellipse cx="287.8" cy="111.6" rx="4.2" ry="5.0" transform="rotate(0 287.8 111.6)" fill="#fff" fill-opacity="1.00"/>
<ellipse cx="288.2" cy="129.8" rx="8.0" ry="10.6" transform="rotate(-15 288.2 129.8)" fill="#fff" fill-opacity="1.00"/>
<ellipse cx="309.7" cy="117.9" rx="3.4" ry="5.0" transform="rotate(0 309.7 117.9)" fill="#fff" fill-opacity="0.95"/>
<ellipse cx="315.7" cy="135.7" rx="3.0" ry="6.4" transform="rotate(-10 315.7 135.7)" fill="#fff" fill-opacity="0.90"/>
<ellipse cx="323.7" cy="139.9" rx="6.4" ry="4.8" transform="rotate(0 323.7 139.9)" fill="#fff" fill-opacity="1.00"/>
<ellipse cx="314.8" cy="167.0" rx="4.2" ry="4.4" transform="rotate(0 314.8 167.0)" fill="#fff" fill-opacity="1.00"/>
<ellipse cx="303.6" cy="110.8" rx="2.6" ry="4.2" transform="rotate(0 303.6 110.8)" fill="#fff" fill-opacity="0.52"/>
<ellipse cx="327.9" cy="128.3" rx="2.8" ry="4.6" transform="rotate(15 327.9 128.3)" fill="#fff" fill-opacity="0.52"/>
<ellipse cx="299.4" cy="137.8" rx="3.0" ry="3.0" transform="rotate(0 299.4 137.8)" fill="#fff" fill-opacity="0.75"/>
<ellipse cx="6.3" cy="2.2" rx="9.0" ry="4.6" transform="rotate(-10 6.3 2.2)" fill="#fff" fill-opacity="0.44"/>
</g>
</g>
<clipPath id="clc2"><rect x="0" y="0" width="404.4" height="234.6"/></clipPath>
<g transform="translate(488.1 610.0)" clip-path="url(#clc2)">
<g filter="url(#cfBand)">
<rect x="-20" y="-20" width="444.4" height="274.6" fill="#000"/>
<polyline points="0.4,114.6 17.3,131.5 38.5,154.7 51.1,165.3" fill="none" stroke="#595959" stroke-width="4.0" stroke-linecap="round" stroke-linejoin="round"/>
<polyline points="34.2,197.0 21.6,222.3 13.1,235.0" fill="none" stroke="#404040" stroke-width="4.0" stroke-linecap="round" stroke-linejoin="round"/>
<polyline points="51.1,190.6 46.9,211.7 44.8,230.8" fill="none" stroke="#4c4c4c" stroke-width="5.0" stroke-linecap="round" stroke-linejoin="round"/>
<polyline points="355.4,190.6 368.1,213.9 376.5,235.0" fill="none" stroke="#404040" stroke-width="5.0" stroke-linecap="round" stroke-linejoin="round"/>
<polyline points="368.1,152.6 387.1,127.2 404.0,104.0" fill="none" stroke="#404040" stroke-width="4.0" stroke-linecap="round" stroke-linejoin="round"/>
<polyline points="342.7,171.6 363.8,180.1 387.1,201.2 397.6,235.0" fill="none" stroke="#333333" stroke-width="4.0" stroke-linecap="round" stroke-linejoin="round"/>
<polyline points="224.4,0.5 224.4,8.9" fill="none" stroke="#404040" stroke-width="8.0" stroke-linecap="round" stroke-linejoin="round"/>
<polyline points="0.4,95.5 27.9,93.4 65.9,108.2" fill="none" stroke="#2e2e2e" stroke-width="3.0" stroke-linecap="round" stroke-linejoin="round"/>
<polyline points="186.4,59.6 204.3,74.4 224.4,59.6" fill="none" stroke="#0f0f0f" stroke-width="20.0" stroke-linecap="round" stroke-linejoin="round"/>
<polyline points="59.6,137.8 186.4,85.0" fill="none" stroke="#0d0d0d" stroke-width="40.0" stroke-linecap="round" stroke-linejoin="round"/>
<polyline points="220.2,85.0 344.8,158.9" fill="none" stroke="#0d0d0d" stroke-width="40.0" stroke-linecap="round" stroke-linejoin="round"/>
<polyline points="49.0,188.5 59.6,171.6 80.7,156.8 106.1,143.1 133.5,131.5 161.0,113.5 182.1,93.4 198.0,77.6" fill="none" stroke="#4f4f4f" stroke-width="15.0" stroke-linecap="round" stroke-linejoin="round"/>
<polyline points="84.9,152.6 114.5,137.8 144.1,125.1 169.5,108.2 190.6,87.1" fill="none" stroke="#757575" stroke-width="8.0" stroke-linecap="round" stroke-linejoin="round"/>
<polyline points="214.9,76.5 228.6,95.5 249.7,113.5 277.2,128.3 302.6,142.0 325.8,154.7 342.7,171.6 355.4,190.6" fill="none" stroke="#4f4f4f" stroke-width="14.0" stroke-linecap="round" stroke-linejoin="round"/>
<polyline points="220.2,85.0 239.2,104.0 266.6,120.9 292.0,135.7" fill="none" stroke="#757575" stroke-width="8.0" stroke-linecap="round" stroke-linejoin="round"/>
<polyline points="40.6,156.8 59.6,158.9 76.5,161.0" fill="none" stroke="#737373" stroke-width="4.0" stroke-linecap="round" stroke-linejoin="round"/>
<polyline points="44.8,165.3 65.9,165.3 84.9,158.9" fill="none" stroke="#666666" stroke-width="4.0" stroke-linecap="round" stroke-linejoin="round"/>
<polyline points="49.0,188.5 65.9,180.1 84.9,169.5 106.1,158.9" fill="none" stroke="#666666" stroke-width="5.0" stroke-linecap="round" stroke-linejoin="round"/>
<polyline points="313.1,156.8 334.3,152.6 368.1,152.6" fill="none" stroke="#808080" stroke-width="4.0" stroke-linecap="round" stroke-linejoin="round"/>
<polyline points="325.8,163.2 342.7,180.1 359.6,201.2" fill="none" stroke="#737373" stroke-width="4.0" stroke-linecap="round" stroke-linejoin="round"/>
<polyline points="131.4,88.1 139.9,91.3 139.9,97.7" fill="none" stroke="#8c8c8c" stroke-width="3.0" stroke-linecap="round" stroke-linejoin="round"/>
</g>
<g filter="url(#cfBlob)">
<ellipse cx="56.8" cy="86.7" rx="5.0" ry="5.6" transform="rotate(-20 56.8 86.7)" fill="#fff" fill-opacity="0.42"/>
<ellipse cx="113.9" cy="86.5" rx="3.6" ry="5.6" transform="rotate(-25 113.9 86.5)" fill="#fff" fill-opacity="0.45"/>
<ellipse cx="109.2" cy="94.9" rx="3.6" ry="4.6" transform="rotate(0 109.2 94.9)" fill="#fff" fill-opacity="0.66"/>
<ellipse cx="95.9" cy="97.7" rx="3.5" ry="4.0" transform="rotate(30 95.9 97.7)" fill="#fff" fill-opacity="0.45"/>
<ellipse cx="52.2" cy="132.7" rx="4.6" ry="4.6" transform="rotate(0 52.2 132.7)" fill="#fff" fill-opacity="1.00"/>
<ellipse cx="64.2" cy="128.7" rx="5.4" ry="5.6" transform="rotate(0 64.2 128.7)" fill="#fff" fill-opacity="1.00"/>
<ellipse cx="72.3" cy="129.8" rx="4.0" ry="4.0" transform="rotate(0 72.3 129.8)" fill="#fff" fill-opacity="0.60"/>
<ellipse cx="95.5" cy="131.5" rx="8.2" ry="4.6" transform="rotate(0 95.5 131.5)" fill="#fff" fill-opacity="1.00"/>
<ellipse cx="113.5" cy="127.7" rx="8.0" ry="6.0" transform="rotate(-25 113.5 127.7)" fill="#fff" fill-opacity="1.00"/>
<ellipse cx="129.3" cy="120.1" rx="5.6" ry="6.4" transform="rotate(0 129.3 120.1)" fill="#fff" fill-opacity="1.00"/>
<ellipse cx="80.7" cy="161.5" rx="3.6" ry="7.6" transform="rotate(0 80.7 161.5)" fill="#fff" fill-opacity="1.00"/>
<ellipse cx="295.8" cy="45.3" rx="4.4" ry="4.8" transform="rotate(0 295.8 45.3)" fill="#fff" fill-opacity="0.42"/>
<ellipse cx="286.3" cy="91.3" rx="3.8" ry="5.8" transform="rotate(0 286.3 91.3)" fill="#fff" fill-opacity="0.45"/>
<ellipse cx="287.8" cy="111.6" rx="4.2" ry="5.0" transform="rotate(0 287.8 111.6)" fill="#fff" fill-opacity="1.00"/>
<ellipse cx="288.2" cy="129.8" rx="8.0" ry="10.6" transform="rotate(-15 288.2 129.8)" fill="#fff" fill-opacity="1.00"/>
<ellipse cx="309.7" cy="117.9" rx="3.4" ry="5.0" transform="rotate(0 309.7 117.9)" fill="#fff" fill-opacity="0.95"/>
<ellipse cx="315.7" cy="135.7" rx="3.0" ry="6.4" transform="rotate(-10 315.7 135.7)" fill="#fff" fill-opacity="0.90"/>
<ellipse cx="323.7" cy="139.9" rx="6.4" ry="4.8" transform="rotate(0 323.7 139.9)" fill="#fff" fill-opacity="1.00"/>
<ellipse cx="314.8" cy="167.0" rx="4.2" ry="4.4" transform="rotate(0 314.8 167.0)" fill="#fff" fill-opacity="1.00"/>
<ellipse cx="303.6" cy="110.8" rx="2.6" ry="4.2" transform="rotate(0 303.6 110.8)" fill="#fff" fill-opacity="0.52"/>
<ellipse cx="327.9" cy="128.3" rx="2.8" ry="4.6" transform="rotate(15 327.9 128.3)" fill="#fff" fill-opacity="0.52"/>
<ellipse cx="299.4" cy="137.8" rx="3.0" ry="3.0" transform="rotate(0 299.4 137.8)" fill="#fff" fill-opacity="0.75"/>
<ellipse cx="6.3" cy="2.2" rx="9.0" ry="4.6" transform="rotate(-10 6.3 2.2)" fill="#fff" fill-opacity="0.44"/>
</g>
</g>
<polygon points="60.1,684.5 70.3,678.6 73.2,694.0" fill="#fff"/>
<polygon points="524.4,684.4 534.6,678.5 537.5,693.9" fill="#fff"/>
<polygon points="119.3,679.2 129.9,672.9 133.0,688.7" fill="#fff"/>
<polygon points="583.6,679.1 594.2,672.8 597.3,688.6" fill="#fff"/>
<polygon points="328.9,637.6 338.6,644.4 324.2,654.5" fill="#fff"/>
<polygon points="793.2,637.5 802.9,644.3 788.5,654.4" fill="#fff"/>
<polygon points="321.7,682.8 331.2,689.8 317.9,699.3" fill="#fff"/>
<polygon points="786.0,682.7 795.5,689.7 782.2,699.2" fill="#fff"/>
<text x="41.0" y="667.2" font-size="44.5" fill="#fff" stroke="#fff" stroke-width="0.53" stroke-linejoin="round" >c</text>
<text x="33.1" y="834.5" font-size="25" fill="#fff" stroke="#fff" stroke-width="0.30" stroke-linejoin="round" textLength="180.0" lengthAdjust="spacingAndGlyphs" >Before Cooling</text>
<text x="511.4" y="835.2" font-size="25" fill="#fff" stroke="#fff" stroke-width="0.30" stroke-linejoin="round" textLength="93.5" lengthAdjust="spacingAndGlyphs" >Cooling</text>
<rect x="357" y="835" width="61.3" height="6.4" fill="#fff"/>
<rect x="902.6" y="615.6" width="9.2" height="96.4" fill="url(#cfbar)"/>
<text x="917.6" y="636.0" font-size="18.6" stroke="#000" stroke-width="0.22" stroke-linejoin="round" textLength="40.3" lengthAdjust="spacingAndGlyphs" >2651</text>
<text x="918.9" y="711.4" font-size="18.6" stroke="#000" stroke-width="0.22" stroke-linejoin="round" textLength="30.9" lengthAdjust="spacingAndGlyphs" >137</text>
<clipPath id="clf1"><rect x="0" y="0" width="405.6" height="237.5"/></clipPath>
<g transform="translate(1041.9 610.2)" clip-path="url(#clf1)">
<g filter="url(#cfBandF)">
<rect x="-20" y="-20" width="445.6" height="277.5" fill="#000"/>
<polyline points="53.0,22.2 53.0,98.0 59.5,149.9" fill="none" stroke="#121212" stroke-width="10.0" stroke-linecap="round" stroke-linejoin="round"/>
<polyline points="83.3,162.8 89.8,206.1 94.1,236.4" fill="none" stroke="#121212" stroke-width="10.0" stroke-linecap="round" stroke-linejoin="round"/>
<polyline points="50.8,206.1 42.2,236.4" fill="none" stroke="#242424" stroke-width="10.0" stroke-linecap="round" stroke-linejoin="round"/>
<polyline points="334.2,117.4 366.6,128.2 403.4,139.1" fill="none" stroke="#1a1a1a" stroke-width="14.0" stroke-linecap="round" stroke-linejoin="round"/>
<polyline points="366.6,128.2 390.4,154.2 403.4,167.2" fill="none" stroke="#121212" stroke-width="16.0" stroke-linecap="round" stroke-linejoin="round"/>
<polyline points="42.2,123.9 74.6,131.5" fill="none" stroke="#333333" stroke-width="10.0" stroke-linecap="round" stroke-linejoin="round"/>
<polyline points="31.4,141.2 48.7,162.8" fill="none" stroke="#121212" stroke-width="14.0" stroke-linecap="round" stroke-linejoin="round"/>
<polyline points="122.2,235.3 126.5,236.4" fill="none" stroke="#4c4c4c" stroke-width="5.0" stroke-linecap="round" stroke-linejoin="round"/>
<polyline points="258.5,232.1 267.1,234.2" fill="none" stroke="#474747" stroke-width="6.0" stroke-linecap="round" stroke-linejoin="round"/>
<polyline points="312.6,123.9 314.7,128.2" fill="none" stroke="#666666" stroke-width="5.0" stroke-linecap="round" stroke-linejoin="round"/>
<polyline points="339.6,142.3 340.7,143.8" fill="none" stroke="#737373" stroke-width="4.0" stroke-linecap="round" stroke-linejoin="round"/>
<polyline points="117.9,145.5 118.3,146.4" fill="none" stroke="#737373" stroke-width="3.0" stroke-linecap="round" stroke-linejoin="round"/>
<polyline points="139.5,89.3 139.9,89.7" fill="none" stroke="#4c4c4c" stroke-width="3.0" stroke-linecap="round" stroke-linejoin="round"/>
<polyline points="74.6,131.5 109.2,129.3 139.5,122.2 165.5,107.7 189.3,90.4 208.7,73.1 220.6,57.9" fill="none" stroke="#4c4c4c" stroke-width="9.0" stroke-linecap="round" stroke-linejoin="round"/>
<polyline points="230.8,54.7 241.2,72.0 256.3,85.0 275.8,95.8" fill="none" stroke="#4c4c4c" stroke-width="7.0" stroke-linecap="round" stroke-linejoin="round"/>
<polyline points="275.8,95.8 301.7,106.6 334.2,117.4" fill="none" stroke="#292929" stroke-width="5.0" stroke-linecap="round" stroke-linejoin="round"/>
<polyline points="60.6,154.2 56.2,173.7 54.1,197.5 50.8,206.1" fill="none" stroke="#4c4c4c" stroke-width="9.0" stroke-linecap="round" stroke-linejoin="round"/>
<polyline points="73.5,93.6 83.3,98.0" fill="none" stroke="#808080" stroke-width="4.0" stroke-linecap="round" stroke-linejoin="round"/>
<polyline points="81.1,110.9 83.3,128.2" fill="none" stroke="#737373" stroke-width="5.0" stroke-linecap="round" stroke-linejoin="round"/>
<polyline points="81.1,131.5 100.6,132.6" fill="none" stroke="#808080" stroke-width="6.0" stroke-linecap="round" stroke-linejoin="round"/>
<polyline points="108.2,130.4 109.2,141.2" fill="none" stroke="#737373" stroke-width="6.0" stroke-linecap="round" stroke-linejoin="round"/>
<polyline points="381.8,136.9 388.3,145.5" fill="none" stroke="#4c4c4c" stroke-width="6.0" stroke-linecap="round" stroke-linejoin="round"/>
<polyline points="8.6,39.6 10.8,43.9" fill="none" stroke="#808080" stroke-width="4.0" stroke-linecap="round" stroke-linejoin="round"/>
</g>
<g filter="url(#cfBlobF)">
<ellipse cx="111.4" cy="109.4" rx="9.6" ry="4.6" transform="rotate(-22 111.4 109.4)" fill="#fff" fill-opacity="1.00"/>
<ellipse cx="62.7" cy="118.5" rx="4.2" ry="5.0" transform="rotate(0 62.7 118.5)" fill="#fff" fill-opacity="1.00"/>
<ellipse cx="43.3" cy="124.3" rx="6.4" ry="5.2" transform="rotate(30 43.3 124.3)" fill="#fff" fill-opacity="0.84"/>
<ellipse cx="57.3" cy="135.2" rx="4.2" ry="6.2" transform="rotate(20 57.3 135.2)" fill="#fff" fill-opacity="0.66"/>
<ellipse cx="90.8" cy="93.2" rx="3.4" ry="5.4" transform="rotate(15 90.8 93.2)" fill="#fff" fill-opacity="0.66"/>
<ellipse cx="79.0" cy="96.9" rx="5.0" ry="2.6" transform="rotate(20 79.0 96.9)" fill="#fff" fill-opacity="0.50"/>
<ellipse cx="98.9" cy="89.3" rx="2.6" ry="2.6" transform="rotate(0 98.9 89.3)" fill="#fff" fill-opacity="0.50"/>
<ellipse cx="88.7" cy="112.0" rx="5.4" ry="3.4" transform="rotate(10 88.7 112.0)" fill="#fff" fill-opacity="0.78"/>
<ellipse cx="306.5" cy="90.0" rx="4.4" ry="5.6" transform="rotate(15 306.5 90.0)" fill="#fff" fill-opacity="1.00"/>
<ellipse cx="318.4" cy="88.7" rx="4.4" ry="4.4" transform="rotate(0 318.4 88.7)" fill="#fff" fill-opacity="1.00"/>
<ellipse cx="325.1" cy="104.4" rx="4.6" ry="5.0" transform="rotate(0 325.1 104.4)" fill="#fff" fill-opacity="1.00"/>
<ellipse cx="316.9" cy="110.5" rx="4.0" ry="6.2" transform="rotate(15 316.9 110.5)" fill="#fff" fill-opacity="1.00"/>
<ellipse cx="302.4" cy="118.5" rx="5.4" ry="6.0" transform="rotate(-35 302.4 118.5)" fill="#fff" fill-opacity="1.00"/>
<ellipse cx="322.3" cy="71.6" rx="4.4" ry="5.0" transform="rotate(20 322.3 71.6)" fill="#fff" fill-opacity="0.74"/>
<ellipse cx="311.5" cy="41.7" rx="3.2" ry="4.4" transform="rotate(15 311.5 41.7)" fill="#fff" fill-opacity="0.42"/>
<ellipse cx="349.3" cy="39.1" rx="4.6" ry="3.8" transform="rotate(-15 349.3 39.1)" fill="#fff" fill-opacity="0.50"/>
<ellipse cx="109.2" cy="157.4" rx="4.4" ry="2.4" transform="rotate(-10 109.2 157.4)" fill="#fff" fill-opacity="0.50"/>
<ellipse cx="141.7" cy="194.2" rx="3.0" ry="3.0" transform="rotate(0 141.7 194.2)" fill="#fff" fill-opacity="0.48"/>
<ellipse cx="193.6" cy="237.0" rx="8.0" ry="3.6" transform="rotate(0 193.6 237.0)" fill="#fff" fill-opacity="0.80"/>
<ellipse cx="351.5" cy="237.5" rx="6.0" ry="3.0" transform="rotate(0 351.5 237.5)" fill="#fff" fill-opacity="0.66"/>
<ellipse cx="109.2" cy="136.9" rx="3.6" ry="5.2" transform="rotate(0 109.2 136.9)" fill="#fff" fill-opacity="0.48"/>
<ellipse cx="187.1" cy="90.4" rx="3.0" ry="3.6" transform="rotate(0 187.1 90.4)" fill="#fff" fill-opacity="0.60"/>
<ellipse cx="212.0" cy="64.4" rx="3.0" ry="3.6" transform="rotate(30 212.0 64.4)" fill="#fff" fill-opacity="0.50"/>
<ellipse cx="139.5" cy="128.2" rx="4.6" ry="2.8" transform="rotate(-15 139.5 128.2)" fill="#fff" fill-opacity="0.48"/>
<ellipse cx="337.4" cy="119.6" rx="4.0" ry="3.0" transform="rotate(0 337.4 119.6)" fill="#fff" fill-opacity="0.44"/>
<ellipse cx="387.2" cy="141.2" rx="3.0" ry="5.0" transform="rotate(0 387.2 141.2)" fill="#fff" fill-opacity="0.46"/>
</g>
</g>
<clipPath id="clf2"><rect x="0" y="0" width="405.8" height="236.7"/></clipPath>
<g transform="translate(1505.0 610.0)" clip-path="url(#clf2)">
<g filter="url(#cfBandF)">
<rect x="-20" y="-20" width="445.8" height="276.7" fill="#000"/>
<polyline points="53.0,22.2 53.0,98.0 59.5,149.9" fill="none" stroke="#121212" stroke-width="10.0" stroke-linecap="round" stroke-linejoin="round"/>
<polyline points="83.3,162.8 89.8,206.1 94.1,236.4" fill="none" stroke="#121212" stroke-width="10.0" stroke-linecap="round" stroke-linejoin="round"/>
<polyline points="50.8,206.1 42.2,236.4" fill="none" stroke="#242424" stroke-width="10.0" stroke-linecap="round" stroke-linejoin="round"/>
<polyline points="334.2,117.4 366.6,128.2 403.4,139.1" fill="none" stroke="#1a1a1a" stroke-width="14.0" stroke-linecap="round" stroke-linejoin="round"/>
<polyline points="366.6,128.2 390.4,154.2 403.4,167.2" fill="none" stroke="#121212" stroke-width="16.0" stroke-linecap="round" stroke-linejoin="round"/>
<polyline points="42.2,123.9 74.6,131.5" fill="none" stroke="#333333" stroke-width="10.0" stroke-linecap="round" stroke-linejoin="round"/>
<polyline points="31.4,141.2 48.7,162.8" fill="none" stroke="#121212" stroke-width="14.0" stroke-linecap="round" stroke-linejoin="round"/>
<polyline points="122.2,235.3 126.5,236.4" fill="none" stroke="#4c4c4c" stroke-width="5.0" stroke-linecap="round" stroke-linejoin="round"/>
<polyline points="258.5,232.1 267.1,234.2" fill="none" stroke="#474747" stroke-width="6.0" stroke-linecap="round" stroke-linejoin="round"/>
<polyline points="312.6,123.9 314.7,128.2" fill="none" stroke="#666666" stroke-width="5.0" stroke-linecap="round" stroke-linejoin="round"/>
<polyline points="339.6,142.3 340.7,143.8" fill="none" stroke="#737373" stroke-width="4.0" stroke-linecap="round" stroke-linejoin="round"/>
<polyline points="117.9,145.5 118.3,146.4" fill="none" stroke="#737373" stroke-width="3.0" stroke-linecap="round" stroke-linejoin="round"/>
<polyline points="139.5,89.3 139.9,89.7" fill="none" stroke="#4c4c4c" stroke-width="3.0" stroke-linecap="round" stroke-linejoin="round"/>
<polyline points="74.6,131.5 109.2,129.3 139.5,122.2 165.5,107.7 189.3,90.4 208.7,73.1 220.6,57.9" fill="none" stroke="#4c4c4c" stroke-width="9.0" stroke-linecap="round" stroke-linejoin="round"/>
<polyline points="230.8,54.7 241.2,72.0 256.3,85.0 275.8,95.8" fill="none" stroke="#4c4c4c" stroke-width="7.0" stroke-linecap="round" stroke-linejoin="round"/>
<polyline points="275.8,95.8 301.7,106.6 334.2,117.4" fill="none" stroke="#292929" stroke-width="5.0" stroke-linecap="round" stroke-linejoin="round"/>
<polyline points="60.6,154.2 56.2,173.7 54.1,197.5 50.8,206.1" fill="none" stroke="#4c4c4c" stroke-width="9.0" stroke-linecap="round" stroke-linejoin="round"/>
<polyline points="73.5,93.6 83.3,98.0" fill="none" stroke="#808080" stroke-width="4.0" stroke-linecap="round" stroke-linejoin="round"/>
<polyline points="81.1,110.9 83.3,128.2" fill="none" stroke="#737373" stroke-width="5.0" stroke-linecap="round" stroke-linejoin="round"/>
<polyline points="81.1,131.5 100.6,132.6" fill="none" stroke="#808080" stroke-width="6.0" stroke-linecap="round" stroke-linejoin="round"/>
<polyline points="108.2,130.4 109.2,141.2" fill="none" stroke="#737373" stroke-width="6.0" stroke-linecap="round" stroke-linejoin="round"/>
<polyline points="381.8,136.9 388.3,145.5" fill="none" stroke="#4c4c4c" stroke-width="6.0" stroke-linecap="round" stroke-linejoin="round"/>
<polyline points="8.6,39.6 10.8,43.9" fill="none" stroke="#808080" stroke-width="4.0" stroke-linecap="round" stroke-linejoin="round"/>
</g>
<g filter="url(#cfBlobF)">
<ellipse cx="111.4" cy="109.4" rx="9.6" ry="4.6" transform="rotate(-22 111.4 109.4)" fill="#fff" fill-opacity="1.00"/>
<ellipse cx="62.7" cy="118.5" rx="4.2" ry="5.0" transform="rotate(0 62.7 118.5)" fill="#fff" fill-opacity="1.00"/>
<ellipse cx="43.3" cy="124.3" rx="6.4" ry="5.2" transform="rotate(30 43.3 124.3)" fill="#fff" fill-opacity="1.00"/>
<ellipse cx="57.3" cy="135.2" rx="4.2" ry="6.2" transform="rotate(20 57.3 135.2)" fill="#fff" fill-opacity="0.66"/>
<ellipse cx="90.8" cy="93.2" rx="3.4" ry="5.4" transform="rotate(15 90.8 93.2)" fill="#fff" fill-opacity="1.00"/>
<ellipse cx="79.0" cy="96.9" rx="5.0" ry="2.6" transform="rotate(20 79.0 96.9)" fill="#fff" fill-opacity="1.00"/>
<ellipse cx="98.9" cy="89.3" rx="2.6" ry="2.6" transform="rotate(0 98.9 89.3)" fill="#fff" fill-opacity="0.50"/>
<ellipse cx="88.7" cy="112.0" rx="5.4" ry="3.4" transform="rotate(10 88.7 112.0)" fill="#fff" fill-opacity="0.78"/>
<ellipse cx="306.5" cy="90.0" rx="4.4" ry="5.6" transform="rotate(15 306.5 90.0)" fill="#fff" fill-opacity="1.00"/>
<ellipse cx="318.4" cy="88.7" rx="4.4" ry="4.4" transform="rotate(0 318.4 88.7)" fill="#fff" fill-opacity="1.00"/>
<ellipse cx="325.1" cy="104.4" rx="4.6" ry="5.0" transform="rotate(0 325.1 104.4)" fill="#fff" fill-opacity="1.00"/>
<ellipse cx="316.9" cy="110.5" rx="4.0" ry="6.2" transform="rotate(15 316.9 110.5)" fill="#fff" fill-opacity="1.00"/>
<ellipse cx="302.4" cy="118.5" rx="5.4" ry="6.0" transform="rotate(-35 302.4 118.5)" fill="#fff" fill-opacity="1.00"/>
<ellipse cx="322.3" cy="71.6" rx="4.4" ry="5.0" transform="rotate(20 322.3 71.6)" fill="#fff" fill-opacity="0.74"/>
<ellipse cx="311.5" cy="41.7" rx="3.2" ry="4.4" transform="rotate(15 311.5 41.7)" fill="#fff" fill-opacity="1.00"/>
<ellipse cx="349.3" cy="39.1" rx="4.6" ry="3.8" transform="rotate(-15 349.3 39.1)" fill="#fff" fill-opacity="1.00"/>
<ellipse cx="109.2" cy="157.4" rx="4.4" ry="2.4" transform="rotate(-10 109.2 157.4)" fill="#fff" fill-opacity="0.50"/>
<ellipse cx="141.7" cy="194.2" rx="3.0" ry="3.0" transform="rotate(0 141.7 194.2)" fill="#fff" fill-opacity="0.48"/>
<ellipse cx="193.6" cy="237.0" rx="8.0" ry="3.6" transform="rotate(0 193.6 237.0)" fill="#fff" fill-opacity="0.80"/>
<ellipse cx="351.5" cy="237.5" rx="6.0" ry="3.0" transform="rotate(0 351.5 237.5)" fill="#fff" fill-opacity="0.66"/>
<ellipse cx="109.2" cy="136.9" rx="3.6" ry="5.2" transform="rotate(0 109.2 136.9)" fill="#fff" fill-opacity="0.84"/>
<ellipse cx="187.1" cy="90.4" rx="3.0" ry="3.6" transform="rotate(0 187.1 90.4)" fill="#fff" fill-opacity="0.60"/>
<ellipse cx="212.0" cy="64.4" rx="3.0" ry="3.6" transform="rotate(30 212.0 64.4)" fill="#fff" fill-opacity="0.50"/>
<ellipse cx="139.5" cy="128.2" rx="4.6" ry="2.8" transform="rotate(-15 139.5 128.2)" fill="#fff" fill-opacity="0.48"/>
<ellipse cx="337.4" cy="119.6" rx="4.0" ry="3.0" transform="rotate(0 337.4 119.6)" fill="#fff" fill-opacity="0.44"/>
<ellipse cx="387.2" cy="141.2" rx="3.0" ry="5.0" transform="rotate(0 387.2 141.2)" fill="#fff" fill-opacity="0.46"/>
</g>
</g>
<polygon points="1107.4,690.4 1118.3,684.4 1120.9,701.2" fill="#fff"/>
<polygon points="1135.6,682.2 1147.5,687.0 1139.2,699.1" fill="#fff"/>
<polygon points="1335.4,637.2 1345.8,630.7 1349.1,647.2" fill="#fff"/>
<polygon points="1397.7,627.0 1408.1,633.5 1395.1,644.3" fill="#fff"/>
<polygon points="1572.2,691.4 1582.7,685.2 1585.9,701.5" fill="#fff"/>
<polygon points="1600.7,682.7 1612.7,687.7 1604.0,699.7" fill="#fff"/>
<polygon points="1800.1,637.6 1810.6,631.3 1814.4,647.6" fill="#fff"/>
<polygon points="1862.0,627.6 1873.3,634.6 1860.2,645.1" fill="#fff"/>
<text x="1061.4" y="666.0" font-size="44.5" fill="#fff" stroke="#fff" stroke-width="0.53" stroke-linejoin="round" >f</text>
<text x="1059.2" y="834.7" font-size="25" fill="#fff" stroke="#fff" stroke-width="0.30" stroke-linejoin="round" textLength="178.5" lengthAdjust="spacingAndGlyphs" >Before Heating</text>
<text x="1524.6" y="835.0" font-size="25" fill="#fff" stroke="#fff" stroke-width="0.30" stroke-linejoin="round" textLength="92.4" lengthAdjust="spacingAndGlyphs" >Heating</text>
<rect x="1375" y="835.1" width="62.1" height="6.5" fill="#fff"/>
<rect x="1922.6" y="615.5" width="9.5" height="96" fill="url(#cfbar)"/>
<text x="1936.6" y="635.8" font-size="18.6" stroke="#000" stroke-width="0.22" stroke-linejoin="round" textLength="42.4" lengthAdjust="spacingAndGlyphs" >3333</text>
<text x="1938.4" y="711.0" font-size="18.6" stroke="#000" stroke-width="0.22" stroke-linejoin="round" >0</text>
<g shape-rendering="crispEdges">
<rect x="80.40" y="981.80" width="11.03" height="14.08" fill="#4dffb2"/>
<rect x="91.13" y="981.80" width="5.66" height="14.08" fill="#b3ff4c"/>
<rect x="96.49" y="981.80" width="11.03" height="14.08" fill="#99ff66"/>
<rect x="107.21" y="981.80" width="5.66" height="14.08" fill="#00ffff"/>
<rect x="112.58" y="981.80" width="5.66" height="14.08" fill="#80ff80"/>
<rect x="117.94" y="981.80" width="5.66" height="14.08" fill="#42ffbd"/>
<rect x="123.30" y="981.80" width="5.66" height="14.08" fill="#1affe5"/>
<rect x="128.67" y="981.80" width="27.11" height="14.08" fill="#42ffbd"/>
<rect x="155.48" y="981.80" width="5.66" height="14.08" fill="#80ff80"/>
<rect x="160.84" y="981.80" width="11.03" height="14.08" fill="#33ffcc"/>
<rect x="171.57" y="981.80" width="5.66" height="14.08" fill="#0099ff"/>
<rect x="176.93" y="981.80" width="16.39" height="14.08" fill="#0033ff"/>
<rect x="193.02" y="981.80" width="16.39" height="14.08" fill="#000fff"/>
<rect x="209.11" y="981.80" width="11.03" height="14.08" fill="#0033ff"/>
<rect x="219.83" y="981.80" width="11.03" height="14.08" fill="#0066ff"/>
<rect x="230.56" y="981.80" width="16.39" height="14.08" fill="#0033ff"/>
<rect x="246.65" y="981.80" width="27.11" height="14.08" fill="#0042ff"/>
<rect x="273.46" y="981.80" width="11.03" height="14.08" fill="#0066ff"/>
<rect x="284.19" y="981.80" width="11.03" height="14.08" fill="#0042ff"/>
<rect x="294.91" y="981.80" width="5.66" height="14.08" fill="#004dff"/>
<rect x="300.28" y="981.80" width="16.39" height="14.08" fill="#0080ff"/>
<rect x="316.37" y="981.80" width="5.66" height="14.08" fill="#0099ff"/>
<rect x="321.73" y="981.80" width="11.03" height="14.08" fill="#0075ff"/>
<rect x="332.45" y="981.80" width="11.03" height="14.08" fill="#0033ff"/>
<rect x="343.18" y="981.80" width="5.66" height="14.08" fill="#0099ff"/>
<rect x="348.54" y="981.80" width="5.66" height="14.08" fill="#4dffb2"/>
<rect x="353.91" y="981.80" width="5.66" height="14.08" fill="#b3ff4c"/>
<rect x="359.27" y="981.80" width="11.03" height="14.08" fill="#ccff33"/>
<rect x="369.99" y="981.80" width="5.66" height="14.08" fill="#e5ff1a"/>
<rect x="375.36" y="981.80" width="5.66" height="14.08" fill="#ffff00"/>
<rect x="380.72" y="981.80" width="11.03" height="14.08" fill="#dbff24"/>
<rect x="391.45" y="981.80" width="21.75" height="14.08" fill="#bdff42"/>
<rect x="412.90" y="981.80" width="5.66" height="14.08" fill="#80ff80"/>
<rect x="418.26" y="981.80" width="5.66" height="14.08" fill="#ccff33"/>
<rect x="423.62" y="981.80" width="5.66" height="14.08" fill="#e5ff1a"/>
<rect x="428.99" y="981.80" width="11.03" height="14.08" fill="#57ffa8"/>
<rect x="439.71" y="981.80" width="5.66" height="14.08" fill="#33ffcc"/>
<rect x="445.07" y="981.80" width="5.66" height="14.08" fill="#00b2ff"/>
<rect x="450.44" y="981.80" width="5.66" height="14.08" fill="#00e5ff"/>
<rect x="80.40" y="995.58" width="5.66" height="14.08" fill="#4dffb2"/>
<rect x="85.76" y="995.58" width="21.75" height="14.08" fill="#8fff70"/>
<rect x="107.21" y="995.58" width="5.66" height="14.08" fill="#33ffcc"/>
<rect x="112.58" y="995.58" width="5.66" height="14.08" fill="#80ff80"/>
<rect x="117.94" y="995.58" width="53.93" height="14.08" fill="#66ff99"/>
<rect x="171.57" y="995.58" width="5.66" height="14.08" fill="#00ffff"/>
<rect x="176.93" y="995.58" width="11.03" height="14.08" fill="#00ccff"/>
<rect x="187.66" y="995.58" width="21.75" height="14.08" fill="#00b2ff"/>
<rect x="209.11" y="995.58" width="11.03" height="14.08" fill="#00f0ff"/>
<rect x="219.83" y="995.58" width="11.03" height="14.08" fill="#00d6ff"/>
<rect x="230.56" y="995.58" width="32.48" height="14.08" fill="#00e5ff"/>
<rect x="262.74" y="995.58" width="5.66" height="14.08" fill="#00ffff"/>
<rect x="268.10" y="995.58" width="11.03" height="14.08" fill="#42ffbd"/>
<rect x="278.83" y="995.58" width="21.75" height="14.08" fill="#00ffff"/>
<rect x="300.28" y="995.58" width="37.84" height="14.08" fill="#33ffcc"/>
<rect x="337.82" y="995.58" width="5.66" height="14.08" fill="#00ffff"/>
<rect x="343.18" y="995.58" width="5.66" height="14.08" fill="#42ffbd"/>
<rect x="348.54" y="995.58" width="5.66" height="14.08" fill="#b3ff4c"/>
<rect x="353.91" y="995.58" width="5.66" height="14.08" fill="#ffff00"/>
<rect x="359.27" y="995.58" width="5.66" height="14.08" fill="#ffe500"/>
<rect x="364.63" y="995.58" width="5.66" height="14.08" fill="#ffff00"/>
<rect x="369.99" y="995.58" width="27.11" height="14.08" fill="#ff9900"/>
<rect x="396.81" y="995.58" width="5.66" height="14.08" fill="#ffe500"/>
<rect x="402.17" y="995.58" width="5.66" height="14.08" fill="#ffff00"/>
<rect x="407.53" y="995.58" width="16.39" height="14.08" fill="#ffbd00"/>
<rect x="423.62" y="995.58" width="5.66" height="14.08" fill="#e5ff1a"/>
<rect x="428.99" y="995.58" width="27.11" height="14.08" fill="#a3ff5c"/>
<rect x="80.40" y="1009.36" width="5.66" height="14.08" fill="#80ff80"/>
<rect x="85.76" y="1009.36" width="11.03" height="14.08" fill="#bdff42"/>
<rect x="96.49" y="1009.36" width="5.66" height="14.08" fill="#00e5ff"/>
<rect x="101.85" y="1009.36" width="5.66" height="14.08" fill="#b3ff4c"/>
<rect x="107.21" y="1009.36" width="11.03" height="14.08" fill="#e5ff1a"/>
<rect x="117.94" y="1009.36" width="5.66" height="14.08" fill="#33ffcc"/>
<rect x="123.30" y="1009.36" width="16.39" height="14.08" fill="#80ff80"/>
<rect x="139.39" y="1009.36" width="21.75" height="14.08" fill="#66ff99"/>
<rect x="160.84" y="1009.36" width="5.66" height="14.08" fill="#ffff00"/>
<rect x="166.21" y="1009.36" width="5.66" height="14.08" fill="#99ff66"/>
<rect x="171.57" y="1009.36" width="5.66" height="14.08" fill="#0ffff0"/>
<rect x="176.93" y="1009.36" width="5.66" height="14.08" fill="#004dff"/>
<rect x="182.29" y="1009.36" width="11.03" height="14.08" fill="#0042ff"/>
<rect x="193.02" y="1009.36" width="16.39" height="14.08" fill="#0024ff"/>
<rect x="209.11" y="1009.36" width="27.11" height="14.08" fill="#0042ff"/>
<rect x="235.92" y="1009.36" width="16.39" height="14.08" fill="#0099ff"/>
<rect x="252.01" y="1009.36" width="32.48" height="14.08" fill="#00b2ff"/>
<rect x="284.19" y="1009.36" width="11.03" height="14.08" fill="#00f0ff"/>
<rect x="294.91" y="1009.36" width="27.11" height="14.08" fill="#0ffff0"/>
<rect x="321.73" y="1009.36" width="21.75" height="14.08" fill="#33ffcc"/>
<rect x="343.18" y="1009.36" width="5.66" height="14.08" fill="#80ff80"/>
<rect x="348.54" y="1009.36" width="5.66" height="14.08" fill="#ffff00"/>
<rect x="353.91" y="1009.36" width="5.66" height="14.08" fill="#ff9900"/>
<rect x="359.27" y="1009.36" width="11.03" height="14.08" fill="#fff000"/>
<rect x="369.99" y="1009.36" width="5.66" height="14.08" fill="#ff8000"/>
<rect x="375.36" y="1009.36" width="16.39" height="14.08" fill="#e5ff1a"/>
<rect x="391.45" y="1009.36" width="5.66" height="14.08" fill="#ffe500"/>
<rect x="396.81" y="1009.36" width="21.75" height="14.08" fill="#bdff42"/>
<rect x="418.26" y="1009.36" width="21.75" height="14.08" fill="#b3ff4c"/>
<rect x="439.71" y="1009.36" width="5.66" height="14.08" fill="#80ff80"/>
<rect x="445.07" y="1009.36" width="5.66" height="14.08" fill="#66ff99"/>
<rect x="450.44" y="1009.36" width="5.66" height="14.08" fill="#1affe5"/>
<rect x="80.40" y="1023.14" width="5.66" height="14.08" fill="#b3ff4c"/>
<rect x="85.76" y="1023.14" width="11.03" height="14.08" fill="#80ff80"/>
<rect x="96.49" y="1023.14" width="5.66" height="14.08" fill="#4dffb2"/>
<rect x="101.85" y="1023.14" width="5.66" height="14.08" fill="#99ff66"/>
<rect x="107.21" y="1023.14" width="64.65" height="14.08" fill="#4dffb2"/>
<rect x="171.57" y="1023.14" width="5.66" height="14.08" fill="#00ffff"/>
<rect x="176.93" y="1023.14" width="11.03" height="14.08" fill="#0066ff"/>
<rect x="187.66" y="1023.14" width="5.66" height="14.08" fill="#0099ff"/>
<rect x="193.02" y="1023.14" width="27.11" height="14.08" fill="#0066ff"/>
<rect x="219.83" y="1023.14" width="11.03" height="14.08" fill="#0080ff"/>
<rect x="230.56" y="1023.14" width="5.66" height="14.08" fill="#0099ff"/>
<rect x="235.92" y="1023.14" width="5.66" height="14.08" fill="#00b2ff"/>
<rect x="241.29" y="1023.14" width="11.03" height="14.08" fill="#0080ff"/>
<rect x="252.01" y="1023.14" width="16.39" height="14.08" fill="#00b2ff"/>
<rect x="268.10" y="1023.14" width="5.66" height="14.08" fill="#0080ff"/>
<rect x="273.46" y="1023.14" width="5.66" height="14.08" fill="#00e5ff"/>
<rect x="278.83" y="1023.14" width="5.66" height="14.08" fill="#00b2ff"/>
<rect x="284.19" y="1023.14" width="5.66" height="14.08" fill="#00ffff"/>
<rect x="289.55" y="1023.14" width="16.39" height="14.08" fill="#00ccff"/>
<rect x="305.64" y="1023.14" width="16.39" height="14.08" fill="#00bdff"/>
<rect x="321.73" y="1023.14" width="11.03" height="14.08" fill="#00ffff"/>
<rect x="332.45" y="1023.14" width="5.66" height="14.08" fill="#33ffcc"/>
<rect x="337.82" y="1023.14" width="5.66" height="14.08" fill="#00ffff"/>
<rect x="343.18" y="1023.14" width="5.66" height="14.08" fill="#4dffb2"/>
<rect x="348.54" y="1023.14" width="5.66" height="14.08" fill="#ccff33"/>
<rect x="353.91" y="1023.14" width="5.66" height="14.08" fill="#ffff00"/>
<rect x="359.27" y="1023.14" width="11.03" height="14.08" fill="#ffdb00"/>
<rect x="369.99" y="1023.14" width="5.66" height="14.08" fill="#ffff00"/>
<rect x="375.36" y="1023.14" width="5.66" height="14.08" fill="#ccff33"/>
<rect x="380.72" y="1023.14" width="27.11" height="14.08" fill="#99ff66"/>
<rect x="407.53" y="1023.14" width="5.66" height="14.08" fill="#b3ff4c"/>
<rect x="412.90" y="1023.14" width="37.84" height="14.08" fill="#75ff8a"/>
<rect x="450.44" y="1023.14" width="5.66" height="14.08" fill="#00e5ff"/>
<rect x="80.40" y="1036.91" width="64.65" height="14.08" fill="#75ff8a"/>
<rect x="144.75" y="1036.91" width="16.39" height="14.08" fill="#b3ff4c"/>
<rect x="160.84" y="1036.91" width="11.03" height="14.08" fill="#80ff80"/>
<rect x="171.57" y="1036.91" width="21.75" height="14.08" fill="#8aff75"/>
<rect x="193.02" y="1036.91" width="21.75" height="14.08" fill="#57ffa8"/>
<rect x="214.47" y="1036.91" width="5.66" height="14.08" fill="#1affe5"/>
<rect x="219.83" y="1036.91" width="27.11" height="14.08" fill="#42ffbd"/>
<rect x="246.65" y="1036.91" width="11.03" height="14.08" fill="#00ffff"/>
<rect x="257.37" y="1036.91" width="21.75" height="14.08" fill="#33ffcc"/>
<rect x="278.83" y="1036.91" width="11.03" height="14.08" fill="#24ffdb"/>
<rect x="289.55" y="1036.91" width="5.66" height="14.08" fill="#00ffff"/>
<rect x="294.91" y="1036.91" width="21.75" height="14.08" fill="#1affe5"/>
<rect x="316.37" y="1036.91" width="5.66" height="14.08" fill="#33ffcc"/>
<rect x="321.73" y="1036.91" width="16.39" height="14.08" fill="#00ffff"/>
<rect x="337.82" y="1036.91" width="5.66" height="14.08" fill="#00dbff"/>
<rect x="343.18" y="1036.91" width="5.66" height="14.08" fill="#1affe5"/>
<rect x="348.54" y="1036.91" width="37.84" height="14.08" fill="#57ffa8"/>
<rect x="386.08" y="1036.91" width="27.11" height="14.08" fill="#a8ff57"/>
<rect x="412.90" y="1036.91" width="5.66" height="14.08" fill="#80ff80"/>
<rect x="418.26" y="1036.91" width="5.66" height="14.08" fill="#b3ff4c"/>
<rect x="423.62" y="1036.91" width="5.66" height="14.08" fill="#66ff99"/>
<rect x="428.99" y="1036.91" width="27.11" height="14.08" fill="#bdff42"/>
<rect x="80.40" y="1050.69" width="5.66" height="14.08" fill="#80ff80"/>
<rect x="85.76" y="1050.69" width="5.66" height="14.08" fill="#57ffa8"/>
<rect x="91.13" y="1050.69" width="32.48" height="14.08" fill="#8aff75"/>
<rect x="123.30" y="1050.69" width="11.03" height="14.08" fill="#57ffa8"/>
<rect x="134.03" y="1050.69" width="16.39" height="14.08" fill="#80ff80"/>
<rect x="150.12" y="1050.69" width="16.39" height="14.08" fill="#8fff70"/>
<rect x="166.21" y="1050.69" width="5.66" height="14.08" fill="#42ffbd"/>
<rect x="171.57" y="1050.69" width="11.03" height="14.08" fill="#99ff66"/>
<rect x="182.29" y="1050.69" width="5.66" height="14.08" fill="#ffff00"/>
<rect x="187.66" y="1050.69" width="5.66" height="14.08" fill="#ccff33"/>
<rect x="193.02" y="1050.69" width="16.39" height="14.08" fill="#80ff80"/>
<rect x="209.11" y="1050.69" width="5.66" height="14.08" fill="#b3ff4c"/>
<rect x="214.47" y="1050.69" width="5.66" height="14.08" fill="#80ff80"/>
<rect x="219.83" y="1050.69" width="11.03" height="14.08" fill="#b3ff4c"/>
<rect x="230.56" y="1050.69" width="5.66" height="14.08" fill="#80ff80"/>
<rect x="235.92" y="1050.69" width="11.03" height="14.08" fill="#bdff42"/>
<rect x="246.65" y="1050.69" width="27.11" height="14.08" fill="#99ff66"/>
<rect x="273.46" y="1050.69" width="11.03" height="14.08" fill="#8fff70"/>
<rect x="284.19" y="1050.69" width="11.03" height="14.08" fill="#a8ff57"/>
<rect x="294.91" y="1050.69" width="48.57" height="14.08" fill="#70ff8f"/>
<rect x="343.18" y="1050.69" width="16.39" height="14.08" fill="#b3ff4c"/>
<rect x="359.27" y="1050.69" width="21.75" height="14.08" fill="#99ff66"/>
<rect x="380.72" y="1050.69" width="16.39" height="14.08" fill="#b3ff4c"/>
<rect x="396.81" y="1050.69" width="11.03" height="14.08" fill="#66ff99"/>
<rect x="407.53" y="1050.69" width="5.66" height="14.08" fill="#99ff66"/>
<rect x="412.90" y="1050.69" width="11.03" height="14.08" fill="#b3ff4c"/>
<rect x="423.62" y="1050.69" width="5.66" height="14.08" fill="#75ff8a"/>
<rect x="428.99" y="1050.69" width="27.11" height="14.08" fill="#b3ff4c"/>
<rect x="80.40" y="1064.47" width="27.11" height="14.08" fill="#8aff75"/>
<rect x="107.21" y="1064.47" width="5.66" height="14.08" fill="#4dffb2"/>
<rect x="112.58" y="1064.47" width="11.03" height="14.08" fill="#8aff75"/>
<rect x="123.30" y="1064.47" width="70.02" height="14.08" fill="#99ff66"/>
<rect x="193.02" y="1064.47" width="5.66" height="14.08" fill="#66ff99"/>
<rect x="198.38" y="1064.47" width="75.38" height="14.08" fill="#42ffbd"/>
<rect x="273.46" y="1064.47" width="70.02" height="14.08" fill="#33ffcc"/>
<rect x="343.18" y="1064.47" width="5.66" height="14.08" fill="#4dffb2"/>
<rect x="348.54" y="1064.47" width="5.66" height="14.08" fill="#80ff80"/>
<rect x="353.91" y="1064.47" width="70.02" height="14.08" fill="#a8ff57"/>
<rect x="423.62" y="1064.47" width="5.66" height="14.08" fill="#80ff80"/>
<rect x="428.99" y="1064.47" width="27.11" height="14.08" fill="#b3ff4c"/>
<rect x="80.40" y="1078.25" width="11.03" height="14.08" fill="#75ff8a"/>
<rect x="91.13" y="1078.25" width="16.39" height="14.08" fill="#99ff66"/>
<rect x="107.21" y="1078.25" width="5.66" height="14.08" fill="#33ffcc"/>
<rect x="112.58" y="1078.25" width="5.66" height="14.08" fill="#99ff66"/>
<rect x="117.94" y="1078.25" width="5.66" height="14.08" fill="#80ff80"/>
<rect x="123.30" y="1078.25" width="21.75" height="14.08" fill="#b3ff4c"/>
<rect x="144.75" y="1078.25" width="16.39" height="14.08" fill="#ccff33"/>
<rect x="160.84" y="1078.25" width="5.66" height="14.08" fill="#8aff75"/>
<rect x="166.21" y="1078.25" width="21.75" height="14.08" fill="#bdff42"/>
<rect x="187.66" y="1078.25" width="5.66" height="14.08" fill="#75ff8a"/>
<rect x="193.02" y="1078.25" width="80.74" height="14.08" fill="#99ff66"/>
<rect x="273.46" y="1078.25" width="70.02" height="14.08" fill="#80ff80"/>
<rect x="343.18" y="1078.25" width="21.75" height="14.08" fill="#ccff33"/>
<rect x="364.63" y="1078.25" width="11.03" height="14.08" fill="#b3ff4c"/>
<rect x="375.36" y="1078.25" width="5.66" height="14.08" fill="#ccff33"/>
<rect x="380.72" y="1078.25" width="5.66" height="14.08" fill="#b3ff4c"/>
<rect x="386.08" y="1078.25" width="11.03" height="14.08" fill="#dbff24"/>
<rect x="396.81" y="1078.25" width="5.66" height="14.08" fill="#ffff00"/>
<rect x="402.17" y="1078.25" width="5.66" height="14.08" fill="#ffe500"/>
<rect x="407.53" y="1078.25" width="5.66" height="14.08" fill="#e5ff1a"/>
<rect x="412.90" y="1078.25" width="5.66" height="14.08" fill="#ffff00"/>
<rect x="418.26" y="1078.25" width="21.75" height="14.08" fill="#e5ff1a"/>
<rect x="439.71" y="1078.25" width="16.39" height="14.08" fill="#ccff33"/>
<rect x="80.40" y="1092.03" width="16.39" height="14.08" fill="#80ff80"/>
<rect x="96.49" y="1092.03" width="5.66" height="14.08" fill="#99ff66"/>
<rect x="101.85" y="1092.03" width="86.11" height="14.08" fill="#8fff70"/>
<rect x="187.66" y="1092.03" width="5.66" height="14.08" fill="#75ff8a"/>
<rect x="193.02" y="1092.03" width="150.46" height="14.08" fill="#99ff66"/>
<rect x="343.18" y="1092.03" width="112.92" height="14.08" fill="#b3ff4c"/>
<rect x="80.40" y="1105.81" width="5.66" height="14.08" fill="#1affe5"/>
<rect x="85.76" y="1105.81" width="5.66" height="14.08" fill="#80ff80"/>
<rect x="91.13" y="1105.81" width="5.66" height="14.08" fill="#66ff99"/>
<rect x="96.49" y="1105.81" width="5.66" height="14.08" fill="#f0ff0f"/>
<rect x="101.85" y="1105.81" width="64.65" height="14.08" fill="#80ff80"/>
<rect x="166.21" y="1105.81" width="5.66" height="14.08" fill="#ffe500"/>
<rect x="171.57" y="1105.81" width="16.39" height="14.08" fill="#b3ff4c"/>
<rect x="187.66" y="1105.81" width="59.29" height="14.08" fill="#c2ff3d"/>
<rect x="246.65" y="1105.81" width="27.11" height="14.08" fill="#a8ff57"/>
<rect x="273.46" y="1105.81" width="70.02" height="14.08" fill="#80ff80"/>
<rect x="343.18" y="1105.81" width="16.39" height="14.08" fill="#99ff66"/>
<rect x="359.27" y="1105.81" width="11.03" height="14.08" fill="#bdff42"/>
<rect x="369.99" y="1105.81" width="5.66" height="14.08" fill="#ffff00"/>
<rect x="375.36" y="1105.81" width="5.66" height="14.08" fill="#ffe500"/>
<rect x="380.72" y="1105.81" width="5.66" height="14.08" fill="#e5ff1a"/>
<rect x="386.08" y="1105.81" width="5.66" height="14.08" fill="#ccff33"/>
<rect x="391.45" y="1105.81" width="5.66" height="14.08" fill="#ffff00"/>
<rect x="396.81" y="1105.81" width="5.66" height="14.08" fill="#b3ff4c"/>
<rect x="402.17" y="1105.81" width="5.66" height="14.08" fill="#ffff00"/>
<rect x="407.53" y="1105.81" width="5.66" height="14.08" fill="#99ff66"/>
<rect x="412.90" y="1105.81" width="5.66" height="14.08" fill="#ffe500"/>
<rect x="418.26" y="1105.81" width="5.66" height="14.08" fill="#fff000"/>
<rect x="423.62" y="1105.81" width="11.03" height="14.08" fill="#e5ff1a"/>
<rect x="434.35" y="1105.81" width="11.03" height="14.08" fill="#ffdb00"/>
<rect x="445.07" y="1105.81" width="5.66" height="14.08" fill="#ffcc00"/>
<rect x="450.44" y="1105.81" width="5.66" height="14.08" fill="#ff9900"/>
<rect x="80.40" y="1119.59" width="5.66" height="14.08" fill="#66ff99"/>
<rect x="85.76" y="1119.59" width="11.03" height="14.08" fill="#80ff80"/>
<rect x="96.49" y="1119.59" width="5.66" height="14.08" fill="#e5ff1a"/>
<rect x="101.85" y="1119.59" width="5.66" height="14.08" fill="#99ff66"/>
<rect x="107.21" y="1119.59" width="11.03" height="14.08" fill="#80ff80"/>
<rect x="117.94" y="1119.59" width="11.03" height="14.08" fill="#b3ff4c"/>
<rect x="128.67" y="1119.59" width="5.66" height="14.08" fill="#80ff80"/>
<rect x="134.03" y="1119.59" width="5.66" height="14.08" fill="#bdff42"/>
<rect x="139.39" y="1119.59" width="5.66" height="14.08" fill="#99ff66"/>
<rect x="144.75" y="1119.59" width="11.03" height="14.08" fill="#80ff80"/>
<rect x="155.48" y="1119.59" width="5.66" height="14.08" fill="#99ff66"/>
<rect x="160.84" y="1119.59" width="5.66" height="14.08" fill="#ffe500"/>
<rect x="166.21" y="1119.59" width="5.66" height="14.08" fill="#bdff42"/>
<rect x="171.57" y="1119.59" width="11.03" height="14.08" fill="#ccff33"/>
<rect x="182.29" y="1119.59" width="5.66" height="14.08" fill="#fff000"/>
<rect x="187.66" y="1119.59" width="5.66" height="14.08" fill="#dbff24"/>
<rect x="193.02" y="1119.59" width="16.39" height="14.08" fill="#ffd600"/>
<rect x="209.11" y="1119.59" width="11.03" height="14.08" fill="#ff9900"/>
<rect x="219.83" y="1119.59" width="5.66" height="14.08" fill="#ffff00"/>
<rect x="225.20" y="1119.59" width="11.03" height="14.08" fill="#ffbd00"/>
<rect x="235.92" y="1119.59" width="11.03" height="14.08" fill="#ffe500"/>
<rect x="246.65" y="1119.59" width="5.66" height="14.08" fill="#e5ff1a"/>
<rect x="252.01" y="1119.59" width="5.66" height="14.08" fill="#ffff00"/>
<rect x="257.37" y="1119.59" width="11.03" height="14.08" fill="#ffcc00"/>
<rect x="268.10" y="1119.59" width="5.66" height="14.08" fill="#ffe500"/>
<rect x="273.46" y="1119.59" width="5.66" height="14.08" fill="#fff000"/>
<rect x="278.83" y="1119.59" width="16.39" height="14.08" fill="#ffbd00"/>
<rect x="294.91" y="1119.59" width="5.66" height="14.08" fill="#ffe500"/>
<rect x="300.28" y="1119.59" width="11.03" height="14.08" fill="#ffb300"/>
<rect x="311.00" y="1119.59" width="5.66" height="14.08" fill="#ffff00"/>
<rect x="316.37" y="1119.59" width="16.39" height="14.08" fill="#ffd600"/>
<rect x="332.45" y="1119.59" width="5.66" height="14.08" fill="#ffb300"/>
<rect x="337.82" y="1119.59" width="11.03" height="14.08" fill="#e5ff1a"/>
<rect x="348.54" y="1119.59" width="11.03" height="14.08" fill="#ccff33"/>
<rect x="359.27" y="1119.59" width="16.39" height="14.08" fill="#ffff00"/>
<rect x="375.36" y="1119.59" width="5.66" height="14.08" fill="#fff000"/>
<rect x="380.72" y="1119.59" width="5.66" height="14.08" fill="#ffcc00"/>
<rect x="386.08" y="1119.59" width="5.66" height="14.08" fill="#ffff00"/>
<rect x="391.45" y="1119.59" width="5.66" height="14.08" fill="#ffe500"/>
<rect x="396.81" y="1119.59" width="11.03" height="14.08" fill="#ffb300"/>
<rect x="407.53" y="1119.59" width="11.03" height="14.08" fill="#ff6600"/>
<rect x="418.26" y="1119.59" width="11.03" height="14.08" fill="#ff8000"/>
<rect x="428.99" y="1119.59" width="11.03" height="14.08" fill="#ffa800"/>
<rect x="439.71" y="1119.59" width="11.03" height="14.08" fill="#ffe500"/>
<rect x="450.44" y="1119.59" width="5.66" height="14.08" fill="#ff9900"/>
<rect x="80.40" y="1133.36" width="5.66" height="14.08" fill="#57ffa8"/>
<rect x="85.76" y="1133.36" width="11.03" height="14.08" fill="#80ff80"/>
<rect x="96.49" y="1133.36" width="5.66" height="14.08" fill="#dbff24"/>
<rect x="101.85" y="1133.36" width="16.39" height="14.08" fill="#8fff70"/>
<rect x="117.94" y="1133.36" width="11.03" height="14.08" fill="#bdff42"/>
<rect x="128.67" y="1133.36" width="5.66" height="14.08" fill="#99ff66"/>
<rect x="134.03" y="1133.36" width="5.66" height="14.08" fill="#bdff42"/>
<rect x="139.39" y="1133.36" width="5.66" height="14.08" fill="#99ff66"/>
<rect x="144.75" y="1133.36" width="5.66" height="14.08" fill="#bdff42"/>
<rect x="150.12" y="1133.36" width="11.03" height="14.08" fill="#8fff70"/>
<rect x="160.84" y="1133.36" width="11.03" height="14.08" fill="#e5ff1a"/>
<rect x="171.57" y="1133.36" width="5.66" height="14.08" fill="#b3ff4c"/>
<rect x="176.93" y="1133.36" width="16.39" height="14.08" fill="#75ff8a"/>
<rect x="193.02" y="1133.36" width="27.11" height="14.08" fill="#4dffb2"/>
<rect x="219.83" y="1133.36" width="32.48" height="14.08" fill="#33ffcc"/>
<rect x="252.01" y="1133.36" width="21.75" height="14.08" fill="#42ffbd"/>
<rect x="273.46" y="1133.36" width="75.38" height="14.08" fill="#4dffb2"/>
<rect x="348.54" y="1133.36" width="21.75" height="14.08" fill="#70ff8f"/>
<rect x="369.99" y="1133.36" width="27.11" height="14.08" fill="#99ff66"/>
<rect x="396.81" y="1133.36" width="11.03" height="14.08" fill="#bdff42"/>
<rect x="407.53" y="1133.36" width="16.39" height="14.08" fill="#ccff33"/>
<rect x="423.62" y="1133.36" width="21.75" height="14.08" fill="#b3ff4c"/>
<rect x="445.07" y="1133.36" width="11.03" height="14.08" fill="#ccff33"/>
<rect x="80.40" y="1147.14" width="11.03" height="14.08" fill="#8fff70"/>
<rect x="91.13" y="1147.14" width="11.03" height="14.08" fill="#80ff80"/>
<rect x="101.85" y="1147.14" width="64.65" height="14.08" fill="#4dffb2"/>
<rect x="166.21" y="1147.14" width="21.75" height="14.08" fill="#24ffdb"/>
<rect x="187.66" y="1147.14" width="21.75" height="14.08" fill="#00ffff"/>
<rect x="209.11" y="1147.14" width="5.66" height="14.08" fill="#00e5ff"/>
<rect x="214.47" y="1147.14" width="11.03" height="14.08" fill="#0ffff0"/>
<rect x="225.20" y="1147.14" width="48.57" height="14.08" fill="#42ffbd"/>
<rect x="273.46" y="1147.14" width="11.03" height="14.08" fill="#57ffa8"/>
<rect x="284.19" y="1147.14" width="11.03" height="14.08" fill="#33ffcc"/>
<rect x="294.91" y="1147.14" width="5.66" height="14.08" fill="#57ffa8"/>
<rect x="300.28" y="1147.14" width="11.03" height="14.08" fill="#75ff8a"/>
<rect x="311.00" y="1147.14" width="21.75" height="14.08" fill="#57ffa8"/>
<rect x="332.45" y="1147.14" width="5.66" height="14.08" fill="#80ff80"/>
<rect x="337.82" y="1147.14" width="5.66" height="14.08" fill="#33ffcc"/>
<rect x="343.18" y="1147.14" width="21.75" height="14.08" fill="#80ff80"/>
<rect x="364.63" y="1147.14" width="16.39" height="14.08" fill="#66ff99"/>
<rect x="380.72" y="1147.14" width="5.66" height="14.08" fill="#42ffbd"/>
<rect x="386.08" y="1147.14" width="11.03" height="14.08" fill="#70ff8f"/>
<rect x="396.81" y="1147.14" width="48.57" height="14.08" fill="#5cffa3"/>
<rect x="445.07" y="1147.14" width="11.03" height="14.08" fill="#33ffcc"/>
<rect x="80.40" y="1160.92" width="5.66" height="14.08" fill="#99ff66"/>
<rect x="85.76" y="1160.92" width="16.39" height="14.08" fill="#80ff80"/>
<rect x="101.85" y="1160.92" width="5.66" height="14.08" fill="#99ff66"/>
<rect x="107.21" y="1160.92" width="5.66" height="14.08" fill="#33ffcc"/>
<rect x="112.58" y="1160.92" width="5.66" height="14.08" fill="#8aff75"/>
<rect x="117.94" y="1160.92" width="21.75" height="14.08" fill="#70ff8f"/>
<rect x="139.39" y="1160.92" width="32.48" height="14.08" fill="#8fff70"/>
<rect x="171.57" y="1160.92" width="37.84" height="14.08" fill="#a8ff57"/>
<rect x="209.11" y="1160.92" width="11.03" height="14.08" fill="#ccff33"/>
<rect x="219.83" y="1160.92" width="5.66" height="14.08" fill="#f0ff0f"/>
<rect x="225.20" y="1160.92" width="5.66" height="14.08" fill="#dbff24"/>
<rect x="230.56" y="1160.92" width="5.66" height="14.08" fill="#ffff00"/>
<rect x="235.92" y="1160.92" width="11.03" height="14.08" fill="#ccff33"/>
<rect x="246.65" y="1160.92" width="5.66" height="14.08" fill="#bdff42"/>
<rect x="252.01" y="1160.92" width="5.66" height="14.08" fill="#ccff33"/>
<rect x="257.37" y="1160.92" width="16.39" height="14.08" fill="#a8ff57"/>
<rect x="273.46" y="1160.92" width="64.65" height="14.08" fill="#b3ff4c"/>
<rect x="337.82" y="1160.92" width="27.11" height="14.08" fill="#ccff33"/>
<rect x="364.63" y="1160.92" width="16.39" height="14.08" fill="#bdff42"/>
<rect x="380.72" y="1160.92" width="21.75" height="14.08" fill="#c2ff3d"/>
<rect x="402.17" y="1160.92" width="16.39" height="14.08" fill="#bdff42"/>
<rect x="418.26" y="1160.92" width="11.03" height="14.08" fill="#e5ff1a"/>
<rect x="428.99" y="1160.92" width="21.75" height="14.08" fill="#ccff33"/>
<rect x="450.44" y="1160.92" width="5.66" height="14.08" fill="#e5ff1a"/>
</g>
<rect x="80.4" y="981.8" width="375.4" height="192.9" fill="none" stroke="#4d4d4d" stroke-width="1.6"/>
<rect x="462.9" y="983.2" width="19.7" height="191.8" fill="url(#jetv)" stroke="#444" stroke-width="1.4"/>
<g shape-rendering="crispEdges">
<rect x="1074.60" y="985.00" width="5.67" height="16.42" fill="#66ff99"/>
<rect x="1079.97" y="985.00" width="16.42" height="16.42" fill="#8aff75"/>
<rect x="1096.09" y="985.00" width="5.67" height="16.42" fill="#ccff33"/>
<rect x="1101.46" y="985.00" width="16.42" height="16.42" fill="#b3ff4c"/>
<rect x="1117.58" y="985.00" width="21.79" height="16.42" fill="#a8ff57"/>
<rect x="1139.07" y="985.00" width="27.16" height="16.42" fill="#80ff80"/>
<rect x="1165.94" y="985.00" width="5.67" height="16.42" fill="#ffff00"/>
<rect x="1171.31" y="985.00" width="5.67" height="16.42" fill="#ff8000"/>
<rect x="1176.68" y="985.00" width="5.67" height="16.42" fill="#ff6600"/>
<rect x="1182.06" y="985.00" width="5.67" height="16.42" fill="#ff3300"/>
<rect x="1187.43" y="985.00" width="5.67" height="16.42" fill="#e50000"/>
<rect x="1192.80" y="985.00" width="5.67" height="16.42" fill="#ff4200"/>
<rect x="1198.18" y="985.00" width="5.67" height="16.42" fill="#ff0f00"/>
<rect x="1203.55" y="985.00" width="11.05" height="16.42" fill="#ff3300"/>
<rect x="1214.29" y="985.00" width="5.67" height="16.42" fill="#ff0f00"/>
<rect x="1219.67" y="985.00" width="5.67" height="16.42" fill="#ff9900"/>
<rect x="1225.04" y="985.00" width="5.67" height="16.42" fill="#ff0f00"/>
<rect x="1230.41" y="985.00" width="5.67" height="16.42" fill="#ff6600"/>
<rect x="1235.79" y="985.00" width="11.05" height="16.42" fill="#ff4200"/>
<rect x="1246.53" y="985.00" width="5.67" height="16.42" fill="#ff9900"/>
<rect x="1251.90" y="985.00" width="5.67" height="16.42" fill="#ff4200"/>
<rect x="1257.28" y="985.00" width="5.67" height="16.42" fill="#ff8000"/>
<rect x="1262.65" y="985.00" width="11.05" height="16.42" fill="#ff6600"/>
<rect x="1273.40" y="985.00" width="5.67" height="16.42" fill="#ff9900"/>
<rect x="1278.77" y="985.00" width="21.79" height="16.42" fill="#ffcc00"/>
<rect x="1300.26" y="985.00" width="37.91" height="16.42" fill="#ffa800"/>
<rect x="1337.87" y="985.00" width="11.05" height="16.42" fill="#ff6600"/>
<rect x="1348.62" y="985.00" width="5.67" height="16.42" fill="#ccff33"/>
<rect x="1353.99" y="985.00" width="11.05" height="16.42" fill="#75ff8a"/>
<rect x="1364.73" y="985.00" width="11.05" height="16.42" fill="#4dffb2"/>
<rect x="1375.48" y="985.00" width="32.54" height="16.42" fill="#70ff8f"/>
<rect x="1407.72" y="985.00" width="16.42" height="16.42" fill="#80ff80"/>
<rect x="1423.84" y="985.00" width="5.67" height="16.42" fill="#99ff66"/>
<rect x="1429.21" y="985.00" width="5.67" height="16.42" fill="#80ff80"/>
<rect x="1434.58" y="985.00" width="11.05" height="16.42" fill="#99ff66"/>
<rect x="1445.33" y="985.00" width="5.67" height="16.42" fill="#ccff33"/>
<rect x="1074.60" y="1001.12" width="5.67" height="16.42" fill="#66ff99"/>
<rect x="1079.97" y="1001.12" width="5.67" height="16.42" fill="#b3ff4c"/>
<rect x="1085.35" y="1001.12" width="5.67" height="16.42" fill="#80ff80"/>
<rect x="1090.72" y="1001.12" width="11.05" height="16.42" fill="#66ff99"/>
<rect x="1101.46" y="1001.12" width="5.67" height="16.42" fill="#4dffb2"/>
<rect x="1106.84" y="1001.12" width="64.77" height="16.42" fill="#70ff8f"/>
<rect x="1171.31" y="1001.12" width="5.67" height="16.42" fill="#bdff42"/>
<rect x="1176.68" y="1001.12" width="11.05" height="16.42" fill="#ffe500"/>
<rect x="1187.43" y="1001.12" width="5.67" height="16.42" fill="#ffbd00"/>
<rect x="1192.80" y="1001.12" width="11.05" height="16.42" fill="#ffa300"/>
<rect x="1203.55" y="1001.12" width="16.42" height="16.42" fill="#ffbd00"/>
<rect x="1219.67" y="1001.12" width="11.05" height="16.42" fill="#ffa800"/>
<rect x="1230.41" y="1001.12" width="5.67" height="16.42" fill="#ffbd00"/>
<rect x="1235.79" y="1001.12" width="5.67" height="16.42" fill="#ff9900"/>
<rect x="1241.16" y="1001.12" width="16.42" height="16.42" fill="#ffbd00"/>
<rect x="1257.28" y="1001.12" width="5.67" height="16.42" fill="#ffb300"/>
<rect x="1262.65" y="1001.12" width="5.67" height="16.42" fill="#ffff00"/>
<rect x="1268.02" y="1001.12" width="11.05" height="16.42" fill="#ffdb00"/>
<rect x="1278.77" y="1001.12" width="27.16" height="16.42" fill="#ffcc00"/>
<rect x="1305.63" y="1001.12" width="11.05" height="16.42" fill="#ffb300"/>
<rect x="1316.38" y="1001.12" width="16.42" height="16.42" fill="#ff9900"/>
<rect x="1332.50" y="1001.12" width="5.67" height="16.42" fill="#ff3300"/>
<rect x="1337.87" y="1001.12" width="5.67" height="16.42" fill="#ffb300"/>
<rect x="1343.24" y="1001.12" width="5.67" height="16.42" fill="#ccff33"/>
<rect x="1348.62" y="1001.12" width="11.05" height="16.42" fill="#80ff80"/>
<rect x="1359.36" y="1001.12" width="11.05" height="16.42" fill="#8fff70"/>
<rect x="1370.11" y="1001.12" width="11.05" height="16.42" fill="#70ff8f"/>
<rect x="1380.85" y="1001.12" width="70.15" height="16.42" fill="#8aff75"/>
<rect x="1074.60" y="1017.23" width="5.67" height="16.42" fill="#4dffb2"/>
<rect x="1079.97" y="1017.23" width="5.67" height="16.42" fill="#80ff80"/>
<rect x="1085.35" y="1017.23" width="32.54" height="16.42" fill="#99ff66"/>
<rect x="1117.58" y="1017.23" width="16.42" height="16.42" fill="#70ff8f"/>
<rect x="1133.70" y="1017.23" width="5.67" height="16.42" fill="#57ffa8"/>
<rect x="1139.07" y="1017.23" width="27.16" height="16.42" fill="#33ffcc"/>
<rect x="1165.94" y="1017.23" width="5.67" height="16.42" fill="#80ff80"/>
<rect x="1171.31" y="1017.23" width="5.67" height="16.42" fill="#ffff00"/>
<rect x="1176.68" y="1017.23" width="5.67" height="16.42" fill="#ff8000"/>
<rect x="1182.06" y="1017.23" width="16.42" height="16.42" fill="#ff6600"/>
<rect x="1198.18" y="1017.23" width="5.67" height="16.42" fill="#ff8000"/>
<rect x="1203.55" y="1017.23" width="5.67" height="16.42" fill="#ff9900"/>
<rect x="1208.92" y="1017.23" width="5.67" height="16.42" fill="#ff8000"/>
<rect x="1214.29" y="1017.23" width="21.79" height="16.42" fill="#ffa800"/>
<rect x="1235.79" y="1017.23" width="5.67" height="16.42" fill="#ff8000"/>
<rect x="1241.16" y="1017.23" width="5.67" height="16.42" fill="#ffb300"/>
<rect x="1246.53" y="1017.23" width="5.67" height="16.42" fill="#ffff00"/>
<rect x="1251.90" y="1017.23" width="5.67" height="16.42" fill="#ccff33"/>
<rect x="1257.28" y="1017.23" width="5.67" height="16.42" fill="#99ff66"/>
<rect x="1262.65" y="1017.23" width="21.79" height="16.42" fill="#b3ff4c"/>
<rect x="1284.14" y="1017.23" width="16.42" height="16.42" fill="#ffe500"/>
<rect x="1300.26" y="1017.23" width="11.05" height="16.42" fill="#ffbd00"/>
<rect x="1311.01" y="1017.23" width="27.16" height="16.42" fill="#ffb300"/>
<rect x="1337.87" y="1017.23" width="11.05" height="16.42" fill="#ff8f00"/>
<rect x="1348.62" y="1017.23" width="5.67" height="16.42" fill="#ffff00"/>
<rect x="1353.99" y="1017.23" width="5.67" height="16.42" fill="#4dffb2"/>
<rect x="1359.36" y="1017.23" width="21.79" height="16.42" fill="#00ffff"/>
<rect x="1380.85" y="1017.23" width="5.67" height="16.42" fill="#00dbff"/>
<rect x="1386.23" y="1017.23" width="21.79" height="16.42" fill="#00f5ff"/>
<rect x="1407.72" y="1017.23" width="11.05" height="16.42" fill="#1affe5"/>
<rect x="1418.46" y="1017.23" width="16.42" height="16.42" fill="#4dffb2"/>
<rect x="1434.58" y="1017.23" width="16.42" height="16.42" fill="#42ffbd"/>
<rect x="1074.60" y="1033.35" width="11.05" height="16.42" fill="#57ffa8"/>
<rect x="1085.35" y="1033.35" width="5.67" height="16.42" fill="#80ff80"/>
<rect x="1090.72" y="1033.35" width="5.67" height="16.42" fill="#bdff42"/>
<rect x="1096.09" y="1033.35" width="5.67" height="16.42" fill="#99ff66"/>
<rect x="1101.46" y="1033.35" width="11.05" height="16.42" fill="#e5ff1a"/>
<rect x="1112.21" y="1033.35" width="21.79" height="16.42" fill="#c2ff3d"/>
<rect x="1133.70" y="1033.35" width="37.91" height="16.42" fill="#99ff66"/>
<rect x="1171.31" y="1033.35" width="5.67" height="16.42" fill="#ffff00"/>
<rect x="1176.68" y="1033.35" width="5.67" height="16.42" fill="#ff6600"/>
<rect x="1182.06" y="1033.35" width="5.67" height="16.42" fill="#ff9900"/>
<rect x="1187.43" y="1033.35" width="5.67" height="16.42" fill="#ff3300"/>
<rect x="1192.80" y="1033.35" width="5.67" height="16.42" fill="#ff0f00"/>
<rect x="1198.18" y="1033.35" width="5.67" height="16.42" fill="#ff6600"/>
<rect x="1203.55" y="1033.35" width="5.67" height="16.42" fill="#ff1a00"/>
<rect x="1208.92" y="1033.35" width="5.67" height="16.42" fill="#ff4200"/>
<rect x="1214.29" y="1033.35" width="5.67" height="16.42" fill="#ff0000"/>
<rect x="1219.67" y="1033.35" width="5.67" height="16.42" fill="#ff4c00"/>
<rect x="1225.04" y="1033.35" width="11.05" height="16.42" fill="#ff2400"/>
<rect x="1235.79" y="1033.35" width="11.05" height="16.42" fill="#e50000"/>
<rect x="1246.53" y="1033.35" width="11.05" height="16.42" fill="#cc0000"/>
<rect x="1257.28" y="1033.35" width="5.67" height="16.42" fill="#990000"/>
<rect x="1262.65" y="1033.35" width="5.67" height="16.42" fill="#e50000"/>
<rect x="1268.02" y="1033.35" width="5.67" height="16.42" fill="#cc0000"/>
<rect x="1273.40" y="1033.35" width="5.67" height="16.42" fill="#b30000"/>
<rect x="1278.77" y="1033.35" width="5.67" height="16.42" fill="#990000"/>
<rect x="1284.14" y="1033.35" width="5.67" height="16.42" fill="#bd0000"/>
<rect x="1289.51" y="1033.35" width="5.67" height="16.42" fill="#990000"/>
<rect x="1294.89" y="1033.35" width="5.67" height="16.42" fill="#b30000"/>
<rect x="1300.26" y="1033.35" width="5.67" height="16.42" fill="#cc0000"/>
<rect x="1305.63" y="1033.35" width="5.67" height="16.42" fill="#990000"/>
<rect x="1311.01" y="1033.35" width="11.05" height="16.42" fill="#bd0000"/>
<rect x="1321.75" y="1033.35" width="5.67" height="16.42" fill="#e50000"/>
<rect x="1327.12" y="1033.35" width="16.42" height="16.42" fill="#ff7500"/>
<rect x="1343.24" y="1033.35" width="5.67" height="16.42" fill="#ff4c00"/>
<rect x="1348.62" y="1033.35" width="5.67" height="16.42" fill="#ccff33"/>
<rect x="1353.99" y="1033.35" width="80.89" height="16.42" fill="#42ffbd"/>
<rect x="1434.58" y="1033.35" width="11.05" height="16.42" fill="#99ff66"/>
<rect x="1445.33" y="1033.35" width="5.67" height="16.42" fill="#80ff80"/>
<rect x="1074.60" y="1049.47" width="32.54" height="16.42" fill="#75ff8a"/>
<rect x="1106.84" y="1049.47" width="16.42" height="16.42" fill="#8fff70"/>
<rect x="1122.96" y="1049.47" width="5.67" height="16.42" fill="#66ff99"/>
<rect x="1128.33" y="1049.47" width="11.05" height="16.42" fill="#8aff75"/>
<rect x="1139.07" y="1049.47" width="5.67" height="16.42" fill="#57ffa8"/>
<rect x="1144.45" y="1049.47" width="16.42" height="16.42" fill="#80ff80"/>
<rect x="1160.57" y="1049.47" width="5.67" height="16.42" fill="#a8ff57"/>
<rect x="1165.94" y="1049.47" width="11.05" height="16.42" fill="#66ff99"/>
<rect x="1176.68" y="1049.47" width="11.05" height="16.42" fill="#8fff70"/>
<rect x="1187.43" y="1049.47" width="27.16" height="16.42" fill="#bdff42"/>
<rect x="1214.29" y="1049.47" width="5.67" height="16.42" fill="#e5ff1a"/>
<rect x="1219.67" y="1049.47" width="5.67" height="16.42" fill="#b3ff4c"/>
<rect x="1225.04" y="1049.47" width="16.42" height="16.42" fill="#c2ff3d"/>
<rect x="1241.16" y="1049.47" width="5.67" height="16.42" fill="#dbff24"/>
<rect x="1246.53" y="1049.47" width="16.42" height="16.42" fill="#ccff33"/>
<rect x="1262.65" y="1049.47" width="5.67" height="16.42" fill="#f0ff0f"/>
<rect x="1268.02" y="1049.47" width="32.54" height="16.42" fill="#e5ff1a"/>
<rect x="1300.26" y="1049.47" width="27.16" height="16.42" fill="#ffff00"/>
<rect x="1327.12" y="1049.47" width="5.67" height="16.42" fill="#ffe500"/>
<rect x="1332.50" y="1049.47" width="11.05" height="16.42" fill="#f0ff0f"/>
<rect x="1343.24" y="1049.47" width="5.67" height="16.42" fill="#ffe500"/>
<rect x="1348.62" y="1049.47" width="5.67" height="16.42" fill="#ffff00"/>
<rect x="1353.99" y="1049.47" width="5.67" height="16.42" fill="#99ff66"/>
<rect x="1359.36" y="1049.47" width="27.16" height="16.42" fill="#ccff33"/>
<rect x="1386.23" y="1049.47" width="16.42" height="16.42" fill="#a8ff57"/>
<rect x="1402.34" y="1049.47" width="21.79" height="16.42" fill="#ccff33"/>
<rect x="1423.84" y="1049.47" width="11.05" height="16.42" fill="#e5ff1a"/>
<rect x="1434.58" y="1049.47" width="5.67" height="16.42" fill="#ffff00"/>
<rect x="1439.95" y="1049.47" width="5.67" height="16.42" fill="#bdff42"/>
<rect x="1445.33" y="1049.47" width="5.67" height="16.42" fill="#ffff00"/>
<rect x="1074.60" y="1065.58" width="16.42" height="16.42" fill="#8fff70"/>
<rect x="1090.72" y="1065.58" width="5.67" height="16.42" fill="#57ffa8"/>
<rect x="1096.09" y="1065.58" width="37.91" height="16.42" fill="#80ff80"/>
<rect x="1133.70" y="1065.58" width="11.05" height="16.42" fill="#b3ff4c"/>
<rect x="1144.45" y="1065.58" width="5.67" height="16.42" fill="#8fff70"/>
<rect x="1149.82" y="1065.58" width="5.67" height="16.42" fill="#66ff99"/>
<rect x="1155.19" y="1065.58" width="11.05" height="16.42" fill="#80ff80"/>
<rect x="1165.94" y="1065.58" width="11.05" height="16.42" fill="#99ff66"/>
<rect x="1176.68" y="1065.58" width="5.67" height="16.42" fill="#57ffa8"/>
<rect x="1182.06" y="1065.58" width="5.67" height="16.42" fill="#80ff80"/>
<rect x="1187.43" y="1065.58" width="11.05" height="16.42" fill="#4dffb2"/>
<rect x="1198.18" y="1065.58" width="5.67" height="16.42" fill="#70ff8f"/>
<rect x="1203.55" y="1065.58" width="5.67" height="16.42" fill="#4dffb2"/>
<rect x="1208.92" y="1065.58" width="54.03" height="16.42" fill="#66ff99"/>
<rect x="1262.65" y="1065.58" width="21.79" height="16.42" fill="#33ffcc"/>
<rect x="1284.14" y="1065.58" width="16.42" height="16.42" fill="#42ffbd"/>
<rect x="1300.26" y="1065.58" width="16.42" height="16.42" fill="#24ffdb"/>
<rect x="1316.38" y="1065.58" width="27.16" height="16.42" fill="#42ffbd"/>
<rect x="1343.24" y="1065.58" width="5.67" height="16.42" fill="#0ffff0"/>
<rect x="1348.62" y="1065.58" width="11.05" height="16.42" fill="#42ffbd"/>
<rect x="1359.36" y="1065.58" width="16.42" height="16.42" fill="#66ff99"/>
<rect x="1375.48" y="1065.58" width="27.16" height="16.42" fill="#57ffa8"/>
<rect x="1402.34" y="1065.58" width="5.67" height="16.42" fill="#80ff80"/>
<rect x="1407.72" y="1065.58" width="5.67" height="16.42" fill="#57ffa8"/>
<rect x="1413.09" y="1065.58" width="37.91" height="16.42" fill="#80ff80"/>
<rect x="1074.60" y="1081.70" width="11.05" height="16.42" fill="#70ff8f"/>
<rect x="1085.35" y="1081.70" width="16.42" height="16.42" fill="#8aff75"/>
<rect x="1101.46" y="1081.70" width="5.67" height="16.42" fill="#4dffb2"/>
<rect x="1106.84" y="1081.70" width="5.67" height="16.42" fill="#80ff80"/>
<rect x="1112.21" y="1081.70" width="32.54" height="16.42" fill="#66ff99"/>
<rect x="1144.45" y="1081.70" width="5.67" height="16.42" fill="#99ff66"/>
<rect x="1149.82" y="1081.70" width="32.54" height="16.42" fill="#75ff8a"/>
<rect x="1182.06" y="1081.70" width="11.05" height="16.42" fill="#f0ff0f"/>
<rect x="1192.80" y="1081.70" width="5.67" height="16.42" fill="#fff500"/>
<rect x="1198.18" y="1081.70" width="11.05" height="16.42" fill="#e5ff1a"/>
<rect x="1208.92" y="1081.70" width="11.05" height="16.42" fill="#bdff42"/>
<rect x="1219.67" y="1081.70" width="54.03" height="16.42" fill="#dbff24"/>
<rect x="1273.40" y="1081.70" width="75.52" height="16.42" fill="#b3ff4c"/>
<rect x="1348.62" y="1081.70" width="16.42" height="16.42" fill="#ccff33"/>
<rect x="1364.73" y="1081.70" width="21.79" height="16.42" fill="#c2ff3d"/>
<rect x="1386.23" y="1081.70" width="16.42" height="16.42" fill="#8fff70"/>
<rect x="1402.34" y="1081.70" width="11.05" height="16.42" fill="#bdff42"/>
<rect x="1413.09" y="1081.70" width="5.67" height="16.42" fill="#dbff24"/>
<rect x="1418.46" y="1081.70" width="32.54" height="16.42" fill="#bdff42"/>
<rect x="1074.60" y="1097.82" width="16.42" height="16.42" fill="#8fff70"/>
<rect x="1090.72" y="1097.82" width="5.67" height="16.42" fill="#66ff99"/>
<rect x="1096.09" y="1097.82" width="21.79" height="16.42" fill="#99ff66"/>
<rect x="1117.58" y="1097.82" width="37.91" height="16.42" fill="#75ff8a"/>
<rect x="1155.19" y="1097.82" width="21.79" height="16.42" fill="#8fff70"/>
<rect x="1176.68" y="1097.82" width="16.42" height="16.42" fill="#70ff8f"/>
<rect x="1192.80" y="1097.82" width="11.05" height="16.42" fill="#99ff66"/>
<rect x="1203.55" y="1097.82" width="11.05" height="16.42" fill="#75ff8a"/>
<rect x="1214.29" y="1097.82" width="5.67" height="16.42" fill="#33ffcc"/>
<rect x="1219.67" y="1097.82" width="16.42" height="16.42" fill="#66ff99"/>
<rect x="1235.79" y="1097.82" width="91.64" height="16.42" fill="#4dffb2"/>
<rect x="1327.12" y="1097.82" width="59.40" height="16.42" fill="#33ffcc"/>
<rect x="1386.23" y="1097.82" width="5.67" height="16.42" fill="#0ffff0"/>
<rect x="1391.60" y="1097.82" width="59.40" height="16.42" fill="#42ffbd"/>
<rect x="1074.60" y="1113.93" width="59.40" height="16.42" fill="#75ff8a"/>
<rect x="1133.70" y="1113.93" width="21.79" height="16.42" fill="#8aff75"/>
<rect x="1155.19" y="1113.93" width="27.16" height="16.42" fill="#70ff8f"/>
<rect x="1182.06" y="1113.93" width="102.38" height="16.42" fill="#33ffcc"/>
<rect x="1284.14" y="1113.93" width="54.03" height="16.42" fill="#0ffff0"/>
<rect x="1337.87" y="1113.93" width="5.67" height="16.42" fill="#00e5ff"/>
<rect x="1343.24" y="1113.93" width="11.05" height="16.42" fill="#0ffff0"/>
<rect x="1353.99" y="1113.93" width="11.05" height="16.42" fill="#00f5ff"/>
<rect x="1364.73" y="1113.93" width="16.42" height="16.42" fill="#0ffff0"/>
<rect x="1380.85" y="1113.93" width="70.15" height="16.42" fill="#29ffd6"/>
<rect x="1074.60" y="1130.05" width="27.16" height="16.42" fill="#80ff80"/>
<rect x="1101.46" y="1130.05" width="11.05" height="16.42" fill="#66ff99"/>
<rect x="1112.21" y="1130.05" width="5.67" height="16.42" fill="#80ff80"/>
<rect x="1117.58" y="1130.05" width="5.67" height="16.42" fill="#66ff99"/>
<rect x="1122.96" y="1130.05" width="21.79" height="16.42" fill="#70ff8f"/>
<rect x="1144.45" y="1130.05" width="5.67" height="16.42" fill="#4dffb2"/>
<rect x="1149.82" y="1130.05" width="21.79" height="16.42" fill="#70ff8f"/>
<rect x="1171.31" y="1130.05" width="27.16" height="16.42" fill="#bdff42"/>
<rect x="1198.18" y="1130.05" width="5.67" height="16.42" fill="#ffff00"/>
<rect x="1203.55" y="1130.05" width="43.28" height="16.42" fill="#d6ff29"/>
<rect x="1246.53" y="1130.05" width="5.67" height="16.42" fill="#b3ff4c"/>
<rect x="1251.90" y="1130.05" width="21.79" height="16.42" fill="#d6ff29"/>
<rect x="1273.40" y="1130.05" width="64.77" height="16.42" fill="#ccff33"/>
<rect x="1337.87" y="1130.05" width="5.67" height="16.42" fill="#f0ff0f"/>
<rect x="1343.24" y="1130.05" width="5.67" height="16.42" fill="#ccff33"/>
<rect x="1348.62" y="1130.05" width="21.79" height="16.42" fill="#a8ff57"/>
<rect x="1370.11" y="1130.05" width="80.89" height="16.42" fill="#8aff75"/>
<rect x="1074.60" y="1146.17" width="21.79" height="16.42" fill="#80ff80"/>
<rect x="1096.09" y="1146.17" width="5.67" height="16.42" fill="#66ff99"/>
<rect x="1101.46" y="1146.17" width="5.67" height="16.42" fill="#8fff70"/>
<rect x="1106.84" y="1146.17" width="5.67" height="16.42" fill="#57ffa8"/>
<rect x="1112.21" y="1146.17" width="27.16" height="16.42" fill="#80ff80"/>
<rect x="1139.07" y="1146.17" width="5.67" height="16.42" fill="#a8ff57"/>
<rect x="1144.45" y="1146.17" width="5.67" height="16.42" fill="#80ff80"/>
<rect x="1149.82" y="1146.17" width="5.67" height="16.42" fill="#99ff66"/>
<rect x="1155.19" y="1146.17" width="11.05" height="16.42" fill="#75ff8a"/>
<rect x="1165.94" y="1146.17" width="11.05" height="16.42" fill="#bdff42"/>
<rect x="1176.68" y="1146.17" width="37.91" height="16.42" fill="#b3ff4c"/>
<rect x="1214.29" y="1146.17" width="5.67" height="16.42" fill="#ffff00"/>
<rect x="1219.67" y="1146.17" width="16.42" height="16.42" fill="#dbff24"/>
<rect x="1235.79" y="1146.17" width="5.67" height="16.42" fill="#ffff00"/>
<rect x="1241.16" y="1146.17" width="5.67" height="16.42" fill="#dbff24"/>
<rect x="1246.53" y="1146.17" width="5.67" height="16.42" fill="#ffe500"/>
<rect x="1251.90" y="1146.17" width="5.67" height="16.42" fill="#ffbd00"/>
<rect x="1257.28" y="1146.17" width="5.67" height="16.42" fill="#ffe500"/>
<rect x="1262.65" y="1146.17" width="5.67" height="16.42" fill="#ffb300"/>
<rect x="1268.02" y="1146.17" width="16.42" height="16.42" fill="#ffcc00"/>
<rect x="1284.14" y="1146.17" width="11.05" height="16.42" fill="#ffe500"/>
<rect x="1294.89" y="1146.17" width="27.16" height="16.42" fill="#ffa800"/>
<rect x="1321.75" y="1146.17" width="5.67" height="16.42" fill="#ff7500"/>
<rect x="1327.12" y="1146.17" width="11.05" height="16.42" fill="#ffa800"/>
<rect x="1337.87" y="1146.17" width="5.67" height="16.42" fill="#ff0000"/>
<rect x="1343.24" y="1146.17" width="5.67" height="16.42" fill="#ff8000"/>
<rect x="1348.62" y="1146.17" width="16.42" height="16.42" fill="#ff3300"/>
<rect x="1364.73" y="1146.17" width="5.67" height="16.42" fill="#ff1a00"/>
<rect x="1370.11" y="1146.17" width="11.05" height="16.42" fill="#ff4200"/>
<rect x="1380.85" y="1146.17" width="21.79" height="16.42" fill="#ff5700"/>
<rect x="1402.34" y="1146.17" width="16.42" height="16.42" fill="#ff7000"/>
<rect x="1418.46" y="1146.17" width="5.67" height="16.42" fill="#ff4200"/>
<rect x="1423.84" y="1146.17" width="5.67" height="16.42" fill="#ff8000"/>
<rect x="1429.21" y="1146.17" width="21.79" height="16.42" fill="#ff7000"/>
<rect x="1074.60" y="1162.28" width="11.05" height="16.42" fill="#8fff70"/>
<rect x="1085.35" y="1162.28" width="11.05" height="16.42" fill="#80ff80"/>
<rect x="1096.09" y="1162.28" width="16.42" height="16.42" fill="#a8ff57"/>
<rect x="1112.21" y="1162.28" width="32.54" height="16.42" fill="#80ff80"/>
<rect x="1144.45" y="1162.28" width="16.42" height="16.42" fill="#99ff66"/>
<rect x="1160.57" y="1162.28" width="5.67" height="16.42" fill="#80ff80"/>
<rect x="1165.94" y="1162.28" width="5.67" height="16.42" fill="#99ff66"/>
<rect x="1171.31" y="1162.28" width="11.05" height="16.42" fill="#80ff80"/>
<rect x="1182.06" y="1162.28" width="11.05" height="16.42" fill="#42ffbd"/>
<rect x="1192.80" y="1162.28" width="16.42" height="16.42" fill="#24ffdb"/>
<rect x="1208.92" y="1162.28" width="16.42" height="16.42" fill="#00ffff"/>
<rect x="1225.04" y="1162.28" width="32.54" height="16.42" fill="#1affe5"/>
<rect x="1257.28" y="1162.28" width="70.15" height="16.42" fill="#00ffff"/>
<rect x="1327.12" y="1162.28" width="5.67" height="16.42" fill="#00e5ff"/>
<rect x="1332.50" y="1162.28" width="5.67" height="16.42" fill="#00ffff"/>
<rect x="1337.87" y="1162.28" width="5.67" height="16.42" fill="#00e5ff"/>
<rect x="1343.24" y="1162.28" width="27.16" height="16.42" fill="#00ffff"/>
<rect x="1370.11" y="1162.28" width="16.42" height="16.42" fill="#24ffdb"/>
<rect x="1386.23" y="1162.28" width="21.79" height="16.42" fill="#1affe5"/>
<rect x="1407.72" y="1162.28" width="32.54" height="16.42" fill="#33ffcc"/>
<rect x="1439.95" y="1162.28" width="11.05" height="16.42" fill="#42ffbd"/>
</g>
<rect x="1074.6" y="985.0" width="376.1" height="193.4" fill="none" stroke="#4d4d4d" stroke-width="1.6"/>
<rect x="1465.4" y="985.0" width="20.8" height="193.6" fill="url(#jetv)" stroke="#444" stroke-width="1.4"/>
<text x="39.8" y="940.6" font-size="44.5" stroke="#000" stroke-width="0.53" stroke-linejoin="round" >d</text>
<text x="97.5" y="963.0" font-size="28.2" stroke="#000" stroke-width="0.34" stroke-linejoin="round" textLength="94.5" lengthAdjust="spacingAndGlyphs" >2.2 min</text>
<text x="233.0" y="956.0" font-size="28.5" stroke="#000" stroke-width="0.34" stroke-linejoin="round" textLength="113.0" lengthAdjust="spacingAndGlyphs" >ZT 17-19</text>
<rect x="115.6" y="972.2" width="59.5" height="1.7" fill="#f00"/>
<text x="452.5" y="973.5" font-size="22.5" stroke="#000" stroke-width="0.27" stroke-linejoin="round" textLength="62.0" lengthAdjust="spacingAndGlyphs" ><tspan font-family="Noto Sans CJK SC, sans-serif" style="font-weight:900" font-size="17.1">&#9651;</tspan><tspan dx="2.7">F/F</tspan><tspan font-size="13.9" dy="3.6">0</tspan></text>
<text x="487.0" y="1005.0" font-size="22" stroke="#000" stroke-width="0.26" stroke-linejoin="round" >1</text>
<text x="486.5" y="1092.0" font-size="22" stroke="#000" stroke-width="0.26" stroke-linejoin="round" >0</text>
<text x="485.5" y="1179.5" font-size="22" stroke="#000" stroke-width="0.26" stroke-linejoin="round" >-1</text>
<text x="2.0" y="1029.0" font-size="24.5" stroke="#000" stroke-width="0.29" stroke-linejoin="round" textLength="56.0" lengthAdjust="spacingAndGlyphs" >DN1a</text>
<text x="1.0" y="1106.5" font-size="24.5" stroke="#000" stroke-width="0.29" stroke-linejoin="round" textLength="57.0" lengthAdjust="spacingAndGlyphs" >DN1p</text>
<text x="15.0" y="1175.5" font-size="24.5" stroke="#000" stroke-width="0.29" stroke-linejoin="round" textLength="43.0" lengthAdjust="spacingAndGlyphs" >DN2</text>
<path d="M76.5,986.5 H65 V1034.0 H76.5" fill="none" stroke="#000" stroke-width="1.6"/>
<path d="M76.5,1050.5 H65 V1136.5 H76.5" fill="none" stroke="#000" stroke-width="1.6"/>
<path d="M76.5,1150.0 H65 V1173.5 H76.5" fill="none" stroke="#000" stroke-width="1.6"/>
<path d="M81.5,1229.3 L166.5,1229.3 C169.0,1229.3 169.0,1263.1 173.5,1263.1 C177.0,1263.1 177.5,1255.9 184.5,1255.9 L338.2,1255.9 C340.7,1255.9 340.2,1222.1 343.7,1222.1 C346.7,1222.1 347.2,1229.3 354.2,1229.3 L452.0,1229.3" fill="none" stroke="#000" stroke-width="3.0" stroke-linejoin="round"/>
<text x="13.6" y="1260.3" font-size="24" stroke="#000" stroke-width="0.29" stroke-linejoin="round" textLength="78.5" lengthAdjust="spacingAndGlyphs" >cooling</text>
<text x="468.5" y="1244.3" font-size="22.5" stroke="#000" stroke-width="0.27" stroke-linejoin="round" textLength="44.5" lengthAdjust="spacingAndGlyphs" >24<tspan font-family="Noto Sans CJK SC, sans-serif" style="font-weight:500">&#8451;</tspan></text>
<text x="469.5" y="1270.0" font-size="22.5" stroke="#000" stroke-width="0.27" stroke-linejoin="round" textLength="44.5" lengthAdjust="spacingAndGlyphs" >18<tspan font-family="Noto Sans CJK SC, sans-serif" style="font-weight:500">&#8451;</tspan></text>
<text x="535.0" y="940.0" font-size="44.5" stroke="#000" stroke-width="0.53" stroke-linejoin="round" >e</text>
<text x="657.2" y="961.7" font-size="27.7" stroke="#000" stroke-width="0.33" stroke-linejoin="round" textLength="233.5" lengthAdjust="spacingAndGlyphs" >DN1a &gt; GCaMP6s</text>
<polygon points="579.5,1030.6 590.1,1028.0 595.8,1036.8 601.0,1028.3 606.9,1032.8 612.3,1028.0 618.5,1033.2 623.8,1034.2 630.3,1033.2 646.9,1034.8 651.9,1041.9 657.7,1030.0 663.4,1015.9 669.7,1031.5 680.0,1096.5 686.5,1096.5 691.8,1113.2 703.0,1127.6 708.1,1105.3 713.7,1125.5 719.2,1111.1 726.1,1104.8 732.0,1102.4 736.7,1104.0 742.6,1105.2 749.1,1108.8 753.9,1097.7 765.7,1094.8 770.0,1096.5 776.5,1083.2 782.4,1084.2 787.7,1104.3 793.6,1092.0 799.0,1089.0 804.9,1077.7 810.8,1085.3 816.1,1086.8 821.4,1076.9 826.8,1077.9 833.3,1080.5 838.6,1074.5 843.9,1081.7 850.4,1074.4 855.1,1058.1 859.3,1018.2 863.4,1001.7 866.4,979.8 872.3,977.3 878.2,976.3 883.5,960.9 888.8,980.3 895.3,971.9 900.1,989.6 906.0,991.7 912.5,991.1 917.2,993.0 923.7,988.9 929.0,1010.5 933.8,994.7 940.3,991.3 945.6,1016.9 951.5,1016.4 956.8,1029.9 962.7,1043.5 967.7,1048.6 967.7,1072.7 962.7,1066.2 956.8,1051.0 951.5,1037.7 945.6,1035.8 940.3,1021.4 933.8,1028.3 929.0,1036.0 923.7,1010.4 917.2,1017.1 912.5,1016.7 906.0,1012.3 900.1,1013.5 895.3,1005.3 888.8,998.7 883.5,989.9 878.2,1000.5 872.3,1007.0 866.4,997.8 863.4,1019.7 859.3,1056.3 855.1,1085.3 850.4,1112.7 843.9,1117.4 838.6,1108.8 833.3,1108.8 826.8,1105.7 821.4,1105.1 816.1,1120.2 810.8,1107.2 804.9,1106.5 799.0,1122.2 793.6,1123.1 787.7,1140.3 782.4,1119.8 776.5,1115.9 770.0,1118.1 765.7,1127.6 753.9,1123.8 749.1,1140.8 742.6,1139.7 736.7,1130.7 732.0,1134.8 726.1,1139.0 719.2,1134.6 713.7,1152.8 708.1,1130.9 703.0,1156.3 691.8,1139.8 686.5,1116.5 680.0,1116.5 669.7,1047.5 663.4,1072.9 657.7,1044.0 651.9,1044.9 646.9,1037.8 630.3,1036.2 623.8,1037.2 618.5,1036.2 612.3,1031.0 606.9,1035.8 601.0,1031.3 595.8,1039.8 590.1,1031.0 579.5,1033.6" fill="#c6dcf8"/>
<polyline points="579.5,1032.1 590.1,1029.5 595.8,1038.3 601.0,1029.8 606.9,1034.3 612.3,1029.5 618.5,1034.7 623.8,1035.7 630.3,1034.7 646.9,1036.3 651.9,1043.4 657.7,1038.0 663.4,1044.9 669.7,1039.5 680.0,1102.5 686.5,1102.5 691.8,1123.8 703.0,1139.7 708.1,1120.2 713.7,1133.6 719.2,1122.0 726.1,1123.8 732.0,1119.6 736.7,1119.0 742.6,1120.2 749.1,1122.6 753.9,1113.1 765.7,1111.1 770.0,1107.8 776.5,1100.7 782.4,1100.1 787.7,1120.2 793.6,1104.3 799.0,1101.9 804.9,1095.4 810.8,1094.8 816.1,1105.4 821.4,1091.8 826.8,1091.5 833.3,1092.4 838.6,1088.9 843.9,1097.2 850.4,1091.8 855.1,1073.5 859.3,1035.7 863.4,1009.7 866.4,987.8 872.3,991.3 878.2,988.4 883.5,974.2 888.8,988.1 895.3,985.4 900.1,995.5 906.0,1000.8 912.5,999.0 917.2,1006.7 923.7,1000.0 929.0,1022.7 933.8,1008.5 940.3,1001.4 945.6,1025.0 951.5,1027.4 956.8,1036.9 962.7,1054.6 967.7,1054.0" fill="none" stroke="#5aa2f8" stroke-width="3.4" stroke-linejoin="round" stroke-linecap="round" />
<text transform="translate(557.4 1131.5) rotate(-90)" font-size="24" stroke="#000" stroke-width="0.29" stroke-linejoin="round" textLength="69.0" lengthAdjust="spacingAndGlyphs" ><tspan font-family="Noto Sans CJK SC, sans-serif" style="font-weight:900" font-size="18.2">&#9651;</tspan><tspan dx="2.9">F/F</tspan><tspan font-size="14.9" dy="3.8">0</tspan></text>
<text transform="translate(588.8 1131.5) rotate(-90)" font-size="24" stroke="#000" stroke-width="0.29" stroke-linejoin="round" textLength="66.5" lengthAdjust="spacingAndGlyphs" >(20%)</text>
<path d="M635.3,1080.6 H599.9 V1107.8" fill="none" stroke="#000" stroke-width="4.4"/>
<text x="597.8" y="1139.7" font-size="24.2" stroke="#000" stroke-width="0.29" stroke-linejoin="round" textLength="56.5" lengthAdjust="spacingAndGlyphs" >Time</text>
<text x="571.2" y="1170.6" font-size="24.2" stroke="#000" stroke-width="0.29" stroke-linejoin="round" textLength="109.5" lengthAdjust="spacingAndGlyphs" >( 2.2 min)</text>
<path d="M583.9,1230.4 L674.0,1230.4 C676.5,1230.4 676.5,1264.6 681.0,1264.6 C684.5,1264.6 685.0,1257.3 692.0,1257.3 L857.2,1257.3 C859.7,1257.3 859.2,1223.1 862.7,1223.1 C865.7,1223.1 866.2,1230.4 873.2,1230.4 L977.0,1230.4" fill="none" stroke="#000" stroke-width="3.0" stroke-linejoin="round"/>
<text x="532.6" y="1244.3" font-size="22.5" stroke="#000" stroke-width="0.27" stroke-linejoin="round" textLength="44.5" lengthAdjust="spacingAndGlyphs" >24<tspan font-family="Noto Sans CJK SC, sans-serif" style="font-weight:500">&#8451;</tspan></text>
<text x="533.6" y="1270.0" font-size="22.5" stroke="#000" stroke-width="0.27" stroke-linejoin="round" textLength="44.5" lengthAdjust="spacingAndGlyphs" >18<tspan font-family="Noto Sans CJK SC, sans-serif" style="font-weight:500">&#8451;</tspan></text>
<text x="1068.0" y="940.0" font-size="44.5" stroke="#000" stroke-width="0.53" stroke-linejoin="round" >g</text>
<text x="1102.0" y="966.5" font-size="28.2" stroke="#000" stroke-width="0.34" stroke-linejoin="round" textLength="94.5" lengthAdjust="spacingAndGlyphs" >2.2 min</text>
<text x="1258.5" y="958.5" font-size="28.5" stroke="#000" stroke-width="0.34" stroke-linejoin="round" textLength="114.0" lengthAdjust="spacingAndGlyphs" >ZT 17-19</text>
<rect x="1120.5" y="975.6" width="59.5" height="1.7" fill="#f00"/>
<text x="1444.0" y="978.0" font-size="22.5" stroke="#000" stroke-width="0.27" stroke-linejoin="round" textLength="62.0" lengthAdjust="spacingAndGlyphs" ><tspan font-family="Noto Sans CJK SC, sans-serif" style="font-weight:900" font-size="17.1">&#9651;</tspan><tspan dx="2.7">F/F</tspan><tspan font-size="13.9" dy="3.6">0</tspan></text>
<text x="1492.0" y="1004.5" font-size="22" stroke="#000" stroke-width="0.26" stroke-linejoin="round" >1</text>
<text x="1491.5" y="1094.0" font-size="22" stroke="#000" stroke-width="0.26" stroke-linejoin="round" >0</text>
<text x="1490.0" y="1183.0" font-size="22" stroke="#000" stroke-width="0.26" stroke-linejoin="round" >-1</text>
<text x="991.0" y="1032.0" font-size="24.5" stroke="#000" stroke-width="0.29" stroke-linejoin="round" textLength="57.0" lengthAdjust="spacingAndGlyphs" >DN1a</text>
<text x="990.0" y="1108.5" font-size="24.5" stroke="#000" stroke-width="0.29" stroke-linejoin="round" textLength="58.0" lengthAdjust="spacingAndGlyphs" >DN1p</text>
<text x="1004.0" y="1178.5" font-size="24.5" stroke="#000" stroke-width="0.29" stroke-linejoin="round" textLength="44.0" lengthAdjust="spacingAndGlyphs" >DN2</text>
<path d="M1067.5,991.5 H1056 V1038.5 H1067.5" fill="none" stroke="#000" stroke-width="1.6"/>
<path d="M1067.5,1053.5 H1056 V1138.5 H1067.5" fill="none" stroke="#000" stroke-width="1.6"/>
<path d="M1067.5,1153.0 H1056 V1176.0 H1067.5" fill="none" stroke="#000" stroke-width="1.6"/>
<path d="M1071.8,1259.4 L1158.6,1259.4 C1161.1,1259.4 1161.1,1228.8 1165.6,1228.8 C1169.1,1228.8 1169.6,1235.3 1176.6,1235.3 L1332.5,1235.3 C1335.0,1235.3 1334.5,1265.9 1338.0,1265.9 C1341.0,1265.9 1341.5,1259.4 1348.5,1259.4 L1443.7,1259.4" fill="none" stroke="#000" stroke-width="3.0" stroke-linejoin="round"/>
<text x="1020.5" y="1237.7" font-size="24" stroke="#000" stroke-width="0.29" stroke-linejoin="round" textLength="79.0" lengthAdjust="spacingAndGlyphs" >heating</text>
<text x="1450.3" y="1241.5" font-size="22.5" stroke="#000" stroke-width="0.27" stroke-linejoin="round" textLength="44.5" lengthAdjust="spacingAndGlyphs" >30<tspan font-family="Noto Sans CJK SC, sans-serif" style="font-weight:500">&#8451;</tspan></text>
<text x="1450.3" y="1267.0" font-size="22.5" stroke="#000" stroke-width="0.27" stroke-linejoin="round" textLength="44.5" lengthAdjust="spacingAndGlyphs" >22<tspan font-family="Noto Sans CJK SC, sans-serif" style="font-weight:500">&#8451;</tspan></text>
<text x="1560.0" y="940.0" font-size="44.5" stroke="#000" stroke-width="0.53" stroke-linejoin="round" >h</text>
<text x="1655.0" y="961.5" font-size="27.7" stroke="#000" stroke-width="0.33" stroke-linejoin="round" textLength="235.0" lengthAdjust="spacingAndGlyphs" >DN1a &gt; GCaMP6s</text>
<polygon points="1577.0,1144.1 1582.8,1144.8 1590.3,1142.1 1598.4,1141.4 1605.1,1139.4 1609.9,1140.7 1616.6,1143.4 1622.7,1142.1 1628.1,1141.0 1633.5,1141.4 1638.9,1146.1 1644.3,1152.9 1650.4,1171.8 1655.8,1142.1 1661.6,1165.0 1672.7,1135.3 1678.1,1096.1 1684.2,1049.5 1695.0,1009.7 1701.1,1037.6 1706.5,1037.3 1712.6,1026.7 1718.6,1027.2 1724.1,1033.6 1729.5,1036.2 1740.5,1005.6 1747.0,1031.5 1751.8,1037.3 1757.5,1010.1 1763.1,1045.7 1768.3,1030.6 1775.0,1039.0 1780.4,1037.1 1785.2,1044.6 1791.0,1070.4 1796.6,1014.9 1802.1,1018.9 1808.1,1020.1 1813.8,1028.2 1819.6,1028.7 1825.3,1008.4 1830.4,1006.1 1836.5,1019.4 1841.9,1026.2 1848.0,1024.7 1853.4,1012.8 1858.8,1034.8 1864.2,1085.5 1869.6,1133.4 1875.7,1181.5 1881.5,1152.8 1887.2,1169.4 1893.3,1179.1 1898.7,1175.6 1904.8,1174.7 1910.2,1170.5 1915.8,1178.6 1921.6,1173.2 1927.1,1129.2 1932.5,1165.3 1938.3,1145.5 1943.9,1152.8 1949.4,1139.4 1954.8,1134.7 1960.8,1154.2 1966.9,1141.5 1966.9,1148.1 1960.8,1161.7 1954.8,1143.2 1949.4,1149.2 1943.9,1163.4 1938.3,1152.8 1932.5,1174.2 1927.1,1140.2 1921.6,1181.7 1915.8,1188.5 1910.2,1178.6 1904.8,1186.3 1898.7,1184.5 1893.3,1188.5 1887.2,1175.5 1881.5,1161.6 1875.7,1190.0 1869.6,1144.1 1864.2,1094.5 1858.8,1045.3 1853.4,1023.6 1848.0,1038.5 1841.9,1036.1 1836.5,1029.5 1830.4,1017.5 1825.3,1015.7 1819.6,1037.9 1813.8,1041.4 1808.1,1036.0 1802.1,1031.7 1796.6,1028.2 1791.0,1083.9 1785.2,1061.7 1780.4,1045.7 1775.0,1050.2 1768.3,1041.1 1763.1,1057.3 1757.5,1021.7 1751.8,1050.5 1747.0,1038.9 1740.5,1018.3 1729.5,1046.5 1724.1,1045.7 1718.6,1042.8 1712.6,1035.7 1706.5,1053.2 1701.1,1054.1 1695.0,1023.9 1684.2,1053.5 1678.1,1100.1 1672.7,1139.3 1661.6,1169.0 1655.8,1146.1 1650.4,1175.8 1644.3,1156.9 1638.9,1150.1 1633.5,1145.4 1628.1,1145.0 1622.7,1146.1 1616.6,1147.4 1609.9,1144.7 1605.1,1143.4 1598.4,1145.4 1590.3,1146.1 1582.8,1148.8 1577.0,1148.1" fill="#fbaeb2"/>
<polyline points="1577.0,1146.1 1582.8,1146.8 1590.3,1144.1 1598.4,1143.4 1605.1,1141.4 1609.9,1142.7 1616.6,1145.4 1622.7,1144.1 1628.1,1143.0 1633.5,1143.4 1638.9,1148.1 1644.3,1154.9 1650.4,1173.8 1655.8,1144.1 1661.6,1167.0 1672.7,1137.3 1678.1,1098.1 1684.2,1051.5 1695.0,1016.4 1701.1,1045.4 1706.5,1044.7 1712.6,1029.9 1718.6,1035.9 1724.1,1042.0 1729.5,1042.0 1740.5,1011.9 1747.0,1034.6 1751.8,1042.0 1757.5,1017.7 1763.1,1053.5 1768.3,1037.3 1775.0,1042.0 1780.4,1041.4 1785.2,1053.5 1791.0,1075.1 1796.6,1021.1 1802.1,1023.1 1808.1,1027.2 1813.8,1036.6 1819.6,1033.9 1825.3,1012.3 1830.4,1010.9 1836.5,1022.4 1841.9,1031.2 1848.0,1032.6 1853.4,1017.7 1858.8,1042.0 1864.2,1091.4 1869.6,1138.6 1875.7,1184.6 1881.5,1156.9 1887.2,1172.4 1893.3,1182.6 1898.7,1179.2 1904.8,1180.5 1910.2,1174.5 1915.8,1183.2 1921.6,1176.5 1927.1,1134.6 1932.5,1168.4 1938.3,1148.8 1943.9,1157.6 1949.4,1143.4 1954.8,1139.3 1960.8,1158.2 1966.9,1144.7" fill="none" stroke="#f9414a" stroke-width="3.8" stroke-linejoin="round" stroke-linecap="round" />
<text transform="translate(1545.5 1073.8) rotate(-90)" font-size="24" stroke="#000" stroke-width="0.29" stroke-linejoin="round" textLength="69.0" lengthAdjust="spacingAndGlyphs" ><tspan font-family="Noto Sans CJK SC, sans-serif" style="font-weight:900" font-size="18.2">&#9651;</tspan><tspan dx="2.9">F/F</tspan><tspan font-size="14.9" dy="3.8">0</tspan></text>
<text transform="translate(1576.5 1073.8) rotate(-90)" font-size="24" stroke="#000" stroke-width="0.29" stroke-linejoin="round" textLength="66.5" lengthAdjust="spacingAndGlyphs" >(20%)</text>
<path d="M1590.8,1024.5 V1050 H1626.8" fill="none" stroke="#000" stroke-width="4.4"/>
<text x="1581.5" y="1081.9" font-size="24.2" stroke="#000" stroke-width="0.29" stroke-linejoin="round" textLength="56.5" lengthAdjust="spacingAndGlyphs" >Time</text>
<text x="1557.2" y="1111.6" font-size="24.2" stroke="#000" stroke-width="0.29" stroke-linejoin="round" textLength="109.5" lengthAdjust="spacingAndGlyphs" >( 2.2 min)</text>
<path d="M1573.0,1258.0 L1664.8,1258.0 C1667.3,1258.0 1667.3,1227.5 1671.8,1227.5 C1675.3,1227.5 1675.8,1234.0 1682.8,1234.0 L1849.0,1234.0 C1851.5,1234.0 1851.0,1264.5 1854.5,1264.5 C1857.5,1264.5 1858.0,1258.0 1865.0,1258.0 L1967.0,1258.0" fill="none" stroke="#000" stroke-width="3.0" stroke-linejoin="round"/>
<text x="1518.8" y="1241.5" font-size="22.5" stroke="#000" stroke-width="0.27" stroke-linejoin="round" textLength="44.5" lengthAdjust="spacingAndGlyphs" >30<tspan font-family="Noto Sans CJK SC, sans-serif" style="font-weight:500">&#8451;</tspan></text>
<text x="1518.8" y="1267.0" font-size="22.5" stroke="#000" stroke-width="0.27" stroke-linejoin="round" textLength="44.5" lengthAdjust="spacingAndGlyphs" >22<tspan font-family="Noto Sans CJK SC, sans-serif" style="font-weight:500">&#8451;</tspan></text>
<text x="42.0" y="1383.5" font-size="44.5" stroke="#000" stroke-width="0.53" stroke-linejoin="round" >i</text>
<g transform="translate(29.1 1397.0)" clip-path="url(#cli)">
<g filter="url(#brTex)">
<rect x="-12" y="-12" width="449.5" height="275.9" fill="#000"/>
<ellipse cx="211.6" cy="69.0" rx="106.4" ry="43.0" transform="rotate(0 211.6 69.0)" fill="rgb(48,48,48)" fill-opacity="1.0"/>
<ellipse cx="211.6" cy="127.9" rx="113.2" ry="40.7" transform="rotate(0 211.6 127.9)" fill="rgb(40,40,40)" fill-opacity="1.0"/>
<ellipse cx="208.2" cy="182.2" rx="56.6" ry="40.7" transform="rotate(0 208.2 182.2)" fill="rgb(45,45,45)" fill-opacity="1.0"/>
<ellipse cx="55.4" cy="148.2" rx="45.3" ry="72.4" transform="rotate(10 55.4 148.2)" fill="rgb(70,70,70)" fill-opacity="1.0"/>
<ellipse cx="47.5" cy="139.2" rx="29.4" ry="52.1" transform="rotate(10 47.5 139.2)" fill="rgb(105,105,105)" fill-opacity="1.0"/>
<ellipse cx="364.4" cy="160.7" rx="47.5" ry="77.0" transform="rotate(-14 364.4 160.7)" fill="rgb(78,78,78)" fill-opacity="1.0"/>
<ellipse cx="375.7" cy="155.0" rx="29.4" ry="54.3" transform="rotate(-14 375.7 155.0)" fill="rgb(112,112,112)" fill-opacity="1.0"/>
<ellipse cx="385.9" cy="215.0" rx="11.3" ry="15.8" transform="rotate(30 385.9 215.0)" fill="rgb(230,230,230)" fill-opacity="1.0"/>
<ellipse cx="305.5" cy="186.7" rx="18.1" ry="27.2" transform="rotate(0 305.5 186.7)" fill="rgb(45,45,45)" fill-opacity="1.0"/>
<ellipse cx="108.6" cy="177.7" rx="13.6" ry="22.6" transform="rotate(0 108.6 177.7)" fill="rgb(30,30,30)" fill-opacity="1.0"/>
<ellipse cx="97.3" cy="71.3" rx="11.3" ry="18.1" transform="rotate(0 97.3 71.3)" fill="rgb(45,45,45)" fill-opacity="1.0"/>
<ellipse cx="323.6" cy="78.1" rx="11.3" ry="18.1" transform="rotate(0 323.6 78.1)" fill="rgb(45,45,45)" fill-opacity="1.0"/>
<ellipse cx="131.2" cy="53.2" rx="28.3" ry="27.2" transform="rotate(-10 131.2 53.2)" fill="rgb(70,70,70)" fill-opacity="1.0"/>
<ellipse cx="291.9" cy="53.2" rx="28.3" ry="27.2" transform="rotate(10 291.9 53.2)" fill="rgb(70,70,70)" fill-opacity="1.0"/>
<ellipse cx="185.6" cy="58.8" rx="27.2" ry="31.7" transform="rotate(0 185.6 58.8)" fill="rgb(85,85,85)" fill-opacity="1.0"/>
<ellipse cx="242.1" cy="58.8" rx="27.2" ry="31.7" transform="rotate(0 242.1 58.8)" fill="rgb(90,90,90)" fill-opacity="1.0"/>
<ellipse cx="126.7" cy="123.3" rx="27.2" ry="32.8" transform="rotate(0 126.7 123.3)" fill="rgb(60,60,60)" fill-opacity="1.0"/>
<ellipse cx="297.6" cy="130.1" rx="27.2" ry="32.8" transform="rotate(0 297.6 130.1)" fill="rgb(66,66,66)" fill-opacity="1.0"/>
<ellipse cx="183.3" cy="118.8" rx="26.7" ry="29.0" transform="rotate(0 183.3 118.8)" fill="rgb(120,120,120)" fill-opacity="1.0"/>
<ellipse cx="239.9" cy="118.8" rx="26.7" ry="29.0" transform="rotate(0 239.9 118.8)" fill="rgb(125,125,125)" fill-opacity="1.0"/>
<ellipse cx="207.1" cy="186.7" rx="48.7" ry="36.2" transform="rotate(0 207.1 186.7)" fill="rgb(80,80,80)" fill-opacity="1.0"/>
<ellipse cx="230.8" cy="186.7" rx="18.1" ry="15.8" transform="rotate(0 230.8 186.7)" fill="rgb(115,115,115)" fill-opacity="1.0"/>
<line x1="211.6" y1="35.1" x2="211.6" y2="209.3" stroke="#000" stroke-width="3" stroke-opacity="0.8"/>
</g>
<ellipse cx="135.8" cy="22.6" rx="3.2" ry="2.7" transform="rotate(0 135.8 22.6)" fill="#3fe4f0" fill-opacity="1.0" filter="url(#cyBlur)"/>
<ellipse cx="148.2" cy="40.0" rx="3.6" ry="2.0" transform="rotate(20 148.2 40.0)" fill="#3fe4f0" fill-opacity="1.0" filter="url(#cyBlur)"/>
<polyline points="135.8,23.7 126.7,37.3 131.2,50.9 135.8,57.7" fill="none" stroke="#3fe4f0" stroke-width="1.4" stroke-opacity="1.0" stroke-linecap="round" stroke-linejoin="round" filter="url(#cyBlur)"/>
<polyline points="147.1,40.7 138.0,41.9 129.0,39.6" fill="none" stroke="#3fe4f0" stroke-width="1.2" stroke-opacity="1.0" stroke-linecap="round" stroke-linejoin="round" filter="url(#cyBlur)"/>
<ellipse cx="133.5" cy="62.2" rx="13.6" ry="6.8" transform="rotate(-25 133.5 62.2)" fill="#3fe4f0" fill-opacity="0.95" filter="url(#cyBlur2)"/>
<ellipse cx="125.6" cy="76.9" rx="6.3" ry="9.1" transform="rotate(15 125.6 76.9)" fill="#3fe4f0" fill-opacity="0.8" filter="url(#cyBlur2)"/>
<polyline points="121.0,82.6 114.9,96.2 114.3,109.8 116.5,123.3 121.0,130.1 126.3,134.2 117.7,141.4 104.1,144.8 92.8,149.4 87.8,153.9 86.0,160.0" fill="none" stroke="#3fe4f0" stroke-width="1.6" stroke-opacity="1.0" stroke-linecap="round" stroke-linejoin="round" filter="url(#cyBlur)"/>
<ellipse cx="86.4" cy="159.6" rx="2.3" ry="1.8" transform="rotate(0 86.4 159.6)" fill="#3fe4f0" fill-opacity="0.9" filter="url(#cyBlur)"/>
<ellipse cx="261.4" cy="36.9" rx="2.7" ry="5.0" transform="rotate(-30 261.4 36.9)" fill="#3fe4f0" fill-opacity="1.0" filter="url(#cyBlur)"/>
<polyline points="262.5,38.5 273.8,46.4 289.7,50.9 298.7,57.7" fill="none" stroke="#3fe4f0" stroke-width="1.3" stroke-opacity="1.0" stroke-linecap="round" stroke-linejoin="round" filter="url(#cyBlur)"/>
<ellipse cx="285.2" cy="65.6" rx="15.8" ry="5.0" transform="rotate(25 285.2 65.6)" fill="#3fe4f0" fill-opacity="0.95" filter="url(#cyBlur2)"/>
<ellipse cx="297.6" cy="78.1" rx="5.9" ry="12.4" transform="rotate(-20 297.6 78.1)" fill="#3fe4f0" fill-opacity="0.85" filter="url(#cyBlur2)"/>
<ellipse cx="298.3" cy="57.2" rx="2.3" ry="1.8" transform="rotate(0 298.3 57.2)" fill="#3fe4f0" fill-opacity="1.0" filter="url(#cyBlur)"/>
<polyline points="302.1,89.4 306.0,100.7 306.7,114.3 303.3,127.9 299.2,136.9 303.3,146.4 314.6,149.4 325.9,150.0 331.6,156.2 338.3,166.3 344.5,173.6" fill="none" stroke="#3fe4f0" stroke-width="1.6" stroke-opacity="1.0" stroke-linecap="round" stroke-linejoin="round" filter="url(#cyBlur)"/>
<polyline points="303.3,146.4 305.5,155.0 316.8,157.3 328.2,152.8" fill="none" stroke="#3fe4f0" stroke-width="1.0" stroke-opacity="0.8" stroke-linecap="round" stroke-linejoin="round" filter="url(#cyBlur)"/>
<ellipse cx="157.3" cy="158.4" rx="9.5" ry="15.8" transform="rotate(10 157.3 158.4)" fill="#2fb4c4" fill-opacity="0.6" filter="url(#cyBlur2)"/>
<ellipse cx="261.4" cy="160.7" rx="9.5" ry="15.8" transform="rotate(-10 261.4 160.7)" fill="#2fb4c4" fill-opacity="0.6" filter="url(#cyBlur2)"/>
<ellipse cx="396.1" cy="157.7" rx="1.6" ry="1.6" transform="rotate(0 396.1 157.7)" fill="#3fe4f0" fill-opacity="0.9" filter="url(#cyBlur)"/>
<ellipse cx="419.4" cy="153.2" rx="1.6" ry="1.6" transform="rotate(0 419.4 153.2)" fill="#3fe4f0" fill-opacity="0.9" filter="url(#cyBlur)"/>
<ellipse cx="259.3" cy="194.0" rx="1.6" ry="1.6" transform="rotate(0 259.3 194.0)" fill="#3fe4f0" fill-opacity="0.9" filter="url(#cyBlur)"/>
<ellipse cx="411.9" cy="164.5" rx="1.1" ry="1.1" transform="rotate(0 411.9 164.5)" fill="#3fe4f0" fill-opacity="0.9" filter="url(#cyBlur)"/>
<ellipse cx="99.5" cy="149.4" rx="1.4" ry="1.4" transform="rotate(0 99.5 149.4)" fill="#3fe4f0" fill-opacity="0.9" filter="url(#cyBlur)"/>
</g>
<text x="39.9" y="1598.4" font-size="24.5" fill="#fff" stroke="#fff" stroke-width="0.29" stroke-linejoin="round" textLength="104.0" lengthAdjust="spacingAndGlyphs" >DN1a-spl</text>
<text x="39.2" y="1628.5" font-size="24.5" fill="#41d9e2" stroke="#41d9e2" stroke-width="0.29" stroke-linejoin="round" textLength="167.5" lengthAdjust="spacingAndGlyphs" >Anti-tdTomato</text>
<rect x="395.7" y="1628.3" width="47.1" height="6.4" fill="#fff"/>
<text x="491.0" y="1384.0" font-size="44.5" stroke="#000" stroke-width="0.53" stroke-linejoin="round" >j</text>
<polygon points="532.7,1407.4 535.6,1407.9 538.6,1404.3 545.0,1404.1 560.0,1402.5 590.0,1404.4 620.0,1406.4 630.0,1414.3 640.0,1433.3 650.0,1444.5 663.0,1455.3 670.3,1465.7 677.6,1469.8 685.0,1473.2 692.0,1483.2 699.6,1496.4 701.0,1489.2 708.0,1495.1 714.0,1503.3 720.1,1502.6 725.9,1505.2 734.7,1489.9 740.0,1484.1 746.0,1485.8 753.7,1489.1 755.1,1502.6 758.1,1490.7 763.2,1478.7 772.7,1470.2 778.6,1473.6 784.4,1466.4 790.3,1465.6 796.1,1474.4 805.0,1476.4 815.0,1464.0 825.4,1453.9 827.6,1461.0 835.0,1456.3 845.0,1446.3 850.3,1427.3 856.9,1404.2 869.3,1391.8 880.0,1396.0 890.0,1398.8 900.0,1406.4 910.0,1396.0 918.0,1399.0 922.0,1427.0 922.8,1454.0 925.0,1403.7 934.5,1356.4 939.6,1401.2 946.6,1406.2 946.6,1419.0 939.6,1413.7 934.5,1366.8 925.0,1414.2 922.8,1463.9 922.0,1435.5 918.0,1410.3 910.0,1405.0 900.0,1418.1 890.0,1411.6 880.0,1405.6 869.3,1403.7 856.9,1418.1 850.3,1436.3 845.0,1455.7 835.0,1466.6 827.6,1471.9 825.4,1464.9 815.0,1474.6 805.0,1484.2 796.1,1483.0 790.3,1479.3 784.4,1475.3 778.6,1484.6 772.7,1480.2 763.2,1491.0 758.1,1503.0 755.1,1510.7 753.7,1503.2 746.0,1497.5 740.0,1495.6 734.7,1498.4 725.9,1514.5 720.1,1515.7 714.0,1518.1 708.0,1505.1 701.0,1500.9 699.6,1508.1 692.0,1495.4 685.0,1482.4 677.6,1478.6 670.3,1475.0 663.0,1463.1 650.0,1456.5 640.0,1448.0 630.0,1424.1 620.0,1417.3 590.0,1413.2 560.0,1415.2 545.0,1414.1 538.6,1415.7 535.6,1420.3 532.7,1418.5" fill="#c8ddf8"/>
<polyline points="532.7,1412.2 535.6,1414.4 538.6,1409.3 545.0,1408.0 560.0,1408.0 590.0,1408.0 620.0,1410.0 630.0,1420.0 640.0,1440.0 650.0,1450.0 663.0,1459.1 670.3,1470.8 677.6,1473.7 685.0,1476.6 692.0,1488.0 699.6,1501.5 701.0,1494.2 708.0,1500.0 714.0,1510.0 720.1,1508.8 725.9,1509.6 734.7,1494.2 740.0,1490.0 746.0,1492.0 753.7,1495.7 755.1,1505.9 758.1,1497.1 763.2,1485.4 772.7,1473.7 778.6,1479.6 784.4,1470.0 790.3,1472.2 796.1,1478.1 805.0,1480.0 815.0,1470.0 825.4,1459.1 827.6,1464.9 835.0,1460.0 845.0,1450.0 850.3,1431.3 856.9,1410.8 869.3,1396.1 880.0,1400.0 890.0,1405.0 900.0,1410.0 910.0,1400.0 918.0,1405.0 922.0,1431.3 922.8,1457.6 925.0,1407.8 934.5,1361.0 939.6,1407.8 946.6,1411.5" fill="none" stroke="#5ea4f8" stroke-width="4.2" stroke-linejoin="round" stroke-linecap="round" />
<polygon points="532.7,1401.5 550.3,1398.6 556.1,1403.1 586.9,1402.2 608.8,1402.1 611.8,1404.1 624.9,1402.6 629.3,1404.0 630.8,1410.2 633.7,1448.3 637.4,1469.3 640.3,1495.3 649.8,1489.2 658.6,1503.8 664.5,1491.2 670.3,1500.9 676.9,1518.3 682.8,1507.8 689.3,1528.0 699.6,1522.6 704.0,1527.6 712.8,1529.9 718.6,1520.3 724.5,1525.0 731.1,1518.2 734.7,1526.3 740.0,1529.3 750.0,1534.4 762.5,1535.1 766.8,1546.7 772.7,1542.9 778.6,1540.6 784.4,1539.2 791.0,1533.5 796.9,1530.1 802.7,1526.9 808.6,1520.8 815.2,1516.1 819.5,1506.9 822.5,1484.4 823.2,1461.5 824.7,1410.3 826.9,1409.9 844.4,1403.3 850.3,1368.3 856.9,1360.6 862.7,1356.6 868.6,1347.4 873.7,1385.4 881.0,1384.3 886.9,1375.0 895.7,1378.5 901.5,1385.5 910.3,1364.2 916.2,1373.7 922.8,1389.0 929.0,1378.6 935.0,1395.7 940.0,1400.8 946.0,1402.9 946.0,1413.7 940.0,1411.6 935.0,1406.3 929.0,1388.8 922.8,1399.8 916.2,1384.0 910.3,1373.4 901.5,1397.2 895.7,1388.9 886.9,1383.3 881.0,1397.7 873.7,1394.2 868.6,1354.8 862.7,1366.9 856.9,1368.1 850.3,1380.6 844.4,1411.7 826.9,1420.2 824.7,1421.8 823.2,1473.0 822.5,1492.6 819.5,1515.2 815.2,1526.1 808.6,1528.4 802.7,1536.5 796.9,1538.9 791.0,1544.1 784.4,1547.9 778.6,1550.5 772.7,1552.3 766.8,1557.8 762.5,1544.6 750.0,1542.1 740.0,1540.6 734.7,1535.3 731.1,1530.5 724.5,1537.4 718.6,1528.3 712.8,1540.1 704.0,1537.0 699.6,1532.5 689.3,1537.1 682.8,1517.0 676.9,1526.3 670.3,1509.2 664.5,1504.5 658.6,1512.4 649.8,1499.2 640.3,1504.8 637.4,1478.4 633.7,1457.5 630.8,1419.8 629.3,1414.2 624.9,1411.2 611.8,1414.9 608.8,1413.2 586.9,1412.5 556.1,1411.0 550.3,1407.9 532.7,1412.0" fill="#f8c8f0"/>
<polyline points="532.7,1406.4 550.3,1404.2 556.1,1406.4 586.9,1406.4 608.8,1407.8 611.8,1409.3 624.9,1406.4 629.3,1407.8 630.8,1413.7 633.7,1451.8 637.4,1473.7 640.3,1501.5 649.8,1492.7 658.6,1508.8 664.5,1497.9 670.3,1504.5 676.9,1522.0 682.8,1513.2 689.3,1533.7 699.6,1526.4 704.0,1532.3 712.8,1535.2 718.6,1524.9 724.5,1530.8 731.1,1524.9 734.7,1530.8 740.0,1535.0 750.0,1538.0 762.5,1539.6 766.8,1552.8 772.7,1546.2 778.6,1545.4 784.4,1543.2 791.0,1538.1 796.9,1533.7 802.7,1530.8 808.6,1524.2 815.2,1520.6 819.5,1510.3 822.5,1488.4 823.2,1466.4 824.7,1415.2 826.9,1413.7 844.4,1407.8 850.3,1374.2 856.9,1363.9 862.7,1362.5 868.6,1351.5 873.7,1388.8 881.0,1391.0 886.9,1380.0 895.7,1382.9 901.5,1391.7 910.3,1368.3 916.2,1378.6 922.8,1393.2 929.0,1385.0 935.0,1400.0 940.0,1405.0 946.0,1408.0" fill="none" stroke="#f452d8" stroke-width="4.4" stroke-linejoin="round" stroke-linecap="round" />
<polygon points="532.7,1406.0 538.6,1403.3 544.4,1403.3 550.3,1416.5 556.1,1397.3 562.0,1406.7 567.8,1405.9 582.5,1407.3 588.3,1405.2 600.0,1417.0 606.0,1435.1 611.0,1420.1 617.6,1402.5 622.7,1406.0 624.9,1415.5 627.9,1447.6 633.7,1442.3 638.8,1455.6 642.5,1476.1 645.4,1504.9 648.4,1520.7 652.7,1532.2 658.6,1535.8 664.5,1551.0 670.3,1539.2 676.2,1544.1 682.8,1538.0 689.3,1541.4 696.7,1539.4 706.2,1536.8 712.8,1540.9 718.6,1535.0 724.0,1540.3 730.2,1539.8 736.8,1528.6 743.4,1534.3 753.7,1529.4 761.0,1530.5 766.8,1509.6 772.7,1527.8 778.6,1528.0 791.0,1504.9 796.9,1514.9 802.7,1513.3 808.6,1506.7 815.2,1513.1 821.0,1519.9 826.9,1500.9 832.7,1520.8 838.6,1529.6 844.4,1489.1 850.3,1434.5 853.2,1402.0 856.9,1367.1 862.7,1364.8 868.6,1358.1 875.2,1370.8 881.0,1365.0 886.9,1384.8 892.0,1395.5 897.9,1422.7 898.6,1432.0 904.0,1416.7 910.0,1405.0 916.0,1407.8 922.0,1414.1 922.0,1425.1 926.4,1434.4 929.3,1449.0 934.5,1458.4 941.0,1456.5 946.6,1451.5 946.6,1460.6 941.0,1465.2 934.5,1466.0 929.3,1457.7 926.4,1441.7 922.0,1432.8 922.0,1421.7 916.0,1416.5 910.0,1414.2 904.0,1425.6 898.6,1442.9 897.9,1430.4 892.0,1404.3 886.9,1393.7 881.0,1375.6 875.2,1377.8 868.6,1367.9 862.7,1372.5 856.9,1375.8 853.2,1409.2 850.3,1443.8 844.4,1496.3 838.6,1537.1 832.7,1530.2 826.9,1509.2 821.0,1526.8 815.2,1521.8 808.6,1514.6 802.7,1522.7 796.9,1524.4 791.0,1513.5 778.6,1538.1 772.7,1537.4 766.8,1519.0 761.0,1539.9 753.7,1540.6 743.4,1544.4 736.8,1536.8 730.2,1550.9 724.0,1546.7 718.6,1546.1 712.8,1550.8 706.2,1545.1 696.7,1547.0 689.3,1548.8 682.8,1546.0 676.2,1553.0 670.3,1547.4 664.5,1559.3 658.6,1543.5 652.7,1540.8 648.4,1530.8 645.4,1516.0 642.5,1487.0 638.8,1462.8 633.7,1450.7 627.9,1456.6 624.9,1425.4 622.7,1415.5 617.6,1413.8 611.0,1430.9 606.0,1446.1 600.0,1426.3 588.3,1412.0 582.5,1417.6 567.8,1414.1 562.0,1414.8 556.1,1405.7 550.3,1423.5 544.4,1410.5 538.6,1414.0 532.7,1414.9" fill="#c8f8c8"/>
<polyline points="532.7,1409.3 538.6,1407.8 544.4,1406.4 550.3,1419.5 556.1,1402.0 562.0,1410.8 567.8,1409.3 582.5,1412.2 588.3,1407.8 600.0,1420.0 606.0,1440.0 611.0,1425.0 617.6,1407.8 622.7,1409.3 624.9,1419.5 627.9,1451.8 633.7,1445.9 638.8,1459.1 642.5,1481.0 645.4,1510.3 648.4,1524.9 652.7,1535.2 658.6,1539.6 664.5,1554.2 670.3,1542.5 676.2,1548.4 682.8,1541.0 689.3,1544.7 696.7,1542.5 706.2,1539.6 712.8,1546.2 718.6,1539.6 724.0,1543.0 730.2,1544.7 736.8,1533.0 743.4,1538.1 753.7,1534.5 761.0,1533.7 766.8,1513.2 772.7,1530.8 778.6,1532.3 791.0,1508.1 796.9,1519.1 802.7,1516.9 808.6,1510.3 815.2,1516.2 821.0,1522.8 826.9,1503.7 832.7,1525.0 838.6,1532.3 844.4,1492.7 850.3,1437.1 853.2,1404.9 856.9,1370.5 862.7,1367.6 868.6,1361.7 875.2,1373.4 881.0,1369.0 886.9,1388.8 892.0,1400.0 897.9,1425.4 898.6,1437.1 904.0,1420.0 910.0,1410.0 916.0,1412.0 922.0,1417.4 922.0,1428.3 926.4,1437.1 929.3,1451.8 934.5,1462.7 941.0,1461.3 946.6,1455.4" fill="none" stroke="#0cf20c" stroke-width="4.4" stroke-linejoin="round" stroke-linecap="round" />
<polygon points="532.7,1406.4 544.4,1400.1 556.1,1406.1 567.8,1402.9 576.6,1405.2 586.9,1404.6 592.7,1403.4 598.6,1385.5 604.4,1408.3 611.0,1417.4 617.6,1408.4 622.7,1426.5 628.6,1421.7 635.2,1423.4 641.0,1412.1 646.9,1429.5 653.5,1435.4 658.6,1412.2 665.9,1413.7 676.9,1437.6 682.8,1403.5 689.3,1443.2 694.5,1454.5 700.3,1437.1 706.2,1441.0 712.8,1447.1 718.6,1450.2 724.4,1436.7 731.0,1433.7 736.8,1441.7 743.4,1435.8 749.3,1454.6 755.1,1431.6 761.0,1441.7 766.8,1427.7 772.7,1417.6 779.3,1435.0 784.4,1418.6 791.0,1432.8 796.9,1418.6 802.7,1445.2 808.6,1430.7 815.2,1438.7 821.0,1432.6 826.9,1405.5 832.7,1427.9 844.4,1431.2 850.3,1404.8 856.9,1424.8 862.7,1382.8 868.6,1409.2 873.7,1392.0 881.0,1398.2 886.9,1401.1 892.7,1386.7 898.6,1397.7 904.5,1413.4 910.3,1391.7 916.9,1405.5 922.8,1317.8 929.3,1340.3 935.2,1394.1 940.3,1418.8 946.6,1383.6 946.6,1408.3 940.3,1439.2 935.2,1418.5 929.3,1390.5 922.8,1384.9 916.9,1427.8 910.3,1417.3 904.5,1433.5 898.6,1422.7 892.7,1414.0 886.9,1424.3 881.0,1420.9 873.7,1415.1 868.6,1430.3 862.7,1405.4 856.9,1442.4 850.3,1420.5 844.4,1473.3 832.7,1481.8 826.9,1463.5 821.0,1470.9 815.2,1481.8 808.6,1481.1 802.7,1485.3 796.9,1469.9 791.0,1480.8 784.4,1472.9 779.3,1480.5 772.7,1471.1 766.8,1463.3 761.0,1504.6 755.1,1475.2 749.3,1497.4 743.4,1483.4 736.8,1490.4 731.0,1485.9 724.4,1478.4 718.6,1495.6 712.8,1483.8 706.2,1487.1 700.3,1478.6 694.5,1504.8 689.3,1486.6 682.8,1458.6 676.9,1474.0 665.9,1466.6 658.6,1456.8 653.5,1493.1 646.9,1484.9 641.0,1466.7 635.2,1440.0 628.6,1439.7 622.7,1447.5 617.6,1432.2 611.0,1437.4 604.4,1431.2 598.6,1414.2 592.7,1423.4 586.9,1411.0 576.6,1411.2 567.8,1409.7 556.1,1411.1 544.4,1407.3 532.7,1412.0" fill="#fde0e0"/>
<polyline points="532.7,1408.6 544.4,1403.4 556.1,1408.6 567.8,1406.4 576.6,1407.8 586.9,1407.4 592.7,1413.7 598.6,1403.4 604.4,1416.6 611.0,1428.3 617.6,1418.8 622.7,1434.2 628.6,1429.1 635.2,1430.5 641.0,1441.5 646.9,1459.1 653.5,1459.1 658.6,1437.1 665.9,1437.1 676.9,1454.7 682.8,1431.3 689.3,1460.5 694.5,1472.2 700.3,1459.1 706.2,1467.9 712.8,1465.7 718.6,1475.9 724.4,1459.1 731.0,1455.4 736.8,1464.2 743.4,1457.6 749.3,1478.1 755.1,1453.2 761.0,1469.3 766.8,1443.0 772.7,1442.7 779.3,1449.6 784.4,1447.4 791.0,1452.5 796.9,1447.4 802.7,1464.2 808.6,1454.7 815.2,1456.9 821.0,1447.4 826.9,1434.9 832.7,1446.6 844.4,1451.0 850.3,1411.5 856.9,1432.7 862.7,1395.4 868.6,1417.4 873.7,1404.9 881.0,1410.0 886.9,1411.5 892.7,1399.8 898.6,1407.8 904.5,1422.5 910.3,1404.9 916.9,1417.4 922.8,1372.0 929.3,1374.9 935.2,1407.8 940.3,1430.5 946.6,1394.7" fill="none" stroke="#f87c7c" stroke-width="4.4" stroke-linejoin="round" stroke-linecap="round" />
<text transform="translate(519.5 1533.7) rotate(-90)" font-size="24" stroke="#000" stroke-width="0.29" stroke-linejoin="round" textLength="69.0" lengthAdjust="spacingAndGlyphs" ><tspan font-family="Noto Sans CJK SC, sans-serif" style="font-weight:900" font-size="18.2">&#9651;</tspan><tspan dx="2.9">F/F</tspan><tspan font-size="14.9" dy="3.8">0</tspan></text>
<text transform="translate(551.0 1533.0) rotate(-90)" font-size="24" stroke="#000" stroke-width="0.29" stroke-linejoin="round" textLength="65.0" lengthAdjust="spacingAndGlyphs" >(20%)</text>
<path d="M605.6,1475.6 H561.5 V1522.8" fill="none" stroke="#000" stroke-width="4.6"/>
<text x="559.0" y="1556.4" font-size="24.2" stroke="#000" stroke-width="0.29" stroke-linejoin="round" textLength="58.0" lengthAdjust="spacingAndGlyphs" >Time</text>
<text x="532.2" y="1586.6" font-size="24.2" stroke="#000" stroke-width="0.29" stroke-linejoin="round" textLength="111.5" lengthAdjust="spacingAndGlyphs" >( 2.2 min)</text>
<path d="M530.4,1620.2 L625.2,1620.2 C628.2,1620.2 628.7,1727.1 633.2,1727.1 C637.2,1727.1 638.2,1704.0 646.2,1704.0 L820.6,1704.0 C824.1,1704.0 825.1,1603.1 829.6,1603.1 C833.6,1603.1 833.6,1620.2 841.6,1620.2 L949.9,1620.2" fill="none" stroke="#f850e0" stroke-width="2.5" stroke-linejoin="round"/>
<path d="M530.4,1620.2 L625.2,1620.2 C628.2,1620.2 628.7,1670.5 633.2,1670.5 C637.2,1670.5 638.2,1660.5 646.2,1660.5 L820.6,1660.5 C824.1,1660.5 825.1,1613.2 829.6,1613.2 C833.6,1613.2 833.6,1620.2 841.6,1620.2 L949.9,1620.2" fill="none" stroke="#6cb0f8" stroke-width="2.0" stroke-linejoin="round"/>
<path d="M530.4,1620.2 L625.2,1620.2 C628.2,1620.2 628.7,1650.0 633.2,1650.0 C637.2,1650.0 638.2,1644.1 646.2,1644.1 L820.6,1644.1 C824.1,1644.1 825.1,1616.0 829.6,1616.0 C833.6,1616.0 833.6,1620.2 841.6,1620.2 L949.9,1620.2" fill="none" stroke="#f8a4a4" stroke-width="1.3" stroke-linejoin="round"/>
<path d="M530.4,1620.2 L625.2,1620.2 C628.2,1620.2 628.7,1702.7 633.2,1702.7 C637.2,1702.7 638.2,1685.1 646.2,1685.1 L820.6,1685.1 C824.1,1685.1 825.1,1606.4 829.6,1606.4 C833.6,1606.4 833.6,1620.2 841.6,1620.2 L949.9,1620.2" fill="none" stroke="#22c832" stroke-width="2.8" stroke-linejoin="round"/>
<text x="485.6" y="1624.0" font-size="19.8" stroke="#000" stroke-width="0.24" stroke-linejoin="round" textLength="39.4" lengthAdjust="spacingAndGlyphs" >24<tspan font-family="Noto Sans CJK SC, sans-serif" style="font-weight:500">&#8451;</tspan></text>
<text x="485.6" y="1645.9" font-size="19.8" stroke="#000" stroke-width="0.24" stroke-linejoin="round" textLength="39.4" lengthAdjust="spacingAndGlyphs" >22<tspan font-family="Noto Sans CJK SC, sans-serif" style="font-weight:500">&#8451;</tspan></text>
<text x="485.6" y="1668.5" font-size="19.8" stroke="#000" stroke-width="0.24" stroke-linejoin="round" textLength="39.4" lengthAdjust="spacingAndGlyphs" >20<tspan font-family="Noto Sans CJK SC, sans-serif" style="font-weight:500">&#8451;</tspan></text>
<text x="485.6" y="1691.4" font-size="19.8" stroke="#000" stroke-width="0.24" stroke-linejoin="round" textLength="39.4" lengthAdjust="spacingAndGlyphs" >18<tspan font-family="Noto Sans CJK SC, sans-serif" style="font-weight:500">&#8451;</tspan></text>
<text x="485.6" y="1714.6" font-size="19.8" stroke="#000" stroke-width="0.24" stroke-linejoin="round" textLength="39.4" lengthAdjust="spacingAndGlyphs" >16<tspan font-family="Noto Sans CJK SC, sans-serif" style="font-weight:500">&#8451;</tspan></text>
<polygon points="1051.2,1525.5 1058.6,1526.8 1082.0,1526.8 1095.2,1520.3 1114.2,1514.1 1124.4,1546.5 1130.3,1532.8 1142.0,1507.2 1147.9,1513.5 1153.7,1508.0 1159.6,1533.3 1170.0,1526.6 1181.5,1503.8 1184.5,1494.9 1190.3,1508.0 1196.2,1512.5 1202.8,1505.5 1215.0,1520.5 1230.0,1516.1 1240.0,1501.1 1244.4,1494.1 1248.8,1503.7 1256.1,1522.0 1262.0,1509.4 1264.9,1515.4 1270.7,1508.6 1274.4,1498.0 1281.0,1502.7 1286.8,1517.2 1292.7,1489.0 1295.6,1507.0 1301.5,1504.5 1305.1,1457.0 1310.3,1505.1 1316.9,1499.0 1319.0,1502.2 1335.0,1508.1 1351.3,1500.0 1360.0,1505.8 1368.8,1500.2 1371.8,1496.6 1377.6,1533.6 1383.5,1484.2 1395.2,1536.1 1401.0,1518.8 1408.3,1521.3 1411.3,1530.4 1417.1,1535.0 1425.2,1539.9 1436.2,1514.1 1442.8,1511.6 1449.3,1529.0 1467.6,1542.7 1467.6,1552.0 1449.3,1539.3 1442.8,1523.5 1436.2,1524.9 1425.2,1550.8 1417.1,1544.5 1411.3,1542.7 1408.3,1534.3 1401.0,1531.6 1395.2,1550.4 1383.5,1496.5 1377.6,1545.1 1371.8,1507.4 1368.8,1508.8 1360.0,1516.7 1351.3,1512.3 1335.0,1516.6 1319.0,1513.9 1316.9,1509.5 1310.3,1517.3 1305.1,1468.0 1301.5,1518.4 1295.6,1514.6 1292.7,1501.2 1286.8,1527.5 1281.0,1512.8 1274.4,1512.1 1270.7,1519.4 1264.9,1525.0 1262.0,1521.7 1256.1,1535.0 1248.8,1518.0 1244.4,1504.9 1240.0,1512.3 1230.0,1524.1 1215.0,1530.9 1202.8,1516.5 1196.2,1524.0 1190.3,1519.1 1184.5,1506.9 1181.5,1513.2 1170.0,1535.3 1159.6,1546.1 1153.7,1521.7 1147.9,1521.7 1142.0,1518.1 1130.3,1542.3 1124.4,1555.3 1114.2,1524.0 1095.2,1532.5 1082.0,1538.0 1058.6,1538.2 1051.2,1536.1" fill="#c8ddf8"/>
<polyline points="1051.2,1529.3 1058.6,1532.3 1082.0,1530.8 1095.2,1526.4 1114.2,1519.1 1124.4,1549.8 1130.3,1538.1 1142.0,1513.2 1147.9,1517.6 1153.7,1514.7 1159.6,1539.6 1170.0,1530.0 1181.5,1508.8 1184.5,1501.5 1190.3,1511.8 1196.2,1516.2 1202.8,1510.3 1215.0,1525.0 1230.0,1520.0 1240.0,1507.4 1244.4,1500.1 1248.8,1510.3 1256.1,1527.9 1262.0,1514.7 1264.9,1519.1 1270.7,1514.7 1274.4,1504.5 1281.0,1507.4 1286.8,1522.0 1292.7,1495.7 1295.6,1510.3 1301.5,1510.3 1305.1,1462.0 1310.3,1510.3 1316.9,1503.0 1319.0,1507.4 1335.0,1512.0 1351.3,1504.5 1360.0,1510.3 1368.8,1504.5 1371.8,1500.1 1377.6,1539.6 1383.5,1489.8 1395.2,1542.5 1401.0,1523.5 1408.3,1527.9 1411.3,1536.7 1417.1,1539.6 1425.2,1546.2 1436.2,1517.6 1442.8,1517.6 1449.3,1535.2 1467.6,1546.9" fill="none" stroke="#5ea4f8" stroke-width="4.2" stroke-linejoin="round" stroke-linecap="round" />
<polygon points="1051.2,1538.8 1058.6,1531.9 1064.4,1535.7 1082.0,1522.4 1095.2,1512.0 1101.0,1516.9 1120.0,1524.6 1140.0,1529.4 1147.9,1533.9 1149.3,1504.0 1153.7,1456.2 1158.1,1461.7 1162.5,1430.6 1166.9,1395.4 1172.7,1371.4 1177.9,1394.9 1184.5,1409.4 1190.3,1350.0 1196.9,1424.6 1202.8,1390.5 1209.3,1398.6 1214.5,1445.4 1220.3,1394.1 1226.9,1406.1 1232.8,1407.2 1243.0,1406.2 1250.2,1432.8 1256.1,1396.8 1262.0,1375.9 1268.5,1433.5 1274.4,1397.5 1278.1,1400.2 1282.5,1415.9 1286.8,1447.1 1292.7,1426.3 1298.6,1443.6 1304.4,1428.3 1310.3,1418.6 1316.9,1396.9 1323.4,1424.3 1328.6,1413.8 1335.2,1429.5 1342.5,1413.0 1347.6,1401.6 1351.3,1446.7 1355.6,1462.6 1360.0,1486.4 1366.0,1514.5 1372.0,1539.0 1380.0,1559.6 1390.0,1571.7 1396.0,1574.5 1402.0,1568.2 1410.0,1573.2 1420.0,1566.6 1430.0,1570.5 1440.0,1564.0 1450.0,1565.7 1460.0,1560.8 1467.0,1555.1 1467.0,1564.0 1460.0,1568.6 1450.0,1575.9 1440.0,1572.1 1430.0,1578.7 1420.0,1576.6 1410.0,1582.2 1402.0,1577.7 1396.0,1584.4 1390.0,1580.0 1380.0,1571.5 1372.0,1551.1 1366.0,1524.5 1360.0,1497.1 1355.6,1475.2 1351.3,1457.1 1347.6,1412.8 1342.5,1424.4 1335.2,1440.3 1328.6,1422.9 1323.4,1433.8 1316.9,1408.0 1310.3,1425.9 1304.4,1437.2 1298.6,1453.3 1292.7,1436.5 1286.8,1455.4 1282.5,1427.5 1278.1,1411.4 1274.4,1406.8 1268.5,1443.8 1262.0,1386.6 1256.1,1406.8 1250.2,1442.4 1243.0,1416.1 1232.8,1418.0 1226.9,1416.4 1220.3,1404.2 1214.5,1455.3 1209.3,1407.1 1202.8,1400.0 1196.9,1434.4 1190.3,1362.1 1184.5,1419.7 1177.9,1405.7 1172.7,1382.5 1166.9,1407.2 1162.5,1443.1 1158.1,1473.2 1153.7,1464.4 1149.3,1515.6 1147.9,1543.0 1140.0,1541.5 1120.0,1536.5 1101.0,1527.9 1095.2,1522.5 1082.0,1532.4 1064.4,1543.3 1058.6,1541.9 1051.2,1549.1" fill="#ffdcb8"/>
<polyline points="1051.2,1545.4 1058.6,1535.2 1064.4,1539.6 1082.0,1527.9 1095.2,1518.4 1101.0,1523.5 1120.0,1530.0 1140.0,1535.0 1147.9,1539.6 1149.3,1510.3 1153.7,1460.5 1158.1,1467.9 1162.5,1437.1 1166.9,1402.0 1172.7,1377.1 1177.9,1399.1 1184.5,1413.7 1190.3,1356.6 1196.9,1428.3 1202.8,1396.1 1209.3,1402.0 1214.5,1448.8 1220.3,1399.1 1226.9,1410.8 1232.8,1413.7 1243.0,1410.8 1250.2,1437.1 1256.1,1402.0 1262.0,1381.5 1268.5,1437.1 1274.4,1402.0 1278.1,1404.9 1282.5,1422.5 1286.8,1451.8 1292.7,1432.7 1298.6,1448.8 1304.4,1432.7 1310.3,1422.5 1316.9,1402.0 1323.4,1429.8 1328.6,1419.5 1335.2,1434.2 1342.5,1419.5 1347.6,1407.8 1351.3,1451.8 1355.6,1469.3 1360.0,1491.3 1366.0,1520.0 1372.0,1545.0 1380.0,1565.0 1390.0,1575.0 1396.0,1580.0 1402.0,1572.0 1410.0,1578.0 1420.0,1570.0 1430.0,1575.0 1440.0,1568.0 1450.0,1572.0 1460.0,1565.0 1467.0,1560.0" fill="none" stroke="#ff9c40" stroke-width="4.4" stroke-linejoin="round" stroke-linecap="round" />
<polygon points="1051.2,1531.3 1055.6,1528.5 1076.1,1524.7 1082.0,1521.8 1087.8,1524.0 1114.2,1518.2 1118.6,1509.8 1124.4,1515.7 1125.9,1524.9 1129.6,1554.5 1136.1,1537.4 1141.3,1555.3 1147.9,1557.5 1153.7,1552.2 1157.4,1542.2 1161.0,1507.7 1165.4,1478.1 1172.7,1476.4 1178.6,1464.6 1184.5,1436.3 1190.3,1480.3 1196.2,1450.3 1202.8,1480.5 1207.9,1479.3 1214.5,1490.1 1221.1,1477.7 1232.8,1481.8 1238.6,1483.7 1244.4,1496.5 1250.2,1486.9 1256.1,1495.5 1262.0,1493.9 1268.5,1508.0 1274.4,1485.5 1286.8,1495.1 1292.0,1480.6 1298.6,1476.0 1310.3,1479.4 1316.9,1467.3 1323.4,1461.7 1329.3,1486.0 1335.2,1484.0 1338.1,1487.4 1345.4,1500.6 1347.6,1505.7 1355.0,1516.9 1365.9,1542.9 1368.5,1566.2 1372.0,1577.3 1377.3,1573.8 1383.0,1588.6 1388.6,1604.3 1394.9,1585.6 1400.0,1595.4 1406.2,1606.6 1412.5,1587.0 1418.0,1589.8 1423.8,1582.5 1431.3,1606.5 1440.0,1598.1 1447.7,1592.1 1452.7,1585.2 1456.0,1572.1 1460.3,1556.5 1466.5,1598.7 1466.5,1606.2 1460.3,1562.6 1456.0,1578.9 1452.7,1591.8 1447.7,1599.3 1440.0,1604.8 1431.3,1613.5 1423.8,1589.3 1418.0,1596.4 1412.5,1595.0 1406.2,1614.4 1400.0,1601.7 1394.9,1592.2 1388.6,1612.6 1383.0,1595.8 1377.3,1582.6 1372.0,1585.1 1368.5,1573.8 1365.9,1549.2 1355.0,1524.9 1347.6,1511.9 1345.4,1505.9 1338.1,1496.6 1335.2,1490.1 1329.3,1491.2 1323.4,1469.4 1316.9,1474.4 1310.3,1487.9 1298.6,1484.9 1292.0,1489.3 1286.8,1502.0 1274.4,1491.4 1268.5,1515.6 1262.0,1502.3 1256.1,1503.8 1250.2,1493.9 1244.4,1504.7 1238.6,1489.1 1232.8,1489.5 1221.1,1483.8 1214.5,1496.3 1207.9,1487.4 1202.8,1485.9 1196.2,1455.4 1190.3,1487.1 1184.5,1442.1 1178.6,1471.0 1172.7,1483.5 1165.4,1485.6 1161.0,1513.1 1157.4,1549.8 1153.7,1559.3 1147.9,1565.1 1141.3,1562.9 1136.1,1545.2 1129.6,1560.0 1125.9,1532.6 1124.4,1522.9 1118.6,1514.6 1114.2,1524.5 1087.8,1530.2 1082.0,1527.9 1076.1,1531.7 1055.6,1535.1 1051.2,1540.5" fill="#c8f8c8"/>
<polyline points="1051.2,1535.2 1055.6,1532.3 1076.1,1527.9 1082.0,1524.9 1087.8,1526.4 1114.2,1520.6 1118.6,1511.8 1124.4,1519.1 1125.9,1527.9 1129.6,1557.2 1136.1,1541.0 1141.3,1558.6 1147.9,1561.5 1153.7,1555.7 1157.4,1545.4 1161.0,1510.3 1165.4,1481.0 1172.7,1479.6 1178.6,1467.9 1184.5,1438.6 1190.3,1484.0 1196.2,1452.5 1202.8,1482.5 1207.9,1482.5 1214.5,1492.7 1221.1,1480.3 1232.8,1485.4 1238.6,1486.2 1244.4,1500.1 1250.2,1490.6 1256.1,1498.6 1262.0,1497.1 1268.5,1510.3 1274.4,1487.6 1286.8,1497.1 1292.0,1484.0 1298.6,1479.6 1310.3,1482.5 1316.9,1470.8 1323.4,1465.7 1329.3,1488.4 1335.2,1486.9 1338.1,1491.3 1345.4,1503.0 1347.6,1508.8 1355.0,1520.0 1365.9,1545.4 1368.5,1570.0 1372.0,1580.0 1377.3,1577.5 1383.0,1592.0 1388.6,1607.7 1394.9,1588.9 1400.0,1598.0 1406.2,1610.2 1412.5,1590.1 1418.0,1592.0 1423.8,1585.1 1431.3,1610.2 1440.0,1602.0 1447.7,1595.2 1452.7,1587.6 1456.0,1575.0 1460.3,1560.0 1466.5,1601.4" fill="none" stroke="#0cf20c" stroke-width="4.4" stroke-linejoin="round" stroke-linecap="round" />
<polygon points="1051.2,1532.7 1058.6,1529.0 1064.4,1536.3 1071.0,1530.9 1095.2,1520.4 1101.0,1515.1 1118.6,1519.1 1124.4,1495.0 1128.8,1518.8 1131.8,1532.6 1137.6,1530.0 1142.7,1538.2 1147.9,1545.4 1153.7,1525.5 1156.6,1504.1 1161.0,1458.7 1165.4,1420.2 1172.7,1408.0 1177.9,1427.5 1184.5,1413.7 1190.3,1409.9 1196.2,1409.6 1202.8,1384.5 1209.3,1407.7 1214.5,1421.0 1221.1,1410.1 1226.9,1422.3 1232.8,1405.1 1241.6,1417.6 1250.2,1414.5 1256.1,1415.9 1262.0,1412.3 1268.5,1406.3 1274.4,1418.9 1281.0,1426.4 1286.8,1414.1 1292.0,1415.5 1298.6,1402.0 1304.4,1419.6 1310.3,1433.0 1316.9,1439.0 1323.4,1404.6 1329.3,1402.2 1335.2,1406.7 1341.7,1396.1 1347.6,1411.8 1352.7,1448.1 1360.0,1445.3 1365.2,1462.5 1371.8,1475.9 1376.1,1512.6 1380.5,1528.1 1387.9,1548.8 1401.0,1550.2 1404.0,1542.7 1420.0,1552.6 1434.7,1545.1 1440.6,1533.8 1446.4,1534.0 1450.8,1516.5 1455.2,1512.9 1461.0,1535.5 1467.6,1529.5 1467.6,1541.8 1461.0,1548.6 1455.2,1527.1 1450.8,1529.7 1446.4,1546.7 1440.6,1545.0 1434.7,1558.4 1420.0,1567.1 1404.0,1555.3 1401.0,1561.0 1387.9,1562.2 1380.5,1541.3 1376.1,1524.0 1371.8,1491.5 1365.2,1475.9 1360.0,1457.5 1352.7,1459.3 1347.6,1428.0 1341.7,1407.4 1335.2,1417.5 1329.3,1414.3 1323.4,1418.2 1316.9,1454.4 1310.3,1446.5 1304.4,1433.7 1298.6,1413.9 1292.0,1425.8 1286.8,1427.5 1281.0,1439.4 1274.4,1429.4 1268.5,1420.8 1262.0,1426.0 1256.1,1429.0 1250.2,1427.2 1241.6,1430.1 1232.8,1419.4 1226.9,1437.7 1221.1,1423.3 1214.5,1434.7 1209.3,1417.5 1202.8,1395.8 1196.2,1425.7 1190.3,1423.3 1184.5,1430.4 1177.9,1442.7 1172.7,1417.2 1165.4,1434.3 1161.0,1475.5 1156.6,1516.6 1153.7,1536.8 1147.9,1558.1 1142.7,1550.8 1137.6,1544.4 1131.8,1546.3 1128.8,1534.1 1124.4,1508.1 1118.6,1533.7 1101.0,1530.3 1095.2,1532.9 1071.0,1543.5 1064.4,1548.8 1058.6,1543.1 1051.2,1548.3" fill="#f8c8f0"/>
<polyline points="1051.2,1539.6 1058.6,1533.7 1064.4,1541.0 1071.0,1535.2 1095.2,1524.9 1101.0,1522.0 1118.6,1524.9 1124.4,1503.0 1128.8,1524.9 1131.8,1539.6 1137.6,1535.2 1142.7,1542.5 1147.9,1552.8 1153.7,1530.8 1156.6,1510.3 1161.0,1466.4 1165.4,1425.4 1172.7,1412.2 1177.9,1434.2 1184.5,1421.0 1190.3,1417.4 1196.2,1416.6 1202.8,1388.8 1209.3,1412.2 1214.5,1426.9 1221.1,1418.1 1226.9,1428.3 1232.8,1412.2 1241.6,1422.5 1250.2,1419.5 1256.1,1422.5 1262.0,1419.5 1268.5,1412.2 1274.4,1423.9 1281.0,1432.7 1286.8,1421.7 1292.0,1421.0 1298.6,1407.8 1304.4,1425.4 1310.3,1437.1 1316.9,1445.9 1323.4,1410.8 1329.3,1407.8 1335.2,1411.5 1341.7,1401.2 1347.6,1419.5 1352.7,1454.7 1360.0,1450.3 1365.2,1469.3 1371.8,1482.5 1376.1,1517.6 1380.5,1535.2 1387.9,1555.7 1401.0,1554.2 1404.0,1546.9 1420.0,1560.0 1434.7,1552.8 1440.6,1539.6 1446.4,1538.1 1450.8,1520.6 1455.2,1519.1 1461.0,1539.6 1467.6,1536.7" fill="none" stroke="#f452d8" stroke-width="4.4" stroke-linejoin="round" stroke-linecap="round" />
<polygon points="1051.2,1509.7 1064.4,1516.5 1071.0,1502.3 1076.1,1526.2 1082.0,1527.6 1095.2,1520.4 1101.0,1522.7 1106.9,1509.9 1114.2,1515.3 1124.4,1521.0 1131.8,1519.4 1142.7,1518.4 1153.7,1517.3 1159.6,1517.0 1165.4,1515.6 1171.3,1512.8 1178.6,1517.8 1184.5,1519.8 1190.3,1520.4 1196.2,1520.3 1207.9,1517.5 1215.2,1513.7 1221.0,1522.0 1226.2,1512.2 1232.8,1524.4 1238.6,1520.5 1250.2,1518.1 1256.1,1532.4 1262.7,1530.6 1268.5,1532.0 1274.4,1524.4 1281.0,1524.2 1289.8,1527.9 1298.6,1506.1 1304.4,1525.3 1311.0,1514.5 1322.7,1518.7 1329.3,1499.3 1335.2,1518.4 1341.0,1500.4 1347.6,1521.3 1353.5,1513.8 1360.0,1518.9 1365.2,1506.6 1371.8,1538.1 1377.6,1551.0 1387.9,1551.1 1395.2,1549.8 1401.0,1560.5 1406.9,1548.7 1417.9,1544.5 1424.5,1552.0 1436.2,1549.8 1445.0,1553.0 1449.3,1553.6 1455.9,1565.1 1461.0,1548.7 1467.6,1541.7 1467.6,1566.5 1461.0,1577.6 1455.9,1588.8 1449.3,1576.4 1445.0,1574.8 1436.2,1572.9 1424.5,1580.9 1417.9,1566.3 1406.9,1576.2 1401.0,1586.5 1395.2,1571.4 1387.9,1579.4 1377.6,1570.3 1371.8,1561.8 1365.2,1529.7 1360.0,1546.1 1353.5,1541.2 1347.6,1545.8 1341.0,1529.1 1335.2,1544.3 1329.3,1523.9 1322.7,1541.4 1311.0,1540.8 1304.4,1548.4 1298.6,1533.4 1289.8,1547.2 1281.0,1554.6 1274.4,1548.1 1268.5,1550.0 1262.7,1555.0 1256.1,1554.5 1250.2,1543.7 1238.6,1547.9 1232.8,1543.3 1226.2,1536.9 1221.0,1546.8 1215.2,1538.1 1207.9,1542.5 1196.2,1545.0 1190.3,1538.7 1184.5,1545.6 1178.6,1543.4 1171.3,1533.3 1165.4,1534.9 1159.6,1541.8 1153.7,1539.4 1142.7,1545.0 1131.8,1543.0 1124.4,1545.4 1114.2,1543.8 1106.9,1537.6 1101.0,1546.6 1095.2,1545.7 1082.0,1548.8 1076.1,1552.1 1071.0,1531.5 1064.4,1541.3 1051.2,1538.0" fill="#fde0e0"/>
<polyline points="1051.2,1519.8 1064.4,1530.1 1071.0,1516.2 1076.1,1533.7 1082.0,1536.7 1095.2,1530.8 1101.0,1530.8 1106.9,1523.5 1114.2,1528.6 1124.4,1534.5 1131.8,1529.3 1142.7,1526.4 1153.7,1529.3 1159.6,1528.6 1165.4,1524.2 1171.3,1523.5 1178.6,1529.3 1184.5,1527.9 1190.3,1527.9 1196.2,1533.7 1207.9,1527.9 1215.2,1524.2 1221.0,1533.0 1226.2,1519.8 1232.8,1533.7 1238.6,1530.8 1250.2,1530.1 1256.1,1543.2 1262.7,1542.5 1268.5,1539.6 1274.4,1532.3 1281.0,1538.1 1289.8,1536.7 1298.6,1520.6 1304.4,1533.7 1311.0,1526.4 1322.7,1529.3 1329.3,1510.3 1335.2,1530.8 1341.0,1510.3 1347.6,1529.3 1353.5,1524.2 1360.0,1531.5 1365.2,1518.4 1371.8,1545.4 1377.6,1560.1 1387.9,1564.5 1395.2,1557.2 1401.0,1568.9 1406.9,1557.9 1417.9,1556.4 1424.5,1562.3 1436.2,1562.3 1445.0,1563.0 1449.3,1561.5 1455.9,1577.6 1461.0,1560.1 1467.6,1555.7" fill="none" stroke="#f87c7c" stroke-width="4.4" stroke-linejoin="round" stroke-linecap="round" />
<text transform="translate(1023.4 1445.9) rotate(-90)" font-size="24" stroke="#000" stroke-width="0.29" stroke-linejoin="round" textLength="69.0" lengthAdjust="spacingAndGlyphs" ><tspan font-family="Noto Sans CJK SC, sans-serif" style="font-weight:900" font-size="18.2">&#9651;</tspan><tspan dx="2.9">F/F</tspan><tspan font-size="14.9" dy="3.8">0</tspan></text>
<text transform="translate(1055.6 1445.2) rotate(-90)" font-size="24" stroke="#000" stroke-width="0.29" stroke-linejoin="round" textLength="65.0" lengthAdjust="spacingAndGlyphs" >(20%)</text>
<path d="M1065.9,1383.2 V1430 H1109" fill="none" stroke="#000" stroke-width="4.6"/>
<text x="1064.4" y="1460.5" font-size="24.2" stroke="#000" stroke-width="0.29" stroke-linejoin="round" textLength="57.0" lengthAdjust="spacingAndGlyphs" >Time</text>
<text x="1037.8" y="1492.0" font-size="24.2" stroke="#000" stroke-width="0.29" stroke-linejoin="round" textLength="109.5" lengthAdjust="spacingAndGlyphs" >( 2.2 min)</text>
<path d="M1062.9,1721.7 L1162.6,1721.7 C1165.6,1721.7 1166.1,1601.4 1170.6,1601.4 C1174.6,1601.4 1175.6,1620.3 1183.6,1620.3 L1361.0,1620.3 C1364.5,1620.3 1365.5,1746.0 1370.0,1746.0 C1374.0,1746.0 1374.0,1721.7 1382.0,1721.7 L1489.2,1721.7" fill="none" stroke="#ff9c44" stroke-width="3.2" stroke-linejoin="round"/>
<path d="M1062.9,1721.7 L1162.6,1721.7 C1165.6,1721.7 1166.1,1624.8 1170.6,1624.8 C1174.6,1624.8 1175.6,1640.2 1183.6,1640.2 L1361.0,1640.2 C1364.5,1640.2 1365.5,1740.0 1370.0,1740.0 C1374.0,1740.0 1374.0,1721.7 1382.0,1721.7 L1489.2,1721.7" fill="none" stroke="#f850e0" stroke-width="2.4" stroke-linejoin="round"/>
<path d="M1062.9,1721.7 L1162.6,1721.7 C1165.6,1721.7 1166.1,1700.8 1170.6,1700.8 C1174.6,1700.8 1175.6,1703.8 1183.6,1703.8 L1361.0,1703.8 C1364.5,1703.8 1365.5,1726.0 1370.0,1726.0 C1374.0,1726.0 1374.0,1721.7 1382.0,1721.7 L1489.2,1721.7" fill="none" stroke="#f8a4a4" stroke-width="1.3" stroke-linejoin="round"/>
<path d="M1062.9,1721.7 L1162.6,1721.7 C1165.6,1721.7 1166.1,1676.1 1170.6,1676.1 C1174.6,1676.1 1175.6,1682.7 1183.6,1682.7 L1361.0,1682.7 C1364.5,1682.7 1365.5,1729.0 1370.0,1729.0 C1374.0,1729.0 1374.0,1721.7 1382.0,1721.7 L1489.2,1721.7" fill="none" stroke="#6cb0f8" stroke-width="2.0" stroke-linejoin="round"/>
<path d="M1062.9,1721.7 L1162.6,1721.7 C1165.6,1721.7 1166.1,1646.7 1170.6,1646.7 C1174.6,1646.7 1175.6,1659.0 1183.6,1659.0 L1361.0,1659.0 C1364.5,1659.0 1365.5,1736.5 1370.0,1736.5 C1374.0,1736.5 1374.0,1721.7 1382.0,1721.7 L1489.2,1721.7" fill="none" stroke="#22c832" stroke-width="2.8" stroke-linejoin="round"/>
<text x="1011.3" y="1621.0" font-size="19.8" stroke="#000" stroke-width="0.24" stroke-linejoin="round" textLength="39.8" lengthAdjust="spacingAndGlyphs" >32<tspan font-family="Noto Sans CJK SC, sans-serif" style="font-weight:500">&#8451;</tspan></text>
<text x="1011.3" y="1642.2" font-size="19.8" stroke="#000" stroke-width="0.24" stroke-linejoin="round" textLength="39.8" lengthAdjust="spacingAndGlyphs" >30<tspan font-family="Noto Sans CJK SC, sans-serif" style="font-weight:500">&#8451;</tspan></text>
<text x="1011.3" y="1663.8" font-size="19.8" stroke="#000" stroke-width="0.24" stroke-linejoin="round" textLength="39.8" lengthAdjust="spacingAndGlyphs" >28<tspan font-family="Noto Sans CJK SC, sans-serif" style="font-weight:500">&#8451;</tspan></text>
<text x="1011.3" y="1685.2" font-size="19.8" stroke="#000" stroke-width="0.24" stroke-linejoin="round" textLength="39.8" lengthAdjust="spacingAndGlyphs" >26<tspan font-family="Noto Sans CJK SC, sans-serif" style="font-weight:500">&#8451;</tspan></text>
<text x="1011.3" y="1706.6" font-size="19.8" stroke="#000" stroke-width="0.24" stroke-linejoin="round" textLength="39.8" lengthAdjust="spacingAndGlyphs" >24<tspan font-family="Noto Sans CJK SC, sans-serif" style="font-weight:500">&#8451;</tspan></text>
<text x="1011.3" y="1727.2" font-size="19.8" stroke="#000" stroke-width="0.24" stroke-linejoin="round" textLength="39.8" lengthAdjust="spacingAndGlyphs" >22<tspan font-family="Noto Sans CJK SC, sans-serif" style="font-weight:500">&#8451;</tspan></text>
<text x="1483.8" y="1384.0" font-size="44.5" stroke="#000" stroke-width="0.53" stroke-linejoin="round" >k</text>
<rect x="1633.8" y="1338.4" width="33.5" height="15.4" fill="#4a96c9"/>
<text x="1679.8" y="1352.7" font-size="24" stroke="#000" stroke-width="0.29" stroke-linejoin="round" textLength="79.0" lengthAdjust="spacingAndGlyphs" >cooling</text>
<rect x="1825" y="1338.4" width="33.3" height="15.4" fill="#ef4431"/>
<text x="1871.0" y="1353.2" font-size="24" stroke="#000" stroke-width="0.29" stroke-linejoin="round" textLength="78.0" lengthAdjust="spacingAndGlyphs" >heating</text>
<rect x="1622.3" y="1514.7" width="26.9" height="39.6" fill="#4a96c9"/>
<rect x="1654.5" y="1512.0" width="27.4" height="2.7" fill="#ef4431"/>
<rect x="1703.1" y="1514.7" width="27.3" height="54.2" fill="#4a96c9"/>
<rect x="1735.6" y="1504.1" width="27.3" height="10.6" fill="#ef4431"/>
<rect x="1784.6" y="1514.7" width="26.9" height="95.3" fill="#4a96c9"/>
<rect x="1816.6" y="1483.5" width="27.1" height="31.2" fill="#ef4431"/>
<rect x="1865.9" y="1514.7" width="27.3" height="81.2" fill="#4a96c9"/>
<rect x="1898.6" y="1418.9" width="26.8" height="95.8" fill="#ef4431"/>
<rect x="1947.4" y="1418.9" width="26.8" height="95.8" fill="#ef4431"/>
<path d="M1598.8,1388.5 H1609 V1640.8 H1598.8 M1598.8,1430.7 H1609 M1598.8,1472.8 H1609 M1598.8,1556.6 H1609 M1598.8,1598.7 H1609" fill="none" stroke="#333" stroke-width="1.4"/>
<path d="M1598.8,1514.7 H1988" fill="none" stroke="#333" stroke-width="1.3"/>
<text x="1546.0" y="1396.7" font-size="23" stroke="#000" stroke-width="0.28" stroke-linejoin="round" textLength="43.6" lengthAdjust="spacingAndGlyphs" >0.75</text>
<text x="1546.0" y="1438.8" font-size="23" stroke="#000" stroke-width="0.28" stroke-linejoin="round" textLength="43.6" lengthAdjust="spacingAndGlyphs" >0.50</text>
<text x="1546.0" y="1480.9" font-size="23" stroke="#000" stroke-width="0.28" stroke-linejoin="round" textLength="43.6" lengthAdjust="spacingAndGlyphs" >0.25</text>
<text x="1546.0" y="1523.0" font-size="23" stroke="#000" stroke-width="0.28" stroke-linejoin="round" textLength="43.6" lengthAdjust="spacingAndGlyphs" >0.00</text>
<text x="1539.0" y="1565.1" font-size="23" stroke="#000" stroke-width="0.28" stroke-linejoin="round" textLength="50.6" lengthAdjust="spacingAndGlyphs" >-0.25</text>
<text x="1539.0" y="1607.2" font-size="23" stroke="#000" stroke-width="0.28" stroke-linejoin="round" textLength="50.6" lengthAdjust="spacingAndGlyphs" >-0.50</text>
<text x="1539.0" y="1649.3" font-size="23" stroke="#000" stroke-width="0.28" stroke-linejoin="round" textLength="50.6" lengthAdjust="spacingAndGlyphs" >-0.75</text>
<text transform="translate(1528.5 1593.5) rotate(-90)" font-size="24.5" stroke="#000" stroke-width="0.29" stroke-linejoin="round" textLength="146.5" lengthAdjust="spacing" >Fold change</text>
<path d="M1635.6,1554.4 V1570.3 M1629.4,1554.4 H1641.8 M1629.4,1570.3 H1641.8" fill="none" stroke="#4a96c9" stroke-width="1.1"/>
<path d="M1716.7,1569.0 V1581.0 M1710.5,1569.0 H1722.9 M1710.5,1581.0 H1722.9" fill="none" stroke="#4a96c9" stroke-width="1.1"/>
<path d="M1797.7,1609.9 V1619.3 M1791.5,1609.9 H1803.9 M1791.5,1619.3 H1803.9" fill="none" stroke="#4a96c9" stroke-width="1.1"/>
<path d="M1879.2,1595.8 V1600.3 M1873.0,1595.8 H1885.4 M1873.0,1600.3 H1885.4" fill="none" stroke="#4a96c9" stroke-width="1.1"/>
<path d="M1668.2,1512.0 V1525.5 M1662.0,1512.0 H1674.4 M1662.0,1525.5 H1674.4" fill="none" stroke="#ef4431" stroke-width="1.1"/>
<path d="M1749.0,1486.0 V1504.0 M1742.8,1486.0 H1755.2 M1742.8,1504.0 H1755.2" fill="none" stroke="#ef4431" stroke-width="1.1"/>
<path d="M1830.0,1479.8 V1484.0 M1823.8,1479.8 H1836.2 M1823.8,1484.0 H1836.2" fill="none" stroke="#ef4431" stroke-width="1.1"/>
<path d="M1912.0,1405.6 V1419.0 M1905.8,1405.6 H1918.2 M1905.8,1419.0 H1918.2" fill="none" stroke="#666" stroke-width="1.1"/>
<path d="M1960.6,1405.6 V1419.0 M1954.4,1405.6 H1966.8 M1954.4,1419.0 H1966.8" fill="none" stroke="#666" stroke-width="1.1"/>
<circle cx="1667.8" cy="1496.8" r="2.65" fill="#666"/>
<circle cx="1670.4" cy="1513.7" r="2.65" fill="#666"/>
<circle cx="1662.7" cy="1517.3" r="2.65" fill="#666"/>
<circle cx="1672.9" cy="1518.1" r="2.65" fill="#666"/>
<circle cx="1667.8" cy="1521.9" r="2.65" fill="#666"/>
<circle cx="1665.3" cy="1524.4" r="2.65" fill="#666"/>
<circle cx="1748.8" cy="1484.8" r="2.65" fill="#666"/>
<circle cx="1747.1" cy="1494.3" r="2.65" fill="#666"/>
<circle cx="1751.7" cy="1494.3" r="2.65" fill="#666"/>
<circle cx="1747.1" cy="1500.2" r="2.65" fill="#666"/>
<circle cx="1750.9" cy="1500.2" r="2.65" fill="#666"/>
<circle cx="1747.1" cy="1509.1" r="2.65" fill="#666"/>
<circle cx="1751.7" cy="1510.4" r="2.65" fill="#666"/>
<circle cx="1749.1" cy="1544.9" r="2.65" fill="#666"/>
<circle cx="1817.8" cy="1481.8" r="2.65" fill="#666"/>
<circle cx="1823.7" cy="1483.6" r="2.65" fill="#666"/>
<circle cx="1830.1" cy="1478.4" r="2.65" fill="#666"/>
<circle cx="1830.1" cy="1484.1" r="2.65" fill="#666"/>
<circle cx="1836.0" cy="1484.1" r="2.65" fill="#666"/>
<circle cx="1841.6" cy="1484.1" r="2.65" fill="#666"/>
<circle cx="1830.1" cy="1489.2" r="2.65" fill="#666"/>
<circle cx="1911.9" cy="1397.2" r="2.65" fill="#666"/>
<circle cx="1911.9" cy="1410.7" r="2.65" fill="#666"/>
<circle cx="1906.8" cy="1419.2" r="2.65" fill="#666"/>
<circle cx="1917.0" cy="1419.2" r="2.65" fill="#666"/>
<circle cx="1911.9" cy="1418.4" r="2.65" fill="#666"/>
<circle cx="1911.9" cy="1423.5" r="2.65" fill="#666"/>
<circle cx="1911.9" cy="1445.2" r="2.65" fill="#666"/>
<circle cx="1960.4" cy="1397.2" r="2.65" fill="#666"/>
<circle cx="1960.4" cy="1410.7" r="2.65" fill="#666"/>
<circle cx="1955.3" cy="1419.2" r="2.65" fill="#666"/>
<circle cx="1965.6" cy="1419.2" r="2.65" fill="#666"/>
<circle cx="1960.4" cy="1418.4" r="2.65" fill="#666"/>
<circle cx="1960.4" cy="1423.5" r="2.65" fill="#666"/>
<circle cx="1960.4" cy="1445.2" r="2.65" fill="#666"/>
<circle cx="1638.4" cy="1533.2" r="2.65" fill="#666"/>
<circle cx="1632.8" cy="1535.0" r="2.65" fill="#666"/>
<circle cx="1635.4" cy="1553.7" r="2.65" fill="#666"/>
<circle cx="1630.8" cy="1557.5" r="2.65" fill="#666"/>
<circle cx="1640.5" cy="1557.5" r="2.65" fill="#666"/>
<circle cx="1635.4" cy="1561.3" r="2.65" fill="#666"/>
<circle cx="1635.4" cy="1583.1" r="2.65" fill="#666"/>
<circle cx="1716.6" cy="1554.7" r="2.65" fill="#666"/>
<circle cx="1716.6" cy="1561.3" r="2.65" fill="#666"/>
<circle cx="1716.6" cy="1565.2" r="2.65" fill="#666"/>
<circle cx="1713.8" cy="1570.3" r="2.65" fill="#666"/>
<circle cx="1720.2" cy="1570.3" r="2.65" fill="#666"/>
<circle cx="1724.6" cy="1568.5" r="2.65" fill="#666"/>
<circle cx="1716.6" cy="1595.8" r="2.65" fill="#666"/>
<circle cx="1797.7" cy="1596.6" r="2.65" fill="#666"/>
<circle cx="1797.7" cy="1602.2" r="2.65" fill="#666"/>
<circle cx="1797.7" cy="1606.8" r="2.65" fill="#666"/>
<circle cx="1793.1" cy="1611.2" r="2.65" fill="#666"/>
<circle cx="1802.5" cy="1612.4" r="2.65" fill="#666"/>
<circle cx="1797.7" cy="1617.6" r="2.65" fill="#666"/>
<circle cx="1797.7" cy="1625.2" r="2.65" fill="#666"/>
<circle cx="1879.2" cy="1590.7" r="2.65" fill="#666"/>
<circle cx="1874.8" cy="1595.8" r="2.65" fill="#666"/>
<circle cx="1883.8" cy="1596.6" r="2.65" fill="#666"/>
<circle cx="1879.2" cy="1598.4" r="2.65" fill="#666"/>
<circle cx="1879.2" cy="1602.7" r="2.65" fill="#666"/>
<circle cx="1876.1" cy="1597.1" r="2.65" fill="#666"/>
<circle cx="1882.5" cy="1593.3" r="2.65" fill="#666"/>
<text x="1665.3" y="1482.8" font-size="24.5" style="font-weight:normal" text-anchor="middle" >A</text>
<text x="1747.3" y="1476.4" font-size="24.5" style="font-weight:normal" text-anchor="middle" >B</text>
<text x="1827.0" y="1467.7" font-size="24.5" style="font-weight:normal" text-anchor="middle" >C</text>
<text x="1906.3" y="1383.9" font-size="24.5" style="font-weight:normal" text-anchor="middle" >D</text>
<text x="1958.4" y="1383.9" font-size="24.5" style="font-weight:normal" text-anchor="middle" >D</text>
<text x="1634.6" y="1611.7" font-size="24.5" style="font-weight:normal" text-anchor="middle" >E</text>
<text x="1714.6" y="1624.5" font-size="24.5" style="font-weight:normal" text-anchor="middle" >F</text>
<text x="1794.8" y="1648.7" font-size="24.5" style="font-weight:normal" text-anchor="middle" >G</text>
<text x="1876.9" y="1640.0" font-size="24.5" style="font-weight:normal" text-anchor="middle" >G</text>
<rect x="1613.4" y="1653.6" width="59.6" height="6.9" fill="#f8414a"/>
<rect x="1697.2" y="1653.6" width="59.6" height="6.9" fill="#4472c8"/>
<rect x="1780.3" y="1653.6" width="59.7" height="6.9" fill="#42f0b0"/>
<rect x="1860.3" y="1653.6" width="59.3" height="6.9" fill="#f052e0"/>
<rect x="1942.0" y="1653.6" width="30.5" height="6.9" fill="#ffa040"/>
<text transform="translate(1600.5 1727.5) rotate(-45)" font-size="22" stroke="#000" stroke-width="0.26" stroke-linejoin="round" textLength="72.0" lengthAdjust="spacingAndGlyphs" ><tspan font-family="Noto Sans CJK SC, sans-serif" style="font-weight:900" font-size="17.0">&#9651;</tspan><tspan dx="2.5">t=2</tspan><tspan font-family="Noto Sans CJK SC, sans-serif" style="font-weight:500">&#8451;</tspan></text>
<text transform="translate(1683.5 1728.5) rotate(-45)" font-size="22" stroke="#000" stroke-width="0.26" stroke-linejoin="round" textLength="72.0" lengthAdjust="spacingAndGlyphs" ><tspan font-family="Noto Sans CJK SC, sans-serif" style="font-weight:900" font-size="17.0">&#9651;</tspan><tspan dx="2.5">t=4</tspan><tspan font-family="Noto Sans CJK SC, sans-serif" style="font-weight:500">&#8451;</tspan></text>
<text transform="translate(1766.5 1729.0) rotate(-45)" font-size="22" stroke="#000" stroke-width="0.26" stroke-linejoin="round" textLength="72.0" lengthAdjust="spacingAndGlyphs" ><tspan font-family="Noto Sans CJK SC, sans-serif" style="font-weight:900" font-size="17.0">&#9651;</tspan><tspan dx="2.5">t=6</tspan><tspan font-family="Noto Sans CJK SC, sans-serif" style="font-weight:500">&#8451;</tspan></text>
<text transform="translate(1846.5 1729.0) rotate(-45)" font-size="22" stroke="#000" stroke-width="0.26" stroke-linejoin="round" textLength="72.0" lengthAdjust="spacingAndGlyphs" ><tspan font-family="Noto Sans CJK SC, sans-serif" style="font-weight:900" font-size="17.0">&#9651;</tspan><tspan dx="2.5">t=8</tspan><tspan font-family="Noto Sans CJK SC, sans-serif" style="font-weight:500">&#8451;</tspan></text>
<text transform="translate(1905.5 1736.5) rotate(-45)" font-size="22" stroke="#000" stroke-width="0.26" stroke-linejoin="round" textLength="84.0" lengthAdjust="spacingAndGlyphs" ><tspan font-family="Noto Sans CJK SC, sans-serif" style="font-weight:900" font-size="17.0">&#9651;</tspan><tspan dx="2.5">t=10</tspan><tspan font-family="Noto Sans CJK SC, sans-serif" style="font-weight:500">&#8451;</tspan></text>
</svg>
</body></html>
